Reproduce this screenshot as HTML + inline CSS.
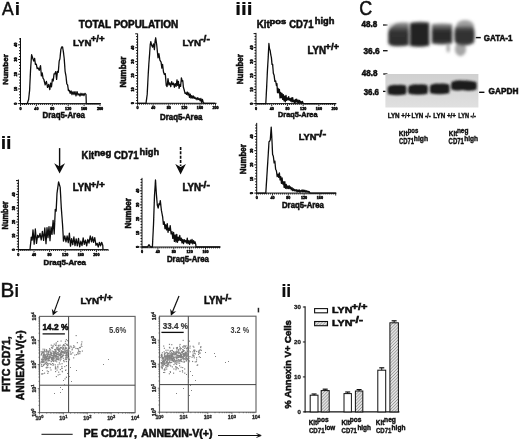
<!DOCTYPE html>
<html><head><meta charset="utf-8"><title>Figure</title>
<style>
html,body{margin:0;padding:0;background:#fff;}
body{width:520px;height:442px;overflow:hidden;}
svg{display:block;font-family:"Liberation Sans", Arial, sans-serif;}
</style></head><body>
<svg width="520" height="442" viewBox="0 0 520 442">
<defs>
<filter id="b1" x="-30%" y="-60%" width="160%" height="220%"><feGaussianBlur stdDeviation="1.6"/></filter>
<filter id="b2" x="-30%" y="-60%" width="160%" height="220%"><feGaussianBlur stdDeviation="0.9"/></filter>
<filter id="b3" x="-50%" y="-50%" width="200%" height="200%"><feGaussianBlur stdDeviation="2.5"/></filter>
<filter id="soft" x="0" y="0" width="100%" height="100%"><feGaussianBlur stdDeviation="0.42"/></filter>
<pattern id="hatch" width="2.2" height="2.2" patternUnits="userSpaceOnUse" patternTransform="rotate(45)"><rect width="2.2" height="2.2" fill="#e2e2e2"/><line x1="0" y1="0" x2="0" y2="2.2" stroke="#777" stroke-width="1"/></pattern>
</defs>
<rect width="520" height="442" fill="#fff"/>
<g filter="url(#soft)">
<text x="2.10" y="14.80" font-size="19.13" font-weight="normal" fill="#111" stroke="#111" stroke-width="0.55" textLength="11.61" lengthAdjust="spacingAndGlyphs">A</text>
<text x="14.70" y="14.80" font-size="18.31" font-weight="bold" fill="#111" stroke="#111" stroke-width="0.2" textLength="5.33" lengthAdjust="spacingAndGlyphs">i</text>
<text x="0.49" y="297.00" font-size="19.41" font-weight="normal" fill="#111" stroke="#111" stroke-width="0.55" textLength="13.78" lengthAdjust="spacingAndGlyphs">B</text>
<text x="14.50" y="297.00" font-size="17.91" font-weight="bold" fill="#111" stroke="#111" stroke-width="0.2" textLength="4.45" lengthAdjust="spacingAndGlyphs">i</text>
<text x="359.16" y="15.00" font-size="20.27" font-weight="normal" fill="#111" stroke="#111" stroke-width="0.55" textLength="12.96" lengthAdjust="spacingAndGlyphs">C</text>
<text x="0.68" y="148.80" font-size="18.31" font-weight="bold" fill="#111" stroke="#111" stroke-width="0.2" textLength="10.88" lengthAdjust="spacingAndGlyphs">ii</text>
<text x="235.31" y="14.60" font-size="17.50" font-weight="bold" fill="#111" stroke="#111" stroke-width="0.2" textLength="17.21" lengthAdjust="spacingAndGlyphs">iii</text>
<text x="281.51" y="297.00" font-size="18.18" font-weight="bold" fill="#111" stroke="#111" stroke-width="0.2" textLength="9.73" lengthAdjust="spacingAndGlyphs">ii</text>
<text x="78.80" y="27.80" font-size="10.03" font-weight="bold" fill="#111" stroke="#111" stroke-width="0.55" textLength="99.35" lengthAdjust="spacingAndGlyphs">TOTAL POPULATION</text>
<text x="81.61" y="159.40" font-size="10.31" font-weight="bold" fill="#111" stroke="#111" stroke-width="0.55" textLength="12.53" lengthAdjust="spacingAndGlyphs">Kit</text>
<text x="94.31" y="156.00" font-size="8.50" font-weight="bold" fill="#111" stroke="#111" stroke-width="0.55" textLength="16.90" lengthAdjust="spacingAndGlyphs">neg</text>
<text x="114.10" y="159.00" font-size="10.31" font-weight="bold" fill="#111" stroke="#111" stroke-width="0.55" textLength="24.44" lengthAdjust="spacingAndGlyphs">CD71</text>
<text x="139.62" y="154.70" font-size="9.19" font-weight="bold" fill="#111" stroke="#111" stroke-width="0.55" textLength="19.42" lengthAdjust="spacingAndGlyphs">high</text>
<text x="256.79" y="28.00" font-size="10.31" font-weight="bold" fill="#111" stroke="#111" stroke-width="0.55" textLength="12.95" lengthAdjust="spacingAndGlyphs">Kit</text>
<text x="269.52" y="23.50" font-size="7.41" font-weight="bold" fill="#111" stroke="#111" stroke-width="0.55" textLength="16.56" lengthAdjust="spacingAndGlyphs">pos</text>
<text x="289.20" y="28.00" font-size="10.31" font-weight="bold" fill="#111" stroke="#111" stroke-width="0.55" textLength="24.23" lengthAdjust="spacingAndGlyphs">CD71</text>
<text x="314.72" y="23.50" font-size="8.92" font-weight="bold" fill="#111" stroke="#111" stroke-width="0.55" textLength="19.63" lengthAdjust="spacingAndGlyphs">high</text>
<text x="72.89" y="45.50" font-size="9.88" font-weight="bold" fill="#111" stroke="#111" stroke-width="0.55" textLength="18.55" lengthAdjust="spacingAndGlyphs">LYN</text>
<text x="90.70" y="42.40" font-size="9.06" font-weight="bold" fill="#111" stroke="#111" stroke-width="0.55" textLength="13.86" lengthAdjust="spacingAndGlyphs">+/+</text>
<text x="182.39" y="45.50" font-size="9.88" font-weight="bold" fill="#111" stroke="#111" stroke-width="0.55" textLength="18.55" lengthAdjust="spacingAndGlyphs">LYN</text>
<text x="200.18" y="42.40" font-size="9.06" font-weight="bold" fill="#111" stroke="#111" stroke-width="0.55" textLength="9.69" lengthAdjust="spacingAndGlyphs">-/-</text>
<text x="72.69" y="190.80" font-size="10.03" font-weight="bold" fill="#111" stroke="#111" stroke-width="0.55" textLength="18.55" lengthAdjust="spacingAndGlyphs">LYN</text>
<text x="90.49" y="187.70" font-size="9.06" font-weight="bold" fill="#111" stroke="#111" stroke-width="0.55" textLength="14.38" lengthAdjust="spacingAndGlyphs">+/+</text>
<text x="182.39" y="190.80" font-size="10.03" font-weight="bold" fill="#111" stroke="#111" stroke-width="0.55" textLength="18.55" lengthAdjust="spacingAndGlyphs">LYN</text>
<text x="200.18" y="187.70" font-size="9.06" font-weight="bold" fill="#111" stroke="#111" stroke-width="0.55" textLength="9.69" lengthAdjust="spacingAndGlyphs">-/-</text>
<text x="307.49" y="53.50" font-size="10.03" font-weight="bold" fill="#111" stroke="#111" stroke-width="0.55" textLength="18.55" lengthAdjust="spacingAndGlyphs">LYN</text>
<text x="325.30" y="50.00" font-size="9.06" font-weight="bold" fill="#111" stroke="#111" stroke-width="0.55" textLength="13.86" lengthAdjust="spacingAndGlyphs">+/+</text>
<text x="298.72" y="140.30" font-size="9.32" font-weight="bold" fill="#111" stroke="#111" stroke-width="0.55" textLength="17.69" lengthAdjust="spacingAndGlyphs">LYN</text>
<text x="315.65" y="137.00" font-size="8.78" font-weight="bold" fill="#111" stroke="#111" stroke-width="0.55" textLength="10.55" lengthAdjust="spacingAndGlyphs">-/-</text>
<text x="80.39" y="303.50" font-size="9.88" font-weight="bold" fill="#111" stroke="#111" stroke-width="0.55" textLength="18.55" lengthAdjust="spacingAndGlyphs">LYN</text>
<text x="98.19" y="300.50" font-size="9.19" font-weight="bold" fill="#111" stroke="#111" stroke-width="0.55" textLength="14.38" lengthAdjust="spacingAndGlyphs">+/+</text>
<text x="203.99" y="303.90" font-size="10.45" font-weight="bold" fill="#111" stroke="#111" stroke-width="0.55" textLength="18.55" lengthAdjust="spacingAndGlyphs">LYN</text>
<text x="221.78" y="300.50" font-size="9.19" font-weight="bold" fill="#111" stroke="#111" stroke-width="0.55" textLength="9.80" lengthAdjust="spacingAndGlyphs">-/-</text>
<text x="332.03" y="313.40" font-size="9.17" font-weight="bold" fill="#111" stroke="#111" stroke-width="0.55" textLength="20.37" lengthAdjust="spacingAndGlyphs">LYN</text>
<text x="351.55" y="309.50" font-size="9.33" font-weight="bold" fill="#111" stroke="#111" stroke-width="0.55" textLength="16.06" lengthAdjust="spacingAndGlyphs">+/+</text>
<text x="332.03" y="326.20" font-size="9.03" font-weight="bold" fill="#111" stroke="#111" stroke-width="0.55" textLength="20.37" lengthAdjust="spacingAndGlyphs">LYN</text>
<text x="351.52" y="323.00" font-size="8.24" font-weight="bold" fill="#111" stroke="#111" stroke-width="0.55" textLength="11.41" lengthAdjust="spacingAndGlyphs">-/-</text>
<text transform="translate(7.80,84.70) rotate(-90)" x="0" y="0" font-size="8.10" font-weight="bold" fill="#111" stroke="#111" stroke-width="0.55" textLength="30.52" lengthAdjust="spacingAndGlyphs">Number</text>
<text transform="translate(125.50,87.61) rotate(-90)" x="0" y="0" font-size="8.37" font-weight="bold" fill="#111" stroke="#111" stroke-width="0.55" textLength="31.03" lengthAdjust="spacingAndGlyphs">Number</text>
<text transform="translate(7.60,229.47) rotate(-90)" x="0" y="0" font-size="8.37" font-weight="bold" fill="#111" stroke="#111" stroke-width="0.55" textLength="28.17" lengthAdjust="spacingAndGlyphs">Number</text>
<text transform="translate(131.40,228.61) rotate(-90)" x="0" y="0" font-size="8.37" font-weight="bold" fill="#111" stroke="#111" stroke-width="0.55" textLength="30.62" lengthAdjust="spacingAndGlyphs">Number</text>
<text transform="translate(243.30,84.20) rotate(-90)" x="0" y="0" font-size="8.78" font-weight="bold" fill="#111" stroke="#111" stroke-width="0.55" textLength="30.11" lengthAdjust="spacingAndGlyphs">Number</text>
<text transform="translate(246.30,174.20) rotate(-90)" x="0" y="0" font-size="8.78" font-weight="bold" fill="#111" stroke="#111" stroke-width="0.55" textLength="30.11" lengthAdjust="spacingAndGlyphs">Number</text>
<text x="42.51" y="118.00" font-size="8.46" font-weight="bold" fill="#111" stroke="#111" stroke-width="0.55" textLength="42.44" lengthAdjust="spacingAndGlyphs">Draq5-Area</text>
<text x="160.01" y="120.00" font-size="8.46" font-weight="bold" fill="#111" stroke="#111" stroke-width="0.55" textLength="42.44" lengthAdjust="spacingAndGlyphs">Draq5-Area</text>
<text x="43.51" y="264.50" font-size="7.75" font-weight="bold" fill="#111" stroke="#111" stroke-width="0.55" textLength="42.44" lengthAdjust="spacingAndGlyphs">Draq5-Area</text>
<text x="167.01" y="262.00" font-size="8.46" font-weight="bold" fill="#111" stroke="#111" stroke-width="0.55" textLength="41.94" lengthAdjust="spacingAndGlyphs">Draq5-Area</text>
<text x="278.04" y="117.00" font-size="7.75" font-weight="bold" fill="#111" stroke="#111" stroke-width="0.55" textLength="39.41" lengthAdjust="spacingAndGlyphs">Draq5-Area</text>
<text x="282.01" y="207.50" font-size="8.46" font-weight="bold" fill="#111" stroke="#111" stroke-width="0.55" textLength="41.94" lengthAdjust="spacingAndGlyphs">Draq5-Area</text>
<line x1="20.50" y1="38.00" x2="20.50" y2="104.10" stroke="#111" stroke-width="1"/>
<line x1="20.00" y1="103.60" x2="101.00" y2="103.60" stroke="#111" stroke-width="1"/>
<line x1="18.10" y1="103.60" x2="20.50" y2="103.60" stroke="#111" stroke-width="1.0"/>
<line x1="19.00" y1="100.66" x2="20.50" y2="100.66" stroke="#111" stroke-width="1.0"/>
<line x1="19.00" y1="97.72" x2="20.50" y2="97.72" stroke="#111" stroke-width="1.0"/>
<line x1="19.00" y1="94.78" x2="20.50" y2="94.78" stroke="#111" stroke-width="1.0"/>
<line x1="19.00" y1="91.84" x2="20.50" y2="91.84" stroke="#111" stroke-width="1.0"/>
<line x1="18.10" y1="88.90" x2="20.50" y2="88.90" stroke="#111" stroke-width="1.0"/>
<line x1="19.00" y1="85.96" x2="20.50" y2="85.96" stroke="#111" stroke-width="1.0"/>
<line x1="19.00" y1="83.02" x2="20.50" y2="83.02" stroke="#111" stroke-width="1.0"/>
<line x1="19.00" y1="80.08" x2="20.50" y2="80.08" stroke="#111" stroke-width="1.0"/>
<line x1="19.00" y1="77.14" x2="20.50" y2="77.14" stroke="#111" stroke-width="1.0"/>
<line x1="18.10" y1="74.20" x2="20.50" y2="74.20" stroke="#111" stroke-width="1.0"/>
<line x1="19.00" y1="71.26" x2="20.50" y2="71.26" stroke="#111" stroke-width="1.0"/>
<line x1="19.00" y1="68.32" x2="20.50" y2="68.32" stroke="#111" stroke-width="1.0"/>
<line x1="19.00" y1="65.38" x2="20.50" y2="65.38" stroke="#111" stroke-width="1.0"/>
<line x1="19.00" y1="62.44" x2="20.50" y2="62.44" stroke="#111" stroke-width="1.0"/>
<line x1="18.10" y1="59.50" x2="20.50" y2="59.50" stroke="#111" stroke-width="1.0"/>
<line x1="19.00" y1="56.56" x2="20.50" y2="56.56" stroke="#111" stroke-width="1.0"/>
<line x1="19.00" y1="53.62" x2="20.50" y2="53.62" stroke="#111" stroke-width="1.0"/>
<line x1="19.00" y1="50.68" x2="20.50" y2="50.68" stroke="#111" stroke-width="1.0"/>
<line x1="19.00" y1="47.74" x2="20.50" y2="47.74" stroke="#111" stroke-width="1.0"/>
<line x1="18.10" y1="44.80" x2="20.50" y2="44.80" stroke="#111" stroke-width="1.0"/>
<line x1="19.00" y1="41.86" x2="20.50" y2="41.86" stroke="#111" stroke-width="1.0"/>
<line x1="19.00" y1="38.92" x2="20.50" y2="38.92" stroke="#111" stroke-width="1.0"/>
<line x1="20.50" y1="103.60" x2="20.50" y2="106.00" stroke="#111" stroke-width="0.9"/>
<line x1="22.49" y1="103.60" x2="22.49" y2="105.00" stroke="#111" stroke-width="0.9"/>
<line x1="24.48" y1="103.60" x2="24.48" y2="105.00" stroke="#111" stroke-width="0.9"/>
<line x1="26.46" y1="103.60" x2="26.46" y2="105.00" stroke="#111" stroke-width="0.9"/>
<line x1="28.45" y1="103.60" x2="28.45" y2="105.00" stroke="#111" stroke-width="0.9"/>
<line x1="30.44" y1="103.60" x2="30.44" y2="105.00" stroke="#111" stroke-width="0.9"/>
<line x1="32.42" y1="103.60" x2="32.42" y2="105.00" stroke="#111" stroke-width="0.9"/>
<line x1="34.41" y1="103.60" x2="34.41" y2="105.00" stroke="#111" stroke-width="0.9"/>
<line x1="36.40" y1="103.60" x2="36.40" y2="106.00" stroke="#111" stroke-width="0.9"/>
<line x1="38.39" y1="103.60" x2="38.39" y2="105.00" stroke="#111" stroke-width="0.9"/>
<line x1="40.38" y1="103.60" x2="40.38" y2="105.00" stroke="#111" stroke-width="0.9"/>
<line x1="42.36" y1="103.60" x2="42.36" y2="105.00" stroke="#111" stroke-width="0.9"/>
<line x1="44.35" y1="103.60" x2="44.35" y2="105.00" stroke="#111" stroke-width="0.9"/>
<line x1="46.34" y1="103.60" x2="46.34" y2="105.00" stroke="#111" stroke-width="0.9"/>
<line x1="48.33" y1="103.60" x2="48.33" y2="105.00" stroke="#111" stroke-width="0.9"/>
<line x1="50.31" y1="103.60" x2="50.31" y2="105.00" stroke="#111" stroke-width="0.9"/>
<line x1="52.30" y1="103.60" x2="52.30" y2="106.00" stroke="#111" stroke-width="0.9"/>
<line x1="54.29" y1="103.60" x2="54.29" y2="105.00" stroke="#111" stroke-width="0.9"/>
<line x1="56.27" y1="103.60" x2="56.27" y2="105.00" stroke="#111" stroke-width="0.9"/>
<line x1="58.26" y1="103.60" x2="58.26" y2="105.00" stroke="#111" stroke-width="0.9"/>
<line x1="60.25" y1="103.60" x2="60.25" y2="105.00" stroke="#111" stroke-width="0.9"/>
<line x1="62.24" y1="103.60" x2="62.24" y2="105.00" stroke="#111" stroke-width="0.9"/>
<line x1="64.22" y1="103.60" x2="64.22" y2="105.00" stroke="#111" stroke-width="0.9"/>
<line x1="66.21" y1="103.60" x2="66.21" y2="105.00" stroke="#111" stroke-width="0.9"/>
<line x1="68.20" y1="103.60" x2="68.20" y2="106.00" stroke="#111" stroke-width="0.9"/>
<line x1="70.19" y1="103.60" x2="70.19" y2="105.00" stroke="#111" stroke-width="0.9"/>
<line x1="72.18" y1="103.60" x2="72.18" y2="105.00" stroke="#111" stroke-width="0.9"/>
<line x1="74.16" y1="103.60" x2="74.16" y2="105.00" stroke="#111" stroke-width="0.9"/>
<line x1="76.15" y1="103.60" x2="76.15" y2="105.00" stroke="#111" stroke-width="0.9"/>
<line x1="78.14" y1="103.60" x2="78.14" y2="105.00" stroke="#111" stroke-width="0.9"/>
<line x1="80.12" y1="103.60" x2="80.12" y2="105.00" stroke="#111" stroke-width="0.9"/>
<line x1="82.11" y1="103.60" x2="82.11" y2="105.00" stroke="#111" stroke-width="0.9"/>
<line x1="84.10" y1="103.60" x2="84.10" y2="106.00" stroke="#111" stroke-width="0.9"/>
<line x1="86.09" y1="103.60" x2="86.09" y2="105.00" stroke="#111" stroke-width="0.9"/>
<line x1="88.08" y1="103.60" x2="88.08" y2="105.00" stroke="#111" stroke-width="0.9"/>
<line x1="90.06" y1="103.60" x2="90.06" y2="105.00" stroke="#111" stroke-width="0.9"/>
<line x1="92.05" y1="103.60" x2="92.05" y2="105.00" stroke="#111" stroke-width="0.9"/>
<line x1="94.04" y1="103.60" x2="94.04" y2="105.00" stroke="#111" stroke-width="0.9"/>
<line x1="96.03" y1="103.60" x2="96.03" y2="105.00" stroke="#111" stroke-width="0.9"/>
<line x1="98.01" y1="103.60" x2="98.01" y2="105.00" stroke="#111" stroke-width="0.9"/>
<line x1="100.00" y1="103.60" x2="100.00" y2="106.00" stroke="#111" stroke-width="0.9"/>
<text transform="translate(17.10,103.60) rotate(-90)" text-anchor="middle" font-size="3.7" font-weight="bold" fill="#111" stroke="#111" stroke-width="0.5">0</text>
<text transform="translate(17.10,88.90) rotate(-90)" text-anchor="middle" font-size="3.7" font-weight="bold" fill="#111" stroke="#111" stroke-width="0.5">10</text>
<text transform="translate(17.10,74.20) rotate(-90)" text-anchor="middle" font-size="3.7" font-weight="bold" fill="#111" stroke="#111" stroke-width="0.5">20</text>
<text transform="translate(17.10,59.50) rotate(-90)" text-anchor="middle" font-size="3.7" font-weight="bold" fill="#111" stroke="#111" stroke-width="0.5">30</text>
<text transform="translate(17.10,44.80) rotate(-90)" text-anchor="middle" font-size="3.7" font-weight="bold" fill="#111" stroke="#111" stroke-width="0.5">40</text>
<text x="20.50" y="109.60" text-anchor="middle" font-size="3.7" font-weight="bold" fill="#111" stroke="#111" stroke-width="0.5">0</text>
<text x="36.40" y="109.60" text-anchor="middle" font-size="3.7" font-weight="bold" fill="#111" stroke="#111" stroke-width="0.5">40</text>
<text x="52.30" y="109.60" text-anchor="middle" font-size="3.7" font-weight="bold" fill="#111" stroke="#111" stroke-width="0.5">80</text>
<text x="68.20" y="109.60" text-anchor="middle" font-size="3.7" font-weight="bold" fill="#111" stroke="#111" stroke-width="0.5">120</text>
<text x="84.10" y="109.60" text-anchor="middle" font-size="3.7" font-weight="bold" fill="#111" stroke="#111" stroke-width="0.5">160</text>
<text x="100.00" y="109.60" text-anchor="middle" font-size="3.7" font-weight="bold" fill="#111" stroke="#111" stroke-width="0.5">200</text>
<path d="M20.50,103.60 L21.46,103.60 L22.41,103.60 L23.37,103.60 L24.33,103.60 L25.29,103.60 L26.24,103.60 L27.20,103.60 L28.60,99.46 L29.60,90.31 L30.60,68.91 L31.60,54.72 L32.90,58.77 L33.75,61.03 L34.60,58.30 L35.45,64.39 L36.30,64.13 L37.15,68.54 L38.00,67.91 L39.25,70.21 L40.50,65.57 L41.40,75.93 L42.20,72.90 L43.00,78.05 L43.90,79.49 L45.15,84.84 L46.40,81.48 L47.53,87.46 L48.67,84.43 L49.80,89.66 L50.65,83.18 L51.50,86.76 L52.35,79.08 L53.20,81.01 L54.05,73.88 L54.90,73.75 L55.75,71.61 L56.60,79.37 L57.45,71.43 L58.30,72.25 L59.15,61.35 L60.00,58.31 L60.85,49.47 L61.70,47.01 L62.55,46.97 L63.40,51.93 L64.20,58.47 L65.10,71.27 L66.00,76.11 L66.80,83.88 L67.60,84.82 L68.45,90.63 L69.30,90.31 L70.20,93.29 L71.10,90.85 L72.00,94.55 L73.00,91.72 L74.00,94.66 L75.00,91.56 L76.00,95.94 L77.00,91.55 L78.00,95.00 L79.00,93.80 L80.00,96.00 L81.00,93.29 L82.00,95.41 L83.00,93.49 L84.00,95.61 L85.00,93.34 L86.00,94.38 L86.30,103.60 L87.28,103.60 L88.26,103.60 L89.24,103.60 L90.21,103.60 L91.19,103.60 L92.17,103.60 L93.15,103.60 L94.13,103.60 L95.11,103.60 L96.09,103.60 L97.06,103.60 L98.04,103.60 L99.02,103.60 L100.00,103.60" fill="none" stroke="#111" stroke-width="1.3" stroke-linejoin="round"/>
<line x1="137.60" y1="33.60" x2="137.60" y2="103.80" stroke="#111" stroke-width="1"/>
<line x1="137.10" y1="103.30" x2="216.50" y2="103.30" stroke="#111" stroke-width="1"/>
<line x1="135.20" y1="103.30" x2="137.60" y2="103.30" stroke="#111" stroke-width="1.0"/>
<line x1="136.10" y1="100.52" x2="137.60" y2="100.52" stroke="#111" stroke-width="1.0"/>
<line x1="136.10" y1="97.74" x2="137.60" y2="97.74" stroke="#111" stroke-width="1.0"/>
<line x1="136.10" y1="94.96" x2="137.60" y2="94.96" stroke="#111" stroke-width="1.0"/>
<line x1="136.10" y1="92.18" x2="137.60" y2="92.18" stroke="#111" stroke-width="1.0"/>
<line x1="135.20" y1="89.40" x2="137.60" y2="89.40" stroke="#111" stroke-width="1.0"/>
<line x1="136.10" y1="86.62" x2="137.60" y2="86.62" stroke="#111" stroke-width="1.0"/>
<line x1="136.10" y1="83.84" x2="137.60" y2="83.84" stroke="#111" stroke-width="1.0"/>
<line x1="136.10" y1="81.06" x2="137.60" y2="81.06" stroke="#111" stroke-width="1.0"/>
<line x1="136.10" y1="78.28" x2="137.60" y2="78.28" stroke="#111" stroke-width="1.0"/>
<line x1="135.20" y1="75.50" x2="137.60" y2="75.50" stroke="#111" stroke-width="1.0"/>
<line x1="136.10" y1="72.72" x2="137.60" y2="72.72" stroke="#111" stroke-width="1.0"/>
<line x1="136.10" y1="69.94" x2="137.60" y2="69.94" stroke="#111" stroke-width="1.0"/>
<line x1="136.10" y1="67.16" x2="137.60" y2="67.16" stroke="#111" stroke-width="1.0"/>
<line x1="136.10" y1="64.38" x2="137.60" y2="64.38" stroke="#111" stroke-width="1.0"/>
<line x1="135.20" y1="61.60" x2="137.60" y2="61.60" stroke="#111" stroke-width="1.0"/>
<line x1="136.10" y1="58.82" x2="137.60" y2="58.82" stroke="#111" stroke-width="1.0"/>
<line x1="136.10" y1="56.04" x2="137.60" y2="56.04" stroke="#111" stroke-width="1.0"/>
<line x1="136.10" y1="53.26" x2="137.60" y2="53.26" stroke="#111" stroke-width="1.0"/>
<line x1="136.10" y1="50.48" x2="137.60" y2="50.48" stroke="#111" stroke-width="1.0"/>
<line x1="135.20" y1="47.70" x2="137.60" y2="47.70" stroke="#111" stroke-width="1.0"/>
<line x1="136.10" y1="44.92" x2="137.60" y2="44.92" stroke="#111" stroke-width="1.0"/>
<line x1="136.10" y1="42.14" x2="137.60" y2="42.14" stroke="#111" stroke-width="1.0"/>
<line x1="136.10" y1="39.36" x2="137.60" y2="39.36" stroke="#111" stroke-width="1.0"/>
<line x1="136.10" y1="36.58" x2="137.60" y2="36.58" stroke="#111" stroke-width="1.0"/>
<line x1="135.20" y1="33.80" x2="137.60" y2="33.80" stroke="#111" stroke-width="1.0"/>
<line x1="137.60" y1="103.30" x2="137.60" y2="105.70" stroke="#111" stroke-width="0.9"/>
<line x1="139.55" y1="103.30" x2="139.55" y2="104.70" stroke="#111" stroke-width="0.9"/>
<line x1="141.50" y1="103.30" x2="141.50" y2="104.70" stroke="#111" stroke-width="0.9"/>
<line x1="143.44" y1="103.30" x2="143.44" y2="104.70" stroke="#111" stroke-width="0.9"/>
<line x1="145.39" y1="103.30" x2="145.39" y2="104.70" stroke="#111" stroke-width="0.9"/>
<line x1="147.34" y1="103.30" x2="147.34" y2="104.70" stroke="#111" stroke-width="0.9"/>
<line x1="149.28" y1="103.30" x2="149.28" y2="104.70" stroke="#111" stroke-width="0.9"/>
<line x1="151.23" y1="103.30" x2="151.23" y2="104.70" stroke="#111" stroke-width="0.9"/>
<line x1="153.18" y1="103.30" x2="153.18" y2="105.70" stroke="#111" stroke-width="0.9"/>
<line x1="155.13" y1="103.30" x2="155.13" y2="104.70" stroke="#111" stroke-width="0.9"/>
<line x1="157.07" y1="103.30" x2="157.07" y2="104.70" stroke="#111" stroke-width="0.9"/>
<line x1="159.02" y1="103.30" x2="159.02" y2="104.70" stroke="#111" stroke-width="0.9"/>
<line x1="160.97" y1="103.30" x2="160.97" y2="104.70" stroke="#111" stroke-width="0.9"/>
<line x1="162.92" y1="103.30" x2="162.92" y2="104.70" stroke="#111" stroke-width="0.9"/>
<line x1="164.87" y1="103.30" x2="164.87" y2="104.70" stroke="#111" stroke-width="0.9"/>
<line x1="166.81" y1="103.30" x2="166.81" y2="104.70" stroke="#111" stroke-width="0.9"/>
<line x1="168.76" y1="103.30" x2="168.76" y2="105.70" stroke="#111" stroke-width="0.9"/>
<line x1="170.71" y1="103.30" x2="170.71" y2="104.70" stroke="#111" stroke-width="0.9"/>
<line x1="172.66" y1="103.30" x2="172.66" y2="104.70" stroke="#111" stroke-width="0.9"/>
<line x1="174.60" y1="103.30" x2="174.60" y2="104.70" stroke="#111" stroke-width="0.9"/>
<line x1="176.55" y1="103.30" x2="176.55" y2="104.70" stroke="#111" stroke-width="0.9"/>
<line x1="178.50" y1="103.30" x2="178.50" y2="104.70" stroke="#111" stroke-width="0.9"/>
<line x1="180.44" y1="103.30" x2="180.44" y2="104.70" stroke="#111" stroke-width="0.9"/>
<line x1="182.39" y1="103.30" x2="182.39" y2="104.70" stroke="#111" stroke-width="0.9"/>
<line x1="184.34" y1="103.30" x2="184.34" y2="105.70" stroke="#111" stroke-width="0.9"/>
<line x1="186.29" y1="103.30" x2="186.29" y2="104.70" stroke="#111" stroke-width="0.9"/>
<line x1="188.24" y1="103.30" x2="188.24" y2="104.70" stroke="#111" stroke-width="0.9"/>
<line x1="190.18" y1="103.30" x2="190.18" y2="104.70" stroke="#111" stroke-width="0.9"/>
<line x1="192.13" y1="103.30" x2="192.13" y2="104.70" stroke="#111" stroke-width="0.9"/>
<line x1="194.08" y1="103.30" x2="194.08" y2="104.70" stroke="#111" stroke-width="0.9"/>
<line x1="196.03" y1="103.30" x2="196.03" y2="104.70" stroke="#111" stroke-width="0.9"/>
<line x1="197.97" y1="103.30" x2="197.97" y2="104.70" stroke="#111" stroke-width="0.9"/>
<line x1="199.92" y1="103.30" x2="199.92" y2="105.70" stroke="#111" stroke-width="0.9"/>
<line x1="201.87" y1="103.30" x2="201.87" y2="104.70" stroke="#111" stroke-width="0.9"/>
<line x1="203.81" y1="103.30" x2="203.81" y2="104.70" stroke="#111" stroke-width="0.9"/>
<line x1="205.76" y1="103.30" x2="205.76" y2="104.70" stroke="#111" stroke-width="0.9"/>
<line x1="207.71" y1="103.30" x2="207.71" y2="104.70" stroke="#111" stroke-width="0.9"/>
<line x1="209.66" y1="103.30" x2="209.66" y2="104.70" stroke="#111" stroke-width="0.9"/>
<line x1="211.60" y1="103.30" x2="211.60" y2="104.70" stroke="#111" stroke-width="0.9"/>
<line x1="213.55" y1="103.30" x2="213.55" y2="104.70" stroke="#111" stroke-width="0.9"/>
<line x1="215.50" y1="103.30" x2="215.50" y2="105.70" stroke="#111" stroke-width="0.9"/>
<text transform="translate(134.20,103.30) rotate(-90)" text-anchor="middle" font-size="3.7" font-weight="bold" fill="#111" stroke="#111" stroke-width="0.5">0</text>
<text transform="translate(134.20,89.40) rotate(-90)" text-anchor="middle" font-size="3.7" font-weight="bold" fill="#111" stroke="#111" stroke-width="0.5">10</text>
<text transform="translate(134.20,75.50) rotate(-90)" text-anchor="middle" font-size="3.7" font-weight="bold" fill="#111" stroke="#111" stroke-width="0.5">20</text>
<text transform="translate(134.20,61.60) rotate(-90)" text-anchor="middle" font-size="3.7" font-weight="bold" fill="#111" stroke="#111" stroke-width="0.5">30</text>
<text transform="translate(134.20,47.70) rotate(-90)" text-anchor="middle" font-size="3.7" font-weight="bold" fill="#111" stroke="#111" stroke-width="0.5">40</text>
<text x="137.60" y="109.30" text-anchor="middle" font-size="3.7" font-weight="bold" fill="#111" stroke="#111" stroke-width="0.5">0</text>
<text x="153.18" y="109.30" text-anchor="middle" font-size="3.7" font-weight="bold" fill="#111" stroke="#111" stroke-width="0.5">40</text>
<text x="168.76" y="109.30" text-anchor="middle" font-size="3.7" font-weight="bold" fill="#111" stroke="#111" stroke-width="0.5">80</text>
<text x="184.34" y="109.30" text-anchor="middle" font-size="3.7" font-weight="bold" fill="#111" stroke="#111" stroke-width="0.5">120</text>
<text x="199.92" y="109.30" text-anchor="middle" font-size="3.7" font-weight="bold" fill="#111" stroke="#111" stroke-width="0.5">160</text>
<text x="215.50" y="109.30" text-anchor="middle" font-size="3.7" font-weight="bold" fill="#111" stroke="#111" stroke-width="0.5">200</text>
<path d="M137.60,103.30 L138.36,103.30 L139.13,103.30 L139.89,103.30 L140.65,103.30 L141.42,103.30 L142.18,103.30 L142.95,103.30 L143.71,103.30 L144.47,103.30 L145.24,103.30 L146.00,103.30 L147.20,94.39 L148.10,76.42 L148.85,63.74 L149.60,54.13 L150.20,45.08 L150.80,41.59 L151.70,45.42 L152.60,47.07 L153.50,43.97 L154.40,49.58 L155.05,41.40 L155.70,37.77 L156.80,45.57 L158.00,57.79 L158.95,53.73 L159.90,60.11 L161.10,62.05 L161.85,68.11 L162.60,64.46 L163.50,71.98 L164.40,74.41 L165.30,73.60 L166.20,85.07 L167.10,86.55 L168.00,78.62 L168.90,84.96 L169.80,82.83 L170.73,86.64 L171.67,81.76 L172.60,84.64 L173.50,83.14 L174.40,87.23 L175.27,83.66 L176.13,86.43 L177.00,79.93 L177.70,85.40 L178.40,81.33 L179.10,88.41 L179.80,84.77 L180.60,86.42 L181.40,77.82 L182.20,80.99 L182.80,80.79 L183.40,87.21 L184.30,90.29 L185.04,93.36 L185.78,92.84 L186.52,94.37 L187.26,92.02 L188.00,95.15 L188.75,92.96 L189.50,97.31 L190.25,94.13 L191.00,98.07 L191.75,95.72 L192.50,98.04 L193.25,95.91 L194.00,98.44 L194.75,96.99 L195.50,98.78 L196.25,98.07 L197.00,99.77 L197.77,97.67 L198.54,99.52 L199.31,98.73 L200.09,100.79 L200.86,98.41 L201.63,102.30 L202.40,99.49 L203.30,102.45 L204.20,103.30 L204.97,103.30 L205.74,103.30 L206.51,103.30 L207.29,103.30 L208.06,103.30 L208.83,103.30 L209.60,103.30 L210.37,103.30 L211.14,103.30 L211.91,103.30 L212.69,103.30 L213.46,103.30 L214.23,103.30 L215.00,103.30" fill="none" stroke="#111" stroke-width="1.3" stroke-linejoin="round"/>
<line x1="18.40" y1="179.50" x2="18.40" y2="250.10" stroke="#111" stroke-width="1"/>
<line x1="17.90" y1="249.60" x2="108.40" y2="249.60" stroke="#111" stroke-width="1"/>
<line x1="16.00" y1="249.60" x2="18.40" y2="249.60" stroke="#111" stroke-width="1.0"/>
<line x1="16.90" y1="246.84" x2="18.40" y2="246.84" stroke="#111" stroke-width="1.0"/>
<line x1="16.90" y1="244.08" x2="18.40" y2="244.08" stroke="#111" stroke-width="1.0"/>
<line x1="16.90" y1="241.32" x2="18.40" y2="241.32" stroke="#111" stroke-width="1.0"/>
<line x1="16.90" y1="238.56" x2="18.40" y2="238.56" stroke="#111" stroke-width="1.0"/>
<line x1="16.00" y1="235.80" x2="18.40" y2="235.80" stroke="#111" stroke-width="1.0"/>
<line x1="16.90" y1="233.04" x2="18.40" y2="233.04" stroke="#111" stroke-width="1.0"/>
<line x1="16.90" y1="230.28" x2="18.40" y2="230.28" stroke="#111" stroke-width="1.0"/>
<line x1="16.90" y1="227.52" x2="18.40" y2="227.52" stroke="#111" stroke-width="1.0"/>
<line x1="16.90" y1="224.76" x2="18.40" y2="224.76" stroke="#111" stroke-width="1.0"/>
<line x1="16.00" y1="222.00" x2="18.40" y2="222.00" stroke="#111" stroke-width="1.0"/>
<line x1="16.90" y1="219.24" x2="18.40" y2="219.24" stroke="#111" stroke-width="1.0"/>
<line x1="16.90" y1="216.48" x2="18.40" y2="216.48" stroke="#111" stroke-width="1.0"/>
<line x1="16.90" y1="213.72" x2="18.40" y2="213.72" stroke="#111" stroke-width="1.0"/>
<line x1="16.90" y1="210.96" x2="18.40" y2="210.96" stroke="#111" stroke-width="1.0"/>
<line x1="16.00" y1="208.20" x2="18.40" y2="208.20" stroke="#111" stroke-width="1.0"/>
<line x1="16.90" y1="205.44" x2="18.40" y2="205.44" stroke="#111" stroke-width="1.0"/>
<line x1="16.90" y1="202.68" x2="18.40" y2="202.68" stroke="#111" stroke-width="1.0"/>
<line x1="16.90" y1="199.92" x2="18.40" y2="199.92" stroke="#111" stroke-width="1.0"/>
<line x1="16.90" y1="197.16" x2="18.40" y2="197.16" stroke="#111" stroke-width="1.0"/>
<line x1="16.00" y1="194.40" x2="18.40" y2="194.40" stroke="#111" stroke-width="1.0"/>
<line x1="16.90" y1="191.64" x2="18.40" y2="191.64" stroke="#111" stroke-width="1.0"/>
<line x1="16.90" y1="188.88" x2="18.40" y2="188.88" stroke="#111" stroke-width="1.0"/>
<line x1="16.90" y1="186.12" x2="18.40" y2="186.12" stroke="#111" stroke-width="1.0"/>
<line x1="16.90" y1="183.36" x2="18.40" y2="183.36" stroke="#111" stroke-width="1.0"/>
<line x1="16.00" y1="180.60" x2="18.40" y2="180.60" stroke="#111" stroke-width="1.0"/>
<line x1="18.40" y1="249.60" x2="18.40" y2="252.00" stroke="#111" stroke-width="0.9"/>
<line x1="20.35" y1="249.60" x2="20.35" y2="251.00" stroke="#111" stroke-width="0.9"/>
<line x1="22.30" y1="249.60" x2="22.30" y2="251.00" stroke="#111" stroke-width="0.9"/>
<line x1="24.25" y1="249.60" x2="24.25" y2="251.00" stroke="#111" stroke-width="0.9"/>
<line x1="26.20" y1="249.60" x2="26.20" y2="251.00" stroke="#111" stroke-width="0.9"/>
<line x1="28.15" y1="249.60" x2="28.15" y2="251.00" stroke="#111" stroke-width="0.9"/>
<line x1="30.10" y1="249.60" x2="30.10" y2="251.00" stroke="#111" stroke-width="0.9"/>
<line x1="32.05" y1="249.60" x2="32.05" y2="251.00" stroke="#111" stroke-width="0.9"/>
<line x1="34.00" y1="249.60" x2="34.00" y2="252.00" stroke="#111" stroke-width="0.9"/>
<line x1="35.95" y1="249.60" x2="35.95" y2="251.00" stroke="#111" stroke-width="0.9"/>
<line x1="37.90" y1="249.60" x2="37.90" y2="251.00" stroke="#111" stroke-width="0.9"/>
<line x1="39.85" y1="249.60" x2="39.85" y2="251.00" stroke="#111" stroke-width="0.9"/>
<line x1="41.80" y1="249.60" x2="41.80" y2="251.00" stroke="#111" stroke-width="0.9"/>
<line x1="43.75" y1="249.60" x2="43.75" y2="251.00" stroke="#111" stroke-width="0.9"/>
<line x1="45.70" y1="249.60" x2="45.70" y2="251.00" stroke="#111" stroke-width="0.9"/>
<line x1="47.65" y1="249.60" x2="47.65" y2="251.00" stroke="#111" stroke-width="0.9"/>
<line x1="49.60" y1="249.60" x2="49.60" y2="252.00" stroke="#111" stroke-width="0.9"/>
<line x1="51.55" y1="249.60" x2="51.55" y2="251.00" stroke="#111" stroke-width="0.9"/>
<line x1="53.50" y1="249.60" x2="53.50" y2="251.00" stroke="#111" stroke-width="0.9"/>
<line x1="55.45" y1="249.60" x2="55.45" y2="251.00" stroke="#111" stroke-width="0.9"/>
<line x1="57.40" y1="249.60" x2="57.40" y2="251.00" stroke="#111" stroke-width="0.9"/>
<line x1="59.35" y1="249.60" x2="59.35" y2="251.00" stroke="#111" stroke-width="0.9"/>
<line x1="61.30" y1="249.60" x2="61.30" y2="251.00" stroke="#111" stroke-width="0.9"/>
<line x1="63.25" y1="249.60" x2="63.25" y2="251.00" stroke="#111" stroke-width="0.9"/>
<line x1="65.20" y1="249.60" x2="65.20" y2="252.00" stroke="#111" stroke-width="0.9"/>
<line x1="67.15" y1="249.60" x2="67.15" y2="251.00" stroke="#111" stroke-width="0.9"/>
<line x1="69.10" y1="249.60" x2="69.10" y2="251.00" stroke="#111" stroke-width="0.9"/>
<line x1="71.05" y1="249.60" x2="71.05" y2="251.00" stroke="#111" stroke-width="0.9"/>
<line x1="73.00" y1="249.60" x2="73.00" y2="251.00" stroke="#111" stroke-width="0.9"/>
<line x1="74.95" y1="249.60" x2="74.95" y2="251.00" stroke="#111" stroke-width="0.9"/>
<line x1="76.90" y1="249.60" x2="76.90" y2="251.00" stroke="#111" stroke-width="0.9"/>
<line x1="78.85" y1="249.60" x2="78.85" y2="251.00" stroke="#111" stroke-width="0.9"/>
<line x1="80.80" y1="249.60" x2="80.80" y2="252.00" stroke="#111" stroke-width="0.9"/>
<line x1="82.75" y1="249.60" x2="82.75" y2="251.00" stroke="#111" stroke-width="0.9"/>
<line x1="84.70" y1="249.60" x2="84.70" y2="251.00" stroke="#111" stroke-width="0.9"/>
<line x1="86.65" y1="249.60" x2="86.65" y2="251.00" stroke="#111" stroke-width="0.9"/>
<line x1="88.60" y1="249.60" x2="88.60" y2="251.00" stroke="#111" stroke-width="0.9"/>
<line x1="90.55" y1="249.60" x2="90.55" y2="251.00" stroke="#111" stroke-width="0.9"/>
<line x1="92.50" y1="249.60" x2="92.50" y2="251.00" stroke="#111" stroke-width="0.9"/>
<line x1="94.45" y1="249.60" x2="94.45" y2="251.00" stroke="#111" stroke-width="0.9"/>
<line x1="96.40" y1="249.60" x2="96.40" y2="252.00" stroke="#111" stroke-width="0.9"/>
<line x1="98.35" y1="249.60" x2="98.35" y2="251.00" stroke="#111" stroke-width="0.9"/>
<line x1="100.30" y1="249.60" x2="100.30" y2="251.00" stroke="#111" stroke-width="0.9"/>
<line x1="102.25" y1="249.60" x2="102.25" y2="251.00" stroke="#111" stroke-width="0.9"/>
<line x1="104.20" y1="249.60" x2="104.20" y2="251.00" stroke="#111" stroke-width="0.9"/>
<line x1="106.15" y1="249.60" x2="106.15" y2="251.00" stroke="#111" stroke-width="0.9"/>
<line x1="108.10" y1="249.60" x2="108.10" y2="251.00" stroke="#111" stroke-width="0.9"/>
<text transform="translate(15.00,249.60) rotate(-90)" text-anchor="middle" font-size="3.7" font-weight="bold" fill="#111" stroke="#111" stroke-width="0.5">0</text>
<text transform="translate(15.00,235.80) rotate(-90)" text-anchor="middle" font-size="3.7" font-weight="bold" fill="#111" stroke="#111" stroke-width="0.5">10</text>
<text transform="translate(15.00,222.00) rotate(-90)" text-anchor="middle" font-size="3.7" font-weight="bold" fill="#111" stroke="#111" stroke-width="0.5">20</text>
<text transform="translate(15.00,208.20) rotate(-90)" text-anchor="middle" font-size="3.7" font-weight="bold" fill="#111" stroke="#111" stroke-width="0.5">30</text>
<text transform="translate(15.00,194.40) rotate(-90)" text-anchor="middle" font-size="3.7" font-weight="bold" fill="#111" stroke="#111" stroke-width="0.5">40</text>
<text x="18.40" y="255.60" text-anchor="middle" font-size="3.7" font-weight="bold" fill="#111" stroke="#111" stroke-width="0.5">0</text>
<text x="34.00" y="255.60" text-anchor="middle" font-size="3.7" font-weight="bold" fill="#111" stroke="#111" stroke-width="0.5">40</text>
<text x="49.60" y="255.60" text-anchor="middle" font-size="3.7" font-weight="bold" fill="#111" stroke="#111" stroke-width="0.5">80</text>
<text x="65.20" y="255.60" text-anchor="middle" font-size="3.7" font-weight="bold" fill="#111" stroke="#111" stroke-width="0.5">120</text>
<text x="80.80" y="255.60" text-anchor="middle" font-size="3.7" font-weight="bold" fill="#111" stroke="#111" stroke-width="0.5">160</text>
<text x="96.40" y="255.60" text-anchor="middle" font-size="3.7" font-weight="bold" fill="#111" stroke="#111" stroke-width="0.5">200</text>
<path d="M18.40,249.60 L19.45,249.60 L20.51,249.60 L21.56,249.60 L22.62,249.60 L23.67,249.60 L24.73,249.60 L25.78,249.60 L26.84,249.60 L27.89,249.60 L28.95,249.60 L30.00,249.60 L31.30,237.19 L32.15,240.21 L33.00,229.90 L34.17,244.13 L35.33,228.95 L36.50,243.37 L37.67,235.28 L38.83,237.57 L40.00,233.37 L41.20,239.99 L42.40,231.40 L43.60,240.34 L44.80,227.87 L46.00,243.60 L47.00,227.59 L48.00,237.60 L49.00,226.54 L50.00,240.68 L51.00,226.98 L52.00,234.44 L53.10,220.33 L54.20,233.97 L55.30,209.29 L56.15,211.12 L57.00,193.30 L58.60,181.81 L60.20,187.43 L61.30,207.94 L62.50,223.93 L63.50,241.13 L64.75,235.95 L66.00,241.76 L67.12,235.79 L68.25,242.68 L69.38,233.19 L70.50,246.09 L71.62,238.68 L72.75,244.57 L73.88,237.01 L75.00,245.64 L76.17,238.87 L77.33,245.93 L78.50,238.45 L79.67,246.75 L80.83,241.26 L82.00,245.68 L83.17,237.81 L84.33,244.28 L85.50,240.14 L86.67,245.76 L87.83,239.40 L89.00,243.05 L90.25,235.92 L91.50,241.82 L92.50,236.88 L93.50,242.45 L94.75,237.71 L96.00,245.30 L97.13,243.31 L98.27,246.99 L99.40,242.33 L100.53,245.90 L101.67,242.30 L102.80,245.47 L103.00,249.60" fill="none" stroke="#111" stroke-width="1.3" stroke-linejoin="round"/>
<line x1="142.00" y1="177.90" x2="142.00" y2="247.50" stroke="#111" stroke-width="1"/>
<line x1="141.50" y1="247.00" x2="220.70" y2="247.00" stroke="#111" stroke-width="1"/>
<line x1="139.60" y1="247.00" x2="142.00" y2="247.00" stroke="#111" stroke-width="1.0"/>
<line x1="140.50" y1="244.19" x2="142.00" y2="244.19" stroke="#111" stroke-width="1.0"/>
<line x1="140.50" y1="241.38" x2="142.00" y2="241.38" stroke="#111" stroke-width="1.0"/>
<line x1="140.50" y1="238.57" x2="142.00" y2="238.57" stroke="#111" stroke-width="1.0"/>
<line x1="140.50" y1="235.76" x2="142.00" y2="235.76" stroke="#111" stroke-width="1.0"/>
<line x1="139.60" y1="232.95" x2="142.00" y2="232.95" stroke="#111" stroke-width="1.0"/>
<line x1="140.50" y1="230.14" x2="142.00" y2="230.14" stroke="#111" stroke-width="1.0"/>
<line x1="140.50" y1="227.33" x2="142.00" y2="227.33" stroke="#111" stroke-width="1.0"/>
<line x1="140.50" y1="224.52" x2="142.00" y2="224.52" stroke="#111" stroke-width="1.0"/>
<line x1="140.50" y1="221.71" x2="142.00" y2="221.71" stroke="#111" stroke-width="1.0"/>
<line x1="139.60" y1="218.90" x2="142.00" y2="218.90" stroke="#111" stroke-width="1.0"/>
<line x1="140.50" y1="216.09" x2="142.00" y2="216.09" stroke="#111" stroke-width="1.0"/>
<line x1="140.50" y1="213.28" x2="142.00" y2="213.28" stroke="#111" stroke-width="1.0"/>
<line x1="140.50" y1="210.47" x2="142.00" y2="210.47" stroke="#111" stroke-width="1.0"/>
<line x1="140.50" y1="207.66" x2="142.00" y2="207.66" stroke="#111" stroke-width="1.0"/>
<line x1="139.60" y1="204.85" x2="142.00" y2="204.85" stroke="#111" stroke-width="1.0"/>
<line x1="140.50" y1="202.04" x2="142.00" y2="202.04" stroke="#111" stroke-width="1.0"/>
<line x1="140.50" y1="199.23" x2="142.00" y2="199.23" stroke="#111" stroke-width="1.0"/>
<line x1="140.50" y1="196.42" x2="142.00" y2="196.42" stroke="#111" stroke-width="1.0"/>
<line x1="140.50" y1="193.61" x2="142.00" y2="193.61" stroke="#111" stroke-width="1.0"/>
<line x1="139.60" y1="190.80" x2="142.00" y2="190.80" stroke="#111" stroke-width="1.0"/>
<line x1="140.50" y1="187.99" x2="142.00" y2="187.99" stroke="#111" stroke-width="1.0"/>
<line x1="140.50" y1="185.18" x2="142.00" y2="185.18" stroke="#111" stroke-width="1.0"/>
<line x1="140.50" y1="182.37" x2="142.00" y2="182.37" stroke="#111" stroke-width="1.0"/>
<line x1="140.50" y1="179.56" x2="142.00" y2="179.56" stroke="#111" stroke-width="1.0"/>
<line x1="142.00" y1="247.00" x2="142.00" y2="249.40" stroke="#111" stroke-width="0.9"/>
<line x1="143.99" y1="247.00" x2="143.99" y2="248.40" stroke="#111" stroke-width="0.9"/>
<line x1="145.97" y1="247.00" x2="145.97" y2="248.40" stroke="#111" stroke-width="0.9"/>
<line x1="147.96" y1="247.00" x2="147.96" y2="248.40" stroke="#111" stroke-width="0.9"/>
<line x1="149.94" y1="247.00" x2="149.94" y2="248.40" stroke="#111" stroke-width="0.9"/>
<line x1="151.93" y1="247.00" x2="151.93" y2="248.40" stroke="#111" stroke-width="0.9"/>
<line x1="153.91" y1="247.00" x2="153.91" y2="248.40" stroke="#111" stroke-width="0.9"/>
<line x1="155.90" y1="247.00" x2="155.90" y2="248.40" stroke="#111" stroke-width="0.9"/>
<line x1="157.88" y1="247.00" x2="157.88" y2="249.40" stroke="#111" stroke-width="0.9"/>
<line x1="159.87" y1="247.00" x2="159.87" y2="248.40" stroke="#111" stroke-width="0.9"/>
<line x1="161.85" y1="247.00" x2="161.85" y2="248.40" stroke="#111" stroke-width="0.9"/>
<line x1="163.84" y1="247.00" x2="163.84" y2="248.40" stroke="#111" stroke-width="0.9"/>
<line x1="165.82" y1="247.00" x2="165.82" y2="248.40" stroke="#111" stroke-width="0.9"/>
<line x1="167.81" y1="247.00" x2="167.81" y2="248.40" stroke="#111" stroke-width="0.9"/>
<line x1="169.79" y1="247.00" x2="169.79" y2="248.40" stroke="#111" stroke-width="0.9"/>
<line x1="171.78" y1="247.00" x2="171.78" y2="248.40" stroke="#111" stroke-width="0.9"/>
<line x1="173.76" y1="247.00" x2="173.76" y2="249.40" stroke="#111" stroke-width="0.9"/>
<line x1="175.75" y1="247.00" x2="175.75" y2="248.40" stroke="#111" stroke-width="0.9"/>
<line x1="177.73" y1="247.00" x2="177.73" y2="248.40" stroke="#111" stroke-width="0.9"/>
<line x1="179.72" y1="247.00" x2="179.72" y2="248.40" stroke="#111" stroke-width="0.9"/>
<line x1="181.70" y1="247.00" x2="181.70" y2="248.40" stroke="#111" stroke-width="0.9"/>
<line x1="183.69" y1="247.00" x2="183.69" y2="248.40" stroke="#111" stroke-width="0.9"/>
<line x1="185.67" y1="247.00" x2="185.67" y2="248.40" stroke="#111" stroke-width="0.9"/>
<line x1="187.66" y1="247.00" x2="187.66" y2="248.40" stroke="#111" stroke-width="0.9"/>
<line x1="189.64" y1="247.00" x2="189.64" y2="249.40" stroke="#111" stroke-width="0.9"/>
<line x1="191.62" y1="247.00" x2="191.62" y2="248.40" stroke="#111" stroke-width="0.9"/>
<line x1="193.61" y1="247.00" x2="193.61" y2="248.40" stroke="#111" stroke-width="0.9"/>
<line x1="195.59" y1="247.00" x2="195.59" y2="248.40" stroke="#111" stroke-width="0.9"/>
<line x1="197.58" y1="247.00" x2="197.58" y2="248.40" stroke="#111" stroke-width="0.9"/>
<line x1="199.56" y1="247.00" x2="199.56" y2="248.40" stroke="#111" stroke-width="0.9"/>
<line x1="201.55" y1="247.00" x2="201.55" y2="248.40" stroke="#111" stroke-width="0.9"/>
<line x1="203.53" y1="247.00" x2="203.53" y2="248.40" stroke="#111" stroke-width="0.9"/>
<line x1="205.52" y1="247.00" x2="205.52" y2="249.40" stroke="#111" stroke-width="0.9"/>
<line x1="207.50" y1="247.00" x2="207.50" y2="248.40" stroke="#111" stroke-width="0.9"/>
<line x1="209.49" y1="247.00" x2="209.49" y2="248.40" stroke="#111" stroke-width="0.9"/>
<line x1="211.48" y1="247.00" x2="211.48" y2="248.40" stroke="#111" stroke-width="0.9"/>
<line x1="213.46" y1="247.00" x2="213.46" y2="248.40" stroke="#111" stroke-width="0.9"/>
<line x1="215.44" y1="247.00" x2="215.44" y2="248.40" stroke="#111" stroke-width="0.9"/>
<line x1="217.43" y1="247.00" x2="217.43" y2="248.40" stroke="#111" stroke-width="0.9"/>
<line x1="219.42" y1="247.00" x2="219.42" y2="248.40" stroke="#111" stroke-width="0.9"/>
<text transform="translate(138.60,247.00) rotate(-90)" text-anchor="middle" font-size="3.7" font-weight="bold" fill="#111" stroke="#111" stroke-width="0.5">0</text>
<text transform="translate(138.60,232.95) rotate(-90)" text-anchor="middle" font-size="3.7" font-weight="bold" fill="#111" stroke="#111" stroke-width="0.5">10</text>
<text transform="translate(138.60,218.90) rotate(-90)" text-anchor="middle" font-size="3.7" font-weight="bold" fill="#111" stroke="#111" stroke-width="0.5">20</text>
<text transform="translate(138.60,204.85) rotate(-90)" text-anchor="middle" font-size="3.7" font-weight="bold" fill="#111" stroke="#111" stroke-width="0.5">30</text>
<text transform="translate(138.60,190.80) rotate(-90)" text-anchor="middle" font-size="3.7" font-weight="bold" fill="#111" stroke="#111" stroke-width="0.5">40</text>
<text x="142.00" y="253.00" text-anchor="middle" font-size="3.7" font-weight="bold" fill="#111" stroke="#111" stroke-width="0.5">0</text>
<text x="157.88" y="253.00" text-anchor="middle" font-size="3.7" font-weight="bold" fill="#111" stroke="#111" stroke-width="0.5">40</text>
<text x="173.76" y="253.00" text-anchor="middle" font-size="3.7" font-weight="bold" fill="#111" stroke="#111" stroke-width="0.5">80</text>
<text x="189.64" y="253.00" text-anchor="middle" font-size="3.7" font-weight="bold" fill="#111" stroke="#111" stroke-width="0.5">120</text>
<text x="205.52" y="253.00" text-anchor="middle" font-size="3.7" font-weight="bold" fill="#111" stroke="#111" stroke-width="0.5">160</text>
<path d="M142.00,247.00 L142.79,247.00 L143.57,247.00 L144.36,247.00 L145.14,247.00 L145.93,247.00 L146.71,247.00 L147.50,247.00 L148.25,245.85 L149.00,244.70 L149.75,245.85 L150.50,247.00 L151.45,247.00 L152.40,247.00 L153.50,224.73 L154.50,195.42 L155.50,179.95 L156.40,194.40 L157.30,204.96 L158.15,208.05 L159.00,203.72 L159.65,204.61 L160.30,200.61 L161.40,210.44 L162.60,216.52 L163.40,224.37 L164.20,221.78 L165.00,228.58 L165.75,224.77 L166.50,229.96 L167.25,223.63 L168.00,232.30 L168.73,228.22 L169.47,230.29 L170.20,225.62 L171.10,233.95 L172.00,231.70 L172.80,238.39 L173.60,232.47 L174.40,241.38 L175.20,234.88 L176.00,241.98 L176.75,234.33 L177.50,242.25 L178.25,237.22 L179.00,240.42 L179.75,235.48 L180.50,240.47 L181.25,238.18 L182.00,242.88 L182.75,239.30 L183.50,243.60 L184.25,239.75 L185.00,241.90 L185.75,240.53 L186.50,243.10 L187.25,238.19 L188.00,243.58 L188.80,240.66 L189.60,244.26 L190.40,240.21 L191.20,243.03 L192.00,239.35 L192.80,243.82 L193.60,240.62 L194.33,243.43 L195.07,241.80 L195.80,244.69 L196.00,247.00 L196.80,247.00 L197.60,247.00 L198.40,247.00 L199.20,247.00 L200.00,247.00 L200.80,247.00 L201.60,247.00 L202.40,247.00 L203.20,247.00 L204.00,247.00 L204.80,247.00 L205.60,247.00 L206.40,247.00 L207.20,247.00 L208.00,247.00 L208.80,247.00 L209.60,247.00 L210.40,247.00 L211.20,247.00 L212.00,247.00 L212.80,247.00 L213.60,247.00 L214.40,247.00 L215.20,247.00 L216.00,247.00 L216.80,247.00 L217.60,247.00 L218.40,247.00 L219.20,247.00 L220.00,247.00" fill="none" stroke="#111" stroke-width="1.3" stroke-linejoin="round"/>
<line x1="256.00" y1="32.90" x2="256.00" y2="104.10" stroke="#111" stroke-width="1"/>
<line x1="255.50" y1="103.60" x2="336.40" y2="103.60" stroke="#111" stroke-width="1"/>
<line x1="253.60" y1="103.60" x2="256.00" y2="103.60" stroke="#111" stroke-width="1.0"/>
<line x1="254.50" y1="100.80" x2="256.00" y2="100.80" stroke="#111" stroke-width="1.0"/>
<line x1="254.50" y1="98.00" x2="256.00" y2="98.00" stroke="#111" stroke-width="1.0"/>
<line x1="254.50" y1="95.20" x2="256.00" y2="95.20" stroke="#111" stroke-width="1.0"/>
<line x1="254.50" y1="92.40" x2="256.00" y2="92.40" stroke="#111" stroke-width="1.0"/>
<line x1="253.60" y1="89.60" x2="256.00" y2="89.60" stroke="#111" stroke-width="1.0"/>
<line x1="254.50" y1="86.80" x2="256.00" y2="86.80" stroke="#111" stroke-width="1.0"/>
<line x1="254.50" y1="84.00" x2="256.00" y2="84.00" stroke="#111" stroke-width="1.0"/>
<line x1="254.50" y1="81.20" x2="256.00" y2="81.20" stroke="#111" stroke-width="1.0"/>
<line x1="254.50" y1="78.40" x2="256.00" y2="78.40" stroke="#111" stroke-width="1.0"/>
<line x1="253.60" y1="75.60" x2="256.00" y2="75.60" stroke="#111" stroke-width="1.0"/>
<line x1="254.50" y1="72.80" x2="256.00" y2="72.80" stroke="#111" stroke-width="1.0"/>
<line x1="254.50" y1="70.00" x2="256.00" y2="70.00" stroke="#111" stroke-width="1.0"/>
<line x1="254.50" y1="67.20" x2="256.00" y2="67.20" stroke="#111" stroke-width="1.0"/>
<line x1="254.50" y1="64.40" x2="256.00" y2="64.40" stroke="#111" stroke-width="1.0"/>
<line x1="253.60" y1="61.60" x2="256.00" y2="61.60" stroke="#111" stroke-width="1.0"/>
<line x1="254.50" y1="58.80" x2="256.00" y2="58.80" stroke="#111" stroke-width="1.0"/>
<line x1="254.50" y1="56.00" x2="256.00" y2="56.00" stroke="#111" stroke-width="1.0"/>
<line x1="254.50" y1="53.20" x2="256.00" y2="53.20" stroke="#111" stroke-width="1.0"/>
<line x1="254.50" y1="50.40" x2="256.00" y2="50.40" stroke="#111" stroke-width="1.0"/>
<line x1="253.60" y1="47.60" x2="256.00" y2="47.60" stroke="#111" stroke-width="1.0"/>
<line x1="254.50" y1="44.80" x2="256.00" y2="44.80" stroke="#111" stroke-width="1.0"/>
<line x1="254.50" y1="42.00" x2="256.00" y2="42.00" stroke="#111" stroke-width="1.0"/>
<line x1="254.50" y1="39.20" x2="256.00" y2="39.20" stroke="#111" stroke-width="1.0"/>
<line x1="254.50" y1="36.40" x2="256.00" y2="36.40" stroke="#111" stroke-width="1.0"/>
<line x1="253.60" y1="33.60" x2="256.00" y2="33.60" stroke="#111" stroke-width="1.0"/>
<line x1="256.00" y1="103.60" x2="256.00" y2="106.00" stroke="#111" stroke-width="0.9"/>
<line x1="257.96" y1="103.60" x2="257.96" y2="105.00" stroke="#111" stroke-width="0.9"/>
<line x1="259.93" y1="103.60" x2="259.93" y2="105.00" stroke="#111" stroke-width="0.9"/>
<line x1="261.89" y1="103.60" x2="261.89" y2="105.00" stroke="#111" stroke-width="0.9"/>
<line x1="263.86" y1="103.60" x2="263.86" y2="105.00" stroke="#111" stroke-width="0.9"/>
<line x1="265.82" y1="103.60" x2="265.82" y2="105.00" stroke="#111" stroke-width="0.9"/>
<line x1="267.79" y1="103.60" x2="267.79" y2="105.00" stroke="#111" stroke-width="0.9"/>
<line x1="269.75" y1="103.60" x2="269.75" y2="105.00" stroke="#111" stroke-width="0.9"/>
<line x1="271.72" y1="103.60" x2="271.72" y2="106.00" stroke="#111" stroke-width="0.9"/>
<line x1="273.69" y1="103.60" x2="273.69" y2="105.00" stroke="#111" stroke-width="0.9"/>
<line x1="275.65" y1="103.60" x2="275.65" y2="105.00" stroke="#111" stroke-width="0.9"/>
<line x1="277.62" y1="103.60" x2="277.62" y2="105.00" stroke="#111" stroke-width="0.9"/>
<line x1="279.58" y1="103.60" x2="279.58" y2="105.00" stroke="#111" stroke-width="0.9"/>
<line x1="281.55" y1="103.60" x2="281.55" y2="105.00" stroke="#111" stroke-width="0.9"/>
<line x1="283.51" y1="103.60" x2="283.51" y2="105.00" stroke="#111" stroke-width="0.9"/>
<line x1="285.48" y1="103.60" x2="285.48" y2="105.00" stroke="#111" stroke-width="0.9"/>
<line x1="287.44" y1="103.60" x2="287.44" y2="106.00" stroke="#111" stroke-width="0.9"/>
<line x1="289.41" y1="103.60" x2="289.41" y2="105.00" stroke="#111" stroke-width="0.9"/>
<line x1="291.37" y1="103.60" x2="291.37" y2="105.00" stroke="#111" stroke-width="0.9"/>
<line x1="293.34" y1="103.60" x2="293.34" y2="105.00" stroke="#111" stroke-width="0.9"/>
<line x1="295.30" y1="103.60" x2="295.30" y2="105.00" stroke="#111" stroke-width="0.9"/>
<line x1="297.26" y1="103.60" x2="297.26" y2="105.00" stroke="#111" stroke-width="0.9"/>
<line x1="299.23" y1="103.60" x2="299.23" y2="105.00" stroke="#111" stroke-width="0.9"/>
<line x1="301.19" y1="103.60" x2="301.19" y2="105.00" stroke="#111" stroke-width="0.9"/>
<line x1="303.16" y1="103.60" x2="303.16" y2="106.00" stroke="#111" stroke-width="0.9"/>
<line x1="305.12" y1="103.60" x2="305.12" y2="105.00" stroke="#111" stroke-width="0.9"/>
<line x1="307.09" y1="103.60" x2="307.09" y2="105.00" stroke="#111" stroke-width="0.9"/>
<line x1="309.06" y1="103.60" x2="309.06" y2="105.00" stroke="#111" stroke-width="0.9"/>
<line x1="311.02" y1="103.60" x2="311.02" y2="105.00" stroke="#111" stroke-width="0.9"/>
<line x1="312.99" y1="103.60" x2="312.99" y2="105.00" stroke="#111" stroke-width="0.9"/>
<line x1="314.95" y1="103.60" x2="314.95" y2="105.00" stroke="#111" stroke-width="0.9"/>
<line x1="316.92" y1="103.60" x2="316.92" y2="105.00" stroke="#111" stroke-width="0.9"/>
<line x1="318.88" y1="103.60" x2="318.88" y2="106.00" stroke="#111" stroke-width="0.9"/>
<line x1="320.85" y1="103.60" x2="320.85" y2="105.00" stroke="#111" stroke-width="0.9"/>
<line x1="322.81" y1="103.60" x2="322.81" y2="105.00" stroke="#111" stroke-width="0.9"/>
<line x1="324.78" y1="103.60" x2="324.78" y2="105.00" stroke="#111" stroke-width="0.9"/>
<line x1="326.74" y1="103.60" x2="326.74" y2="105.00" stroke="#111" stroke-width="0.9"/>
<line x1="328.71" y1="103.60" x2="328.71" y2="105.00" stroke="#111" stroke-width="0.9"/>
<line x1="330.67" y1="103.60" x2="330.67" y2="105.00" stroke="#111" stroke-width="0.9"/>
<line x1="332.63" y1="103.60" x2="332.63" y2="105.00" stroke="#111" stroke-width="0.9"/>
<line x1="334.60" y1="103.60" x2="334.60" y2="106.00" stroke="#111" stroke-width="0.9"/>
<text transform="translate(252.60,103.60) rotate(-90)" text-anchor="middle" font-size="3.7" font-weight="bold" fill="#111" stroke="#111" stroke-width="0.5">0</text>
<text transform="translate(252.60,89.60) rotate(-90)" text-anchor="middle" font-size="3.7" font-weight="bold" fill="#111" stroke="#111" stroke-width="0.5">10</text>
<text transform="translate(252.60,75.60) rotate(-90)" text-anchor="middle" font-size="3.7" font-weight="bold" fill="#111" stroke="#111" stroke-width="0.5">20</text>
<text transform="translate(252.60,61.60) rotate(-90)" text-anchor="middle" font-size="3.7" font-weight="bold" fill="#111" stroke="#111" stroke-width="0.5">30</text>
<text transform="translate(252.60,47.60) rotate(-90)" text-anchor="middle" font-size="3.7" font-weight="bold" fill="#111" stroke="#111" stroke-width="0.5">40</text>
<text x="256.00" y="109.60" text-anchor="middle" font-size="3.7" font-weight="bold" fill="#111" stroke="#111" stroke-width="0.5">0</text>
<text x="271.72" y="109.60" text-anchor="middle" font-size="3.7" font-weight="bold" fill="#111" stroke="#111" stroke-width="0.5">40</text>
<text x="287.44" y="109.60" text-anchor="middle" font-size="3.7" font-weight="bold" fill="#111" stroke="#111" stroke-width="0.5">80</text>
<text x="303.16" y="109.60" text-anchor="middle" font-size="3.7" font-weight="bold" fill="#111" stroke="#111" stroke-width="0.5">120</text>
<text x="318.88" y="109.60" text-anchor="middle" font-size="3.7" font-weight="bold" fill="#111" stroke="#111" stroke-width="0.5">160</text>
<text x="334.60" y="109.60" text-anchor="middle" font-size="3.7" font-weight="bold" fill="#111" stroke="#111" stroke-width="0.5">200</text>
<path d="M256.00,103.60 L256.70,103.60 L257.40,103.60 L258.10,103.60 L258.80,103.60 L259.50,103.60 L260.20,103.60 L260.90,103.60 L261.60,103.60 L262.30,103.60 L263.00,103.60 L263.70,103.60 L264.40,103.60 L265.10,103.60 L265.80,103.60 L266.65,87.16 L267.50,69.29 L268.20,57.61 L268.90,43.48 L269.53,48.78 L270.17,50.52 L270.80,54.98 L271.40,57.68 L272.00,64.37 L272.60,64.15 L273.35,73.28 L274.10,75.20 L274.87,81.33 L275.63,80.91 L276.40,85.47 L276.95,83.74 L277.50,92.69 L278.12,88.35 L278.75,92.76 L279.38,89.36 L280.00,97.85 L280.67,92.30 L281.33,97.67 L282.00,93.41 L282.67,99.45 L283.33,94.66 L284.00,100.80 L284.67,96.08 L285.33,101.77 L286.00,95.33 L286.67,100.42 L287.33,97.80 L288.00,99.87 L288.67,96.66 L289.33,100.14 L290.00,98.64 L290.67,101.17 L291.33,97.94 L292.00,101.82 L292.67,97.67 L293.33,101.76 L294.00,100.35 L294.67,103.39 L295.33,99.29 L296.00,102.09 L296.71,99.23 L297.42,102.40 L298.13,100.19 L298.84,102.97 L299.56,100.40 L300.27,102.56 L300.98,101.44 L301.69,103.46 L302.40,101.47 L303.20,103.22 L304.00,103.60 L304.70,103.60 L305.39,103.60 L306.09,103.60 L306.78,103.60 L307.48,103.60 L308.17,103.60 L308.87,103.60 L309.57,103.60 L310.26,103.60 L310.96,103.60 L311.65,103.60 L312.35,103.60 L313.04,103.60 L313.74,103.60 L314.43,103.60 L315.13,103.60 L315.83,103.60 L316.52,103.60 L317.22,103.60 L317.91,103.60 L318.61,103.60 L319.30,103.60 L320.00,103.60 L320.70,103.60 L321.39,103.60 L322.09,103.60 L322.78,103.60 L323.48,103.60 L324.17,103.60 L324.87,103.60 L325.57,103.60 L326.26,103.60 L326.96,103.60 L327.65,103.60 L328.35,103.60 L329.04,103.60 L329.74,103.60 L330.43,103.60 L331.13,103.60 L331.83,103.60 L332.52,103.60 L333.22,103.60 L333.91,103.60 L334.61,103.60 L335.30,103.60 L336.00,103.60" fill="none" stroke="#111" stroke-width="1.3" stroke-linejoin="round"/>
<line x1="256.70" y1="122.90" x2="256.70" y2="193.60" stroke="#111" stroke-width="1"/>
<line x1="256.20" y1="193.10" x2="336.40" y2="193.10" stroke="#111" stroke-width="1"/>
<line x1="254.30" y1="193.10" x2="256.70" y2="193.10" stroke="#111" stroke-width="1.0"/>
<line x1="255.20" y1="190.27" x2="256.70" y2="190.27" stroke="#111" stroke-width="1.0"/>
<line x1="255.20" y1="187.44" x2="256.70" y2="187.44" stroke="#111" stroke-width="1.0"/>
<line x1="255.20" y1="184.61" x2="256.70" y2="184.61" stroke="#111" stroke-width="1.0"/>
<line x1="255.20" y1="181.78" x2="256.70" y2="181.78" stroke="#111" stroke-width="1.0"/>
<line x1="254.30" y1="178.95" x2="256.70" y2="178.95" stroke="#111" stroke-width="1.0"/>
<line x1="255.20" y1="176.12" x2="256.70" y2="176.12" stroke="#111" stroke-width="1.0"/>
<line x1="255.20" y1="173.29" x2="256.70" y2="173.29" stroke="#111" stroke-width="1.0"/>
<line x1="255.20" y1="170.46" x2="256.70" y2="170.46" stroke="#111" stroke-width="1.0"/>
<line x1="255.20" y1="167.63" x2="256.70" y2="167.63" stroke="#111" stroke-width="1.0"/>
<line x1="254.30" y1="164.80" x2="256.70" y2="164.80" stroke="#111" stroke-width="1.0"/>
<line x1="255.20" y1="161.97" x2="256.70" y2="161.97" stroke="#111" stroke-width="1.0"/>
<line x1="255.20" y1="159.14" x2="256.70" y2="159.14" stroke="#111" stroke-width="1.0"/>
<line x1="255.20" y1="156.31" x2="256.70" y2="156.31" stroke="#111" stroke-width="1.0"/>
<line x1="255.20" y1="153.48" x2="256.70" y2="153.48" stroke="#111" stroke-width="1.0"/>
<line x1="254.30" y1="150.65" x2="256.70" y2="150.65" stroke="#111" stroke-width="1.0"/>
<line x1="255.20" y1="147.82" x2="256.70" y2="147.82" stroke="#111" stroke-width="1.0"/>
<line x1="255.20" y1="144.99" x2="256.70" y2="144.99" stroke="#111" stroke-width="1.0"/>
<line x1="255.20" y1="142.16" x2="256.70" y2="142.16" stroke="#111" stroke-width="1.0"/>
<line x1="255.20" y1="139.33" x2="256.70" y2="139.33" stroke="#111" stroke-width="1.0"/>
<line x1="254.30" y1="136.50" x2="256.70" y2="136.50" stroke="#111" stroke-width="1.0"/>
<line x1="255.20" y1="133.67" x2="256.70" y2="133.67" stroke="#111" stroke-width="1.0"/>
<line x1="255.20" y1="130.84" x2="256.70" y2="130.84" stroke="#111" stroke-width="1.0"/>
<line x1="255.20" y1="128.01" x2="256.70" y2="128.01" stroke="#111" stroke-width="1.0"/>
<line x1="255.20" y1="125.18" x2="256.70" y2="125.18" stroke="#111" stroke-width="1.0"/>
<line x1="256.70" y1="193.10" x2="256.70" y2="195.50" stroke="#111" stroke-width="0.9"/>
<line x1="258.68" y1="193.10" x2="258.68" y2="194.50" stroke="#111" stroke-width="0.9"/>
<line x1="260.65" y1="193.10" x2="260.65" y2="194.50" stroke="#111" stroke-width="0.9"/>
<line x1="262.62" y1="193.10" x2="262.62" y2="194.50" stroke="#111" stroke-width="0.9"/>
<line x1="264.60" y1="193.10" x2="264.60" y2="194.50" stroke="#111" stroke-width="0.9"/>
<line x1="266.57" y1="193.10" x2="266.57" y2="194.50" stroke="#111" stroke-width="0.9"/>
<line x1="268.55" y1="193.10" x2="268.55" y2="194.50" stroke="#111" stroke-width="0.9"/>
<line x1="270.52" y1="193.10" x2="270.52" y2="194.50" stroke="#111" stroke-width="0.9"/>
<line x1="272.50" y1="193.10" x2="272.50" y2="195.50" stroke="#111" stroke-width="0.9"/>
<line x1="274.47" y1="193.10" x2="274.47" y2="194.50" stroke="#111" stroke-width="0.9"/>
<line x1="276.45" y1="193.10" x2="276.45" y2="194.50" stroke="#111" stroke-width="0.9"/>
<line x1="278.43" y1="193.10" x2="278.43" y2="194.50" stroke="#111" stroke-width="0.9"/>
<line x1="280.40" y1="193.10" x2="280.40" y2="194.50" stroke="#111" stroke-width="0.9"/>
<line x1="282.38" y1="193.10" x2="282.38" y2="194.50" stroke="#111" stroke-width="0.9"/>
<line x1="284.35" y1="193.10" x2="284.35" y2="194.50" stroke="#111" stroke-width="0.9"/>
<line x1="286.32" y1="193.10" x2="286.32" y2="194.50" stroke="#111" stroke-width="0.9"/>
<line x1="288.30" y1="193.10" x2="288.30" y2="195.50" stroke="#111" stroke-width="0.9"/>
<line x1="290.27" y1="193.10" x2="290.27" y2="194.50" stroke="#111" stroke-width="0.9"/>
<line x1="292.25" y1="193.10" x2="292.25" y2="194.50" stroke="#111" stroke-width="0.9"/>
<line x1="294.22" y1="193.10" x2="294.22" y2="194.50" stroke="#111" stroke-width="0.9"/>
<line x1="296.20" y1="193.10" x2="296.20" y2="194.50" stroke="#111" stroke-width="0.9"/>
<line x1="298.18" y1="193.10" x2="298.18" y2="194.50" stroke="#111" stroke-width="0.9"/>
<line x1="300.15" y1="193.10" x2="300.15" y2="194.50" stroke="#111" stroke-width="0.9"/>
<line x1="302.12" y1="193.10" x2="302.12" y2="194.50" stroke="#111" stroke-width="0.9"/>
<line x1="304.10" y1="193.10" x2="304.10" y2="195.50" stroke="#111" stroke-width="0.9"/>
<line x1="306.07" y1="193.10" x2="306.07" y2="194.50" stroke="#111" stroke-width="0.9"/>
<line x1="308.05" y1="193.10" x2="308.05" y2="194.50" stroke="#111" stroke-width="0.9"/>
<line x1="310.02" y1="193.10" x2="310.02" y2="194.50" stroke="#111" stroke-width="0.9"/>
<line x1="312.00" y1="193.10" x2="312.00" y2="194.50" stroke="#111" stroke-width="0.9"/>
<line x1="313.98" y1="193.10" x2="313.98" y2="194.50" stroke="#111" stroke-width="0.9"/>
<line x1="315.95" y1="193.10" x2="315.95" y2="194.50" stroke="#111" stroke-width="0.9"/>
<line x1="317.93" y1="193.10" x2="317.93" y2="194.50" stroke="#111" stroke-width="0.9"/>
<line x1="319.90" y1="193.10" x2="319.90" y2="195.50" stroke="#111" stroke-width="0.9"/>
<line x1="321.88" y1="193.10" x2="321.88" y2="194.50" stroke="#111" stroke-width="0.9"/>
<line x1="323.85" y1="193.10" x2="323.85" y2="194.50" stroke="#111" stroke-width="0.9"/>
<line x1="325.82" y1="193.10" x2="325.82" y2="194.50" stroke="#111" stroke-width="0.9"/>
<line x1="327.80" y1="193.10" x2="327.80" y2="194.50" stroke="#111" stroke-width="0.9"/>
<line x1="329.77" y1="193.10" x2="329.77" y2="194.50" stroke="#111" stroke-width="0.9"/>
<line x1="331.75" y1="193.10" x2="331.75" y2="194.50" stroke="#111" stroke-width="0.9"/>
<line x1="333.73" y1="193.10" x2="333.73" y2="194.50" stroke="#111" stroke-width="0.9"/>
<line x1="335.70" y1="193.10" x2="335.70" y2="195.50" stroke="#111" stroke-width="0.9"/>
<text transform="translate(253.30,193.10) rotate(-90)" text-anchor="middle" font-size="3.7" font-weight="bold" fill="#111" stroke="#111" stroke-width="0.5">0</text>
<text transform="translate(253.30,178.95) rotate(-90)" text-anchor="middle" font-size="3.7" font-weight="bold" fill="#111" stroke="#111" stroke-width="0.5">10</text>
<text transform="translate(253.30,164.80) rotate(-90)" text-anchor="middle" font-size="3.7" font-weight="bold" fill="#111" stroke="#111" stroke-width="0.5">20</text>
<text transform="translate(253.30,150.65) rotate(-90)" text-anchor="middle" font-size="3.7" font-weight="bold" fill="#111" stroke="#111" stroke-width="0.5">30</text>
<text transform="translate(253.30,136.50) rotate(-90)" text-anchor="middle" font-size="3.7" font-weight="bold" fill="#111" stroke="#111" stroke-width="0.5">40</text>
<text x="256.70" y="199.10" text-anchor="middle" font-size="3.7" font-weight="bold" fill="#111" stroke="#111" stroke-width="0.5">0</text>
<text x="272.50" y="199.10" text-anchor="middle" font-size="3.7" font-weight="bold" fill="#111" stroke="#111" stroke-width="0.5">40</text>
<text x="288.30" y="199.10" text-anchor="middle" font-size="3.7" font-weight="bold" fill="#111" stroke="#111" stroke-width="0.5">80</text>
<text x="304.10" y="199.10" text-anchor="middle" font-size="3.7" font-weight="bold" fill="#111" stroke="#111" stroke-width="0.5">120</text>
<text x="319.90" y="199.10" text-anchor="middle" font-size="3.7" font-weight="bold" fill="#111" stroke="#111" stroke-width="0.5">160</text>
<path d="M256.70,193.10 L257.40,193.10 L258.10,193.10 L258.80,193.10 L259.50,193.10 L260.20,193.10 L260.90,193.10 L261.60,193.10 L262.30,193.10 L263.00,193.10 L263.70,193.10 L264.40,193.10 L265.10,193.10 L265.80,193.10 L266.44,182.88 L267.08,172.82 L267.72,162.43 L268.36,152.58 L269.00,141.79 L269.60,141.31 L270.30,139.71 L271.20,127.04 L271.90,139.01 L272.60,154.48 L273.35,156.25 L274.10,162.86 L274.87,161.06 L275.63,169.22 L276.40,170.71 L277.17,176.56 L277.93,174.10 L278.70,177.27 L279.38,172.93 L280.06,179.87 L280.74,176.56 L281.42,183.30 L282.10,177.86 L282.78,184.03 L283.46,181.77 L284.14,187.47 L284.82,181.62 L285.50,188.26 L286.22,184.36 L286.94,188.67 L287.67,186.01 L288.39,188.68 L289.11,185.63 L289.83,188.48 L290.56,186.83 L291.28,189.92 L292.00,187.64 L292.73,190.59 L293.45,188.77 L294.18,190.88 L294.91,189.50 L295.64,190.89 L296.36,189.72 L297.09,192.09 L297.82,190.00 L298.55,191.39 L299.27,189.89 L300.00,192.33 L300.71,190.60 L301.42,191.33 L302.12,189.89 L302.83,191.94 L303.54,190.10 L304.25,191.73 L304.95,190.25 L305.66,192.05 L306.37,190.78 L307.08,192.13 L307.78,191.09 L308.49,192.22 L309.20,191.57 L310.00,193.10 L310.70,193.10 L311.41,193.10 L312.11,193.10 L312.81,193.10 L313.51,193.10 L314.22,193.10 L314.92,193.10 L315.62,193.10 L316.32,193.10 L317.03,193.10 L317.73,193.10 L318.43,193.10 L319.14,193.10 L319.84,193.10 L320.54,193.10 L321.24,193.10 L321.95,193.10 L322.65,193.10 L323.35,193.10 L324.05,193.10 L324.76,193.10 L325.46,193.10 L326.16,193.10 L326.86,193.10 L327.57,193.10 L328.27,193.10 L328.97,193.10 L329.68,193.10 L330.38,193.10 L331.08,193.10 L331.78,193.10 L332.49,193.10 L333.19,193.10 L333.89,193.10 L334.59,193.10 L335.30,193.10 L336.00,193.10" fill="none" stroke="#111" stroke-width="1.3" stroke-linejoin="round"/>
<line x1="59.60" y1="148.10" x2="59.60" y2="167.00" stroke="#111" stroke-width="1.4"/>
<polygon points="54.2,163.2 59.6,166.4 65.0,163.2 59.6,173.6" fill="#111"/>
<line x1="180.60" y1="146.90" x2="180.60" y2="166.00" stroke="#111" stroke-width="1.6" stroke-dasharray="3,1.4"/>
<polygon points="175.3,164 180.6,166.9 185.9,164 180.6,174.4" fill="#111"/>
<text x="361.50" y="27.30" font-size="8.32" font-weight="bold" fill="#111" stroke="#111" stroke-width="0.55" textLength="15.60" lengthAdjust="spacingAndGlyphs">48.8</text>
<text x="363.47" y="54.30" font-size="8.75" font-weight="bold" fill="#111" stroke="#111" stroke-width="0.55" textLength="16.14" lengthAdjust="spacingAndGlyphs">36.6</text>
<text x="361.80" y="76.20" font-size="8.32" font-weight="bold" fill="#111" stroke="#111" stroke-width="0.55" textLength="15.60" lengthAdjust="spacingAndGlyphs">48.8</text>
<text x="363.68" y="95.00" font-size="8.89" font-weight="bold" fill="#111" stroke="#111" stroke-width="0.55" textLength="15.32" lengthAdjust="spacingAndGlyphs">36.6</text>
<line x1="383.00" y1="25.00" x2="387.70" y2="25.00" stroke="#111" stroke-width="1.3"/>
<line x1="383.00" y1="50.70" x2="387.60" y2="50.70" stroke="#111" stroke-width="1.3"/>
<line x1="383.20" y1="74.00" x2="387.40" y2="74.00" stroke="#111" stroke-width="1.3"/>
<line x1="383.00" y1="91.40" x2="386.50" y2="91.40" stroke="#111" stroke-width="1.3"/>
<line x1="475.80" y1="37.60" x2="480.80" y2="37.60" stroke="#111" stroke-width="1.4"/>
<text x="483.75" y="40.70" font-size="9.46" font-weight="bold" fill="#111" stroke="#111" stroke-width="0.55" textLength="28.75" lengthAdjust="spacingAndGlyphs">GATA-1</text>
<filter id="bb" x="-30%" y="-60%" width="160%" height="220%"><feGaussianBlur stdDeviation="1.45"/></filter>
<linearGradient id="g1" x1="0" y1="0" x2="0" y2="1"><stop offset="0" stop-color="#a0a0a0"/><stop offset="0.28" stop-color="#4e4e4e"/><stop offset="0.42" stop-color="#303030"/><stop offset="1" stop-color="#2e2e2e"/></linearGradient>
<linearGradient id="g2" x1="0" y1="0" x2="0" y2="1"><stop offset="0" stop-color="#5a5a5a"/><stop offset="0.1" stop-color="#232323"/><stop offset="1" stop-color="#202020"/></linearGradient>
<linearGradient id="g3" x1="0" y1="0" x2="0" y2="1"><stop offset="0" stop-color="#a0a0a0"/><stop offset="0.22" stop-color="#555"/><stop offset="0.36" stop-color="#2c2c2c"/><stop offset="0.8" stop-color="#2c2c2c"/><stop offset="1" stop-color="#4a4a4a"/></linearGradient>
<linearGradient id="g4" x1="0" y1="0" x2="0" y2="1"><stop offset="0" stop-color="#8c8c8c"/><stop offset="0.2" stop-color="#444"/><stop offset="0.35" stop-color="#303030"/><stop offset="0.8" stop-color="#323232"/><stop offset="1" stop-color="#555555"/></linearGradient>
<g filter="url(#bb)">
<path d="M388.2,24 Q398,21.5 408.8,22.5 L408.8,45.2 Q402,46.6 396,46.2 Q390,46 388.2,43.5 Z" fill="url(#g1)"/>
<path d="M387,21 L399,21 Q393,24 387,31 Z" fill="#fff" opacity="0.75"/>
<path d="M410,23 Q419,20.8 429.2,22.5 L429.4,45.5 Q420,47.8 410,46 Z" fill="url(#g2)"/>
<path d="M431.8,24 Q442,22.5 452.2,24 L452.2,43.5 Q442,45.4 431.8,43.5 Z" fill="url(#g3)"/>
<ellipse cx="448.2" cy="48" rx="1.7" ry="4.5" fill="#a8a8a8"/>
<ellipse cx="460.5" cy="49" rx="5.6" ry="7.2" fill="#a6a6a6"/>
<ellipse cx="465" cy="26" rx="9" ry="6" fill="#a2a2a2"/>
<path d="M455,27 Q464,23.5 473.6,26.5 Q475.6,35 473.8,43 Q468,46.5 461,45.5 Q455.5,44.5 454.6,41 Q453.8,34 455,27 Z" fill="url(#g4)"/>
</g>
<linearGradient id="gbg" x1="0" y1="0" x2="0" y2="1"><stop offset="0" stop-color="#d0d0d0"/><stop offset="1" stop-color="#e0e0e0"/></linearGradient>
<rect x="385.4" y="74" width="93" height="33.5" fill="url(#gbg)"/>
<g filter="url(#b2)">
<path d="M388,86.5 Q392,84.3 397,85 Q402,84.3 406,85.5 Q407,90 406,94.2 Q397,96.2 388,94.2 Q387,90 388,86.5 Z" fill="#1e1e1e"/>
<path d="M408.6,86 Q413,83.8 418,84.5 Q423,83.8 427.5,85.3 Q428.5,89.5 427.5,93.7 Q418,95.7 408.6,93.7 Q407.6,89.5 408.6,86 Z" fill="#1e1e1e"/>
<path d="M430.2,85.3 Q434,83 439,83.7 Q444,83 449.2,84.5 Q450,89 449.2,93.2 Q439,95.2 430.2,93.2 Q429.3,89 430.2,85.3 Z" fill="#1e1e1e"/>
<path d="M451.5,82 Q456,79.5 463,80.5 Q470,80 476.2,82 Q477.4,85.8 476.2,89.8 Q468,91.6 463,90 Q456,91.2 451.5,89.4 Q450.6,85.5 451.5,82 Z" fill="#1e1e1e"/>
</g>
<line x1="479.10" y1="92.30" x2="484.40" y2="92.30" stroke="#111" stroke-width="1.4"/>
<text x="488.54" y="94.40" font-size="9.03" font-weight="bold" fill="#111" stroke="#111" stroke-width="0.55" textLength="30.01" lengthAdjust="spacingAndGlyphs">GAPDH</text>
<text x="387.71" y="117.60" font-size="6.74" font-weight="bold" fill="#111" stroke="#111" stroke-width="0.4" textLength="22.72" lengthAdjust="spacingAndGlyphs">LYN +/+</text>
<text x="411.51" y="117.60" font-size="6.74" font-weight="bold" fill="#111" stroke="#111" stroke-width="0.4" textLength="19.41" lengthAdjust="spacingAndGlyphs">LYN -/-</text>
<text x="433.31" y="117.60" font-size="6.74" font-weight="bold" fill="#111" stroke="#111" stroke-width="0.4" textLength="22.72" lengthAdjust="spacingAndGlyphs">LYN +/+</text>
<text x="458.35" y="117.60" font-size="6.74" font-weight="bold" fill="#111" stroke="#111" stroke-width="0.4" textLength="17.55" lengthAdjust="spacingAndGlyphs">LYN -/-</text>
<text x="398.78" y="135.50" font-size="7.75" font-weight="bold" fill="#111" stroke="#111" stroke-width="0.4" textLength="8.95" lengthAdjust="spacingAndGlyphs">Kit</text>
<text x="407.73" y="132.80" font-size="7.04" font-weight="bold" fill="#111" stroke="#111" stroke-width="0.4" textLength="10.62" lengthAdjust="spacingAndGlyphs">pos</text>
<text x="399.02" y="144.40" font-size="8.32" font-weight="bold" fill="#111" stroke="#111" stroke-width="0.4" textLength="14.93" lengthAdjust="spacingAndGlyphs">CD71</text>
<text x="413.78" y="141.30" font-size="7.42" font-weight="bold" fill="#111" stroke="#111" stroke-width="0.4" textLength="14.25" lengthAdjust="spacingAndGlyphs">high</text>
<text x="448.80" y="135.50" font-size="7.75" font-weight="bold" fill="#111" stroke="#111" stroke-width="0.4" textLength="8.53" lengthAdjust="spacingAndGlyphs">Kit</text>
<text x="456.89" y="132.80" font-size="7.04" font-weight="bold" fill="#111" stroke="#111" stroke-width="0.4" textLength="11.63" lengthAdjust="spacingAndGlyphs">neg</text>
<text x="448.61" y="144.40" font-size="8.32" font-weight="bold" fill="#111" stroke="#111" stroke-width="0.4" textLength="15.34" lengthAdjust="spacingAndGlyphs">CD71</text>
<text x="464.19" y="141.30" font-size="7.42" font-weight="bold" fill="#111" stroke="#111" stroke-width="0.4" textLength="13.83" lengthAdjust="spacingAndGlyphs">high</text>
<rect x="39.5" y="316.4" width="95.6" height="96.20000000000005" fill="none" stroke="#666" stroke-width="1.15"/>
<line x1="68.60" y1="316.40" x2="68.60" y2="412.60" stroke="#444" stroke-width="1.0"/>
<line x1="39.50" y1="385.20" x2="135.10" y2="385.20" stroke="#444" stroke-width="1.0"/>
<rect x="53.0" y="345.4" width="1.15" height="1.15" fill="#828282"/>
<rect x="53.3" y="351.1" width="1.15" height="1.15" fill="#828282"/>
<rect x="54.5" y="352.2" width="1.15" height="1.15" fill="#828282"/>
<rect x="54.6" y="353.1" width="1.15" height="1.15" fill="#828282"/>
<rect x="57.9" y="354.3" width="1.15" height="1.15" fill="#828282"/>
<rect x="48.8" y="354.2" width="1.15" height="1.15" fill="#828282"/>
<rect x="42.8" y="360.4" width="1.15" height="1.15" fill="#828282"/>
<rect x="41.5" y="351.6" width="1.15" height="1.15" fill="#828282"/>
<rect x="67.8" y="357.6" width="1.15" height="1.15" fill="#828282"/>
<rect x="57.5" y="352.4" width="1.15" height="1.15" fill="#828282"/>
<rect x="44.7" y="362.9" width="1.15" height="1.15" fill="#828282"/>
<rect x="42.0" y="358.6" width="1.15" height="1.15" fill="#828282"/>
<rect x="45.6" y="357.1" width="1.15" height="1.15" fill="#828282"/>
<rect x="53.3" y="356.1" width="1.15" height="1.15" fill="#828282"/>
<rect x="52.6" y="358.2" width="1.15" height="1.15" fill="#828282"/>
<rect x="58.2" y="349.0" width="1.15" height="1.15" fill="#828282"/>
<rect x="54.3" y="352.1" width="1.15" height="1.15" fill="#828282"/>
<rect x="48.1" y="352.1" width="1.15" height="1.15" fill="#828282"/>
<rect x="68.2" y="359.8" width="1.15" height="1.15" fill="#828282"/>
<rect x="60.1" y="352.9" width="1.15" height="1.15" fill="#828282"/>
<rect x="49.1" y="356.6" width="1.15" height="1.15" fill="#828282"/>
<rect x="42.3" y="361.7" width="1.15" height="1.15" fill="#828282"/>
<rect x="61.8" y="345.5" width="1.15" height="1.15" fill="#828282"/>
<rect x="51.1" y="360.8" width="1.15" height="1.15" fill="#828282"/>
<rect x="67.1" y="351.3" width="1.15" height="1.15" fill="#828282"/>
<rect x="46.2" y="356.8" width="1.15" height="1.15" fill="#828282"/>
<rect x="65.8" y="339.0" width="1.15" height="1.15" fill="#828282"/>
<rect x="51.4" y="357.9" width="1.15" height="1.15" fill="#828282"/>
<rect x="42.3" y="352.5" width="1.15" height="1.15" fill="#828282"/>
<rect x="47.9" y="350.7" width="1.15" height="1.15" fill="#828282"/>
<rect x="42.7" y="352.0" width="1.15" height="1.15" fill="#828282"/>
<rect x="61.5" y="363.1" width="1.15" height="1.15" fill="#828282"/>
<rect x="43.6" y="357.7" width="1.15" height="1.15" fill="#828282"/>
<rect x="42.0" y="360.2" width="1.15" height="1.15" fill="#828282"/>
<rect x="62.6" y="355.1" width="1.15" height="1.15" fill="#828282"/>
<rect x="52.8" y="360.4" width="1.15" height="1.15" fill="#828282"/>
<rect x="45.6" y="356.8" width="1.15" height="1.15" fill="#828282"/>
<rect x="58.3" y="351.2" width="1.15" height="1.15" fill="#828282"/>
<rect x="43.6" y="354.8" width="1.15" height="1.15" fill="#828282"/>
<rect x="47.9" y="358.0" width="1.15" height="1.15" fill="#828282"/>
<rect x="67.5" y="352.4" width="1.15" height="1.15" fill="#828282"/>
<rect x="65.1" y="348.1" width="1.15" height="1.15" fill="#828282"/>
<rect x="46.2" y="349.8" width="1.15" height="1.15" fill="#828282"/>
<rect x="58.3" y="359.2" width="1.15" height="1.15" fill="#828282"/>
<rect x="43.1" y="360.9" width="1.15" height="1.15" fill="#828282"/>
<rect x="47.5" y="356.3" width="1.15" height="1.15" fill="#828282"/>
<rect x="61.9" y="350.8" width="1.15" height="1.15" fill="#828282"/>
<rect x="42.4" y="361.3" width="1.15" height="1.15" fill="#828282"/>
<rect x="42.8" y="354.8" width="1.15" height="1.15" fill="#828282"/>
<rect x="57.1" y="352.2" width="1.15" height="1.15" fill="#828282"/>
<rect x="50.7" y="344.6" width="1.15" height="1.15" fill="#828282"/>
<rect x="53.8" y="358.2" width="1.15" height="1.15" fill="#828282"/>
<rect x="56.4" y="356.1" width="1.15" height="1.15" fill="#828282"/>
<rect x="44.6" y="355.2" width="1.15" height="1.15" fill="#828282"/>
<rect x="65.7" y="353.1" width="1.15" height="1.15" fill="#828282"/>
<rect x="45.6" y="353.9" width="1.15" height="1.15" fill="#828282"/>
<rect x="61.0" y="355.7" width="1.15" height="1.15" fill="#828282"/>
<rect x="66.9" y="350.2" width="1.15" height="1.15" fill="#828282"/>
<rect x="65.0" y="348.0" width="1.15" height="1.15" fill="#828282"/>
<rect x="43.2" y="354.8" width="1.15" height="1.15" fill="#828282"/>
<rect x="41.4" y="361.5" width="1.15" height="1.15" fill="#828282"/>
<rect x="60.0" y="352.4" width="1.15" height="1.15" fill="#828282"/>
<rect x="47.5" y="359.3" width="1.15" height="1.15" fill="#828282"/>
<rect x="48.5" y="350.7" width="1.15" height="1.15" fill="#828282"/>
<rect x="45.2" y="356.9" width="1.15" height="1.15" fill="#828282"/>
<rect x="46.7" y="355.1" width="1.15" height="1.15" fill="#828282"/>
<rect x="56.0" y="358.1" width="1.15" height="1.15" fill="#828282"/>
<rect x="48.1" y="351.3" width="1.15" height="1.15" fill="#828282"/>
<rect x="66.0" y="351.8" width="1.15" height="1.15" fill="#828282"/>
<rect x="47.8" y="357.3" width="1.15" height="1.15" fill="#828282"/>
<rect x="52.8" y="357.8" width="1.15" height="1.15" fill="#828282"/>
<rect x="50.6" y="356.8" width="1.15" height="1.15" fill="#828282"/>
<rect x="56.3" y="357.1" width="1.15" height="1.15" fill="#828282"/>
<rect x="65.2" y="355.0" width="1.15" height="1.15" fill="#828282"/>
<rect x="67.8" y="347.2" width="1.15" height="1.15" fill="#828282"/>
<rect x="56.7" y="348.2" width="1.15" height="1.15" fill="#828282"/>
<rect x="44.2" y="358.3" width="1.15" height="1.15" fill="#828282"/>
<rect x="65.8" y="351.8" width="1.15" height="1.15" fill="#828282"/>
<rect x="59.9" y="354.1" width="1.15" height="1.15" fill="#828282"/>
<rect x="58.1" y="353.5" width="1.15" height="1.15" fill="#828282"/>
<rect x="53.8" y="354.4" width="1.15" height="1.15" fill="#828282"/>
<rect x="68.3" y="346.9" width="1.15" height="1.15" fill="#828282"/>
<rect x="42.4" y="350.7" width="1.15" height="1.15" fill="#828282"/>
<rect x="65.5" y="349.5" width="1.15" height="1.15" fill="#828282"/>
<rect x="60.9" y="350.6" width="1.15" height="1.15" fill="#828282"/>
<rect x="65.9" y="343.8" width="1.15" height="1.15" fill="#828282"/>
<rect x="50.2" y="351.9" width="1.15" height="1.15" fill="#828282"/>
<rect x="64.7" y="342.8" width="1.15" height="1.15" fill="#828282"/>
<rect x="52.0" y="357.7" width="1.15" height="1.15" fill="#828282"/>
<rect x="56.3" y="345.3" width="1.15" height="1.15" fill="#828282"/>
<rect x="57.8" y="349.3" width="1.15" height="1.15" fill="#828282"/>
<rect x="57.3" y="358.0" width="1.15" height="1.15" fill="#828282"/>
<rect x="42.5" y="348.6" width="1.15" height="1.15" fill="#828282"/>
<rect x="64.9" y="340.7" width="1.15" height="1.15" fill="#828282"/>
<rect x="60.7" y="347.3" width="1.15" height="1.15" fill="#828282"/>
<rect x="56.6" y="358.9" width="1.15" height="1.15" fill="#828282"/>
<rect x="52.6" y="356.2" width="1.15" height="1.15" fill="#828282"/>
<rect x="61.3" y="351.2" width="1.15" height="1.15" fill="#828282"/>
<rect x="41.1" y="354.0" width="1.15" height="1.15" fill="#828282"/>
<rect x="46.7" y="353.6" width="1.15" height="1.15" fill="#828282"/>
<rect x="59.9" y="346.9" width="1.15" height="1.15" fill="#828282"/>
<rect x="66.1" y="351.7" width="1.15" height="1.15" fill="#828282"/>
<rect x="47.5" y="360.4" width="1.15" height="1.15" fill="#828282"/>
<rect x="59.3" y="353.6" width="1.15" height="1.15" fill="#828282"/>
<rect x="46.0" y="361.8" width="1.15" height="1.15" fill="#828282"/>
<rect x="58.8" y="362.3" width="1.15" height="1.15" fill="#828282"/>
<rect x="52.7" y="358.3" width="1.15" height="1.15" fill="#828282"/>
<rect x="58.9" y="350.9" width="1.15" height="1.15" fill="#828282"/>
<rect x="45.9" y="349.4" width="1.15" height="1.15" fill="#828282"/>
<rect x="65.9" y="355.1" width="1.15" height="1.15" fill="#828282"/>
<rect x="64.9" y="347.3" width="1.15" height="1.15" fill="#828282"/>
<rect x="49.2" y="360.1" width="1.15" height="1.15" fill="#828282"/>
<rect x="44.1" y="348.7" width="1.15" height="1.15" fill="#828282"/>
<rect x="64.1" y="352.3" width="1.15" height="1.15" fill="#828282"/>
<rect x="60.2" y="356.6" width="1.15" height="1.15" fill="#828282"/>
<rect x="45.0" y="356.1" width="1.15" height="1.15" fill="#828282"/>
<rect x="52.9" y="354.6" width="1.15" height="1.15" fill="#828282"/>
<rect x="51.9" y="358.5" width="1.15" height="1.15" fill="#828282"/>
<rect x="57.8" y="349.8" width="1.15" height="1.15" fill="#828282"/>
<rect x="63.8" y="352.3" width="1.15" height="1.15" fill="#828282"/>
<rect x="67.8" y="349.3" width="1.15" height="1.15" fill="#828282"/>
<rect x="41.2" y="358.8" width="1.15" height="1.15" fill="#828282"/>
<rect x="64.7" y="358.9" width="1.15" height="1.15" fill="#828282"/>
<rect x="56.3" y="356.0" width="1.15" height="1.15" fill="#828282"/>
<rect x="49.0" y="356.4" width="1.15" height="1.15" fill="#828282"/>
<rect x="44.1" y="356.6" width="1.15" height="1.15" fill="#828282"/>
<rect x="53.0" y="363.6" width="1.15" height="1.15" fill="#828282"/>
<rect x="46.9" y="358.0" width="1.15" height="1.15" fill="#828282"/>
<rect x="44.2" y="363.6" width="1.15" height="1.15" fill="#828282"/>
<rect x="52.8" y="357.0" width="1.15" height="1.15" fill="#828282"/>
<rect x="57.9" y="349.0" width="1.15" height="1.15" fill="#828282"/>
<rect x="67.1" y="344.3" width="1.15" height="1.15" fill="#828282"/>
<rect x="59.5" y="355.0" width="1.15" height="1.15" fill="#828282"/>
<rect x="45.3" y="362.1" width="1.15" height="1.15" fill="#828282"/>
<rect x="40.6" y="351.2" width="1.15" height="1.15" fill="#828282"/>
<rect x="45.3" y="358.4" width="1.15" height="1.15" fill="#828282"/>
<rect x="47.9" y="352.4" width="1.15" height="1.15" fill="#828282"/>
<rect x="54.9" y="360.4" width="1.15" height="1.15" fill="#828282"/>
<rect x="57.5" y="354.0" width="1.15" height="1.15" fill="#828282"/>
<rect x="62.5" y="347.9" width="1.15" height="1.15" fill="#828282"/>
<rect x="65.7" y="360.8" width="1.15" height="1.15" fill="#828282"/>
<rect x="60.5" y="358.6" width="1.15" height="1.15" fill="#828282"/>
<rect x="43.9" y="351.3" width="1.15" height="1.15" fill="#828282"/>
<rect x="65.8" y="353.5" width="1.15" height="1.15" fill="#828282"/>
<rect x="50.9" y="347.1" width="1.15" height="1.15" fill="#828282"/>
<rect x="62.6" y="348.5" width="1.15" height="1.15" fill="#828282"/>
<rect x="66.7" y="344.9" width="1.15" height="1.15" fill="#828282"/>
<rect x="46.0" y="358.5" width="1.15" height="1.15" fill="#828282"/>
<rect x="60.5" y="355.8" width="1.15" height="1.15" fill="#828282"/>
<rect x="60.4" y="347.1" width="1.15" height="1.15" fill="#828282"/>
<rect x="46.3" y="367.3" width="1.15" height="1.15" fill="#828282"/>
<rect x="67.7" y="343.5" width="1.15" height="1.15" fill="#828282"/>
<rect x="55.3" y="355.5" width="1.15" height="1.15" fill="#828282"/>
<rect x="65.8" y="347.7" width="1.15" height="1.15" fill="#828282"/>
<rect x="64.3" y="350.9" width="1.15" height="1.15" fill="#828282"/>
<rect x="52.6" y="356.7" width="1.15" height="1.15" fill="#828282"/>
<rect x="55.7" y="354.9" width="1.15" height="1.15" fill="#828282"/>
<rect x="41.1" y="353.0" width="1.15" height="1.15" fill="#828282"/>
<rect x="63.0" y="360.0" width="1.15" height="1.15" fill="#828282"/>
<rect x="45.1" y="360.4" width="1.15" height="1.15" fill="#828282"/>
<rect x="49.7" y="356.6" width="1.15" height="1.15" fill="#828282"/>
<rect x="44.5" y="354.9" width="1.15" height="1.15" fill="#828282"/>
<rect x="54.8" y="353.1" width="1.15" height="1.15" fill="#828282"/>
<rect x="59.6" y="344.6" width="1.15" height="1.15" fill="#828282"/>
<rect x="66.8" y="340.1" width="1.15" height="1.15" fill="#828282"/>
<rect x="42.7" y="358.4" width="1.15" height="1.15" fill="#828282"/>
<rect x="46.5" y="353.1" width="1.15" height="1.15" fill="#828282"/>
<rect x="60.7" y="352.4" width="1.15" height="1.15" fill="#828282"/>
<rect x="58.2" y="344.9" width="1.15" height="1.15" fill="#828282"/>
<rect x="56.0" y="353.0" width="1.15" height="1.15" fill="#828282"/>
<rect x="49.0" y="349.6" width="1.15" height="1.15" fill="#828282"/>
<rect x="65.5" y="357.7" width="1.15" height="1.15" fill="#828282"/>
<rect x="46.1" y="364.1" width="1.15" height="1.15" fill="#828282"/>
<rect x="55.0" y="344.8" width="1.15" height="1.15" fill="#828282"/>
<rect x="56.3" y="355.9" width="1.15" height="1.15" fill="#828282"/>
<rect x="54.4" y="360.1" width="1.15" height="1.15" fill="#828282"/>
<rect x="57.2" y="365.9" width="1.15" height="1.15" fill="#828282"/>
<rect x="54.7" y="356.7" width="1.15" height="1.15" fill="#828282"/>
<rect x="51.5" y="357.3" width="1.15" height="1.15" fill="#828282"/>
<rect x="54.0" y="349.2" width="1.15" height="1.15" fill="#828282"/>
<rect x="59.6" y="358.5" width="1.15" height="1.15" fill="#828282"/>
<rect x="51.9" y="357.7" width="1.15" height="1.15" fill="#828282"/>
<rect x="67.1" y="354.5" width="1.15" height="1.15" fill="#828282"/>
<rect x="53.5" y="353.2" width="1.15" height="1.15" fill="#828282"/>
<rect x="43.9" y="349.8" width="1.15" height="1.15" fill="#828282"/>
<rect x="65.5" y="355.1" width="1.15" height="1.15" fill="#828282"/>
<rect x="53.6" y="353.7" width="1.15" height="1.15" fill="#828282"/>
<rect x="57.6" y="356.6" width="1.15" height="1.15" fill="#828282"/>
<rect x="66.2" y="357.0" width="1.15" height="1.15" fill="#828282"/>
<rect x="40.9" y="364.1" width="1.15" height="1.15" fill="#828282"/>
<rect x="45.7" y="358.0" width="1.15" height="1.15" fill="#828282"/>
<rect x="49.3" y="363.0" width="1.15" height="1.15" fill="#828282"/>
<rect x="50.2" y="354.2" width="1.15" height="1.15" fill="#828282"/>
<rect x="60.8" y="351.5" width="1.15" height="1.15" fill="#828282"/>
<rect x="43.7" y="354.1" width="1.15" height="1.15" fill="#828282"/>
<rect x="45.8" y="356.8" width="1.15" height="1.15" fill="#828282"/>
<rect x="55.1" y="350.4" width="1.15" height="1.15" fill="#828282"/>
<rect x="51.9" y="357.1" width="1.15" height="1.15" fill="#828282"/>
<rect x="55.1" y="356.2" width="1.15" height="1.15" fill="#828282"/>
<rect x="58.0" y="356.3" width="1.15" height="1.15" fill="#828282"/>
<rect x="58.2" y="344.8" width="1.15" height="1.15" fill="#828282"/>
<rect x="57.4" y="352.2" width="1.15" height="1.15" fill="#828282"/>
<rect x="64.3" y="352.8" width="1.15" height="1.15" fill="#828282"/>
<rect x="63.0" y="359.9" width="1.15" height="1.15" fill="#828282"/>
<rect x="65.6" y="350.1" width="1.15" height="1.15" fill="#828282"/>
<rect x="66.1" y="355.2" width="1.15" height="1.15" fill="#828282"/>
<rect x="46.4" y="366.5" width="1.15" height="1.15" fill="#828282"/>
<rect x="44.1" y="357.4" width="1.15" height="1.15" fill="#828282"/>
<rect x="47.0" y="356.2" width="1.15" height="1.15" fill="#828282"/>
<rect x="43.0" y="354.2" width="1.15" height="1.15" fill="#828282"/>
<rect x="63.6" y="345.0" width="1.15" height="1.15" fill="#828282"/>
<rect x="43.8" y="361.4" width="1.15" height="1.15" fill="#828282"/>
<rect x="51.6" y="355.1" width="1.15" height="1.15" fill="#828282"/>
<rect x="45.9" y="356.2" width="1.15" height="1.15" fill="#828282"/>
<rect x="59.4" y="363.6" width="1.15" height="1.15" fill="#828282"/>
<rect x="43.5" y="351.2" width="1.15" height="1.15" fill="#828282"/>
<rect x="54.5" y="355.0" width="1.15" height="1.15" fill="#828282"/>
<rect x="59.5" y="347.9" width="1.15" height="1.15" fill="#828282"/>
<rect x="45.6" y="359.0" width="1.15" height="1.15" fill="#828282"/>
<rect x="41.3" y="359.2" width="1.15" height="1.15" fill="#828282"/>
<rect x="55.7" y="348.4" width="1.15" height="1.15" fill="#828282"/>
<rect x="44.4" y="356.8" width="1.15" height="1.15" fill="#828282"/>
<rect x="45.5" y="359.6" width="1.15" height="1.15" fill="#828282"/>
<rect x="68.0" y="359.5" width="1.15" height="1.15" fill="#828282"/>
<rect x="66.3" y="352.9" width="1.15" height="1.15" fill="#828282"/>
<rect x="66.9" y="352.2" width="1.15" height="1.15" fill="#828282"/>
<rect x="53.2" y="355.4" width="1.15" height="1.15" fill="#828282"/>
<rect x="53.4" y="350.9" width="1.15" height="1.15" fill="#828282"/>
<rect x="54.7" y="349.0" width="1.15" height="1.15" fill="#828282"/>
<rect x="40.7" y="361.1" width="1.15" height="1.15" fill="#828282"/>
<rect x="59.9" y="354.8" width="1.15" height="1.15" fill="#828282"/>
<rect x="53.0" y="352.7" width="1.15" height="1.15" fill="#828282"/>
<rect x="61.0" y="350.4" width="1.15" height="1.15" fill="#828282"/>
<rect x="44.9" y="359.0" width="1.15" height="1.15" fill="#828282"/>
<rect x="54.7" y="364.3" width="1.15" height="1.15" fill="#828282"/>
<rect x="62.7" y="353.4" width="1.15" height="1.15" fill="#828282"/>
<rect x="60.0" y="357.3" width="1.15" height="1.15" fill="#828282"/>
<rect x="51.6" y="350.5" width="1.15" height="1.15" fill="#828282"/>
<rect x="57.1" y="340.9" width="1.15" height="1.15" fill="#828282"/>
<rect x="62.8" y="352.1" width="1.15" height="1.15" fill="#828282"/>
<rect x="47.5" y="363.0" width="1.15" height="1.15" fill="#828282"/>
<rect x="62.1" y="348.6" width="1.15" height="1.15" fill="#828282"/>
<rect x="63.1" y="344.2" width="1.15" height="1.15" fill="#828282"/>
<rect x="64.9" y="357.3" width="1.15" height="1.15" fill="#828282"/>
<rect x="59.8" y="354.1" width="1.15" height="1.15" fill="#828282"/>
<rect x="51.7" y="347.6" width="1.15" height="1.15" fill="#828282"/>
<rect x="60.5" y="356.8" width="1.15" height="1.15" fill="#828282"/>
<rect x="53.4" y="356.8" width="1.15" height="1.15" fill="#828282"/>
<rect x="40.6" y="354.4" width="1.15" height="1.15" fill="#828282"/>
<rect x="57.8" y="359.0" width="1.15" height="1.15" fill="#828282"/>
<rect x="46.8" y="363.2" width="1.15" height="1.15" fill="#828282"/>
<rect x="49.8" y="353.6" width="1.15" height="1.15" fill="#828282"/>
<rect x="58.8" y="348.4" width="1.15" height="1.15" fill="#828282"/>
<rect x="51.2" y="353.2" width="1.15" height="1.15" fill="#828282"/>
<rect x="68.3" y="346.5" width="1.15" height="1.15" fill="#828282"/>
<rect x="61.6" y="347.2" width="1.15" height="1.15" fill="#828282"/>
<rect x="67.7" y="357.4" width="1.15" height="1.15" fill="#828282"/>
<rect x="61.0" y="353.8" width="1.15" height="1.15" fill="#828282"/>
<rect x="47.5" y="355.4" width="1.15" height="1.15" fill="#828282"/>
<rect x="45.8" y="357.9" width="1.15" height="1.15" fill="#828282"/>
<rect x="50.8" y="358.5" width="1.15" height="1.15" fill="#828282"/>
<rect x="65.7" y="353.7" width="1.15" height="1.15" fill="#828282"/>
<rect x="55.7" y="342.3" width="1.15" height="1.15" fill="#828282"/>
<rect x="56.2" y="353.6" width="1.15" height="1.15" fill="#828282"/>
<rect x="68.2" y="345.6" width="1.15" height="1.15" fill="#828282"/>
<rect x="42.4" y="351.5" width="1.15" height="1.15" fill="#828282"/>
<rect x="57.0" y="354.1" width="1.15" height="1.15" fill="#828282"/>
<rect x="66.3" y="350.1" width="1.15" height="1.15" fill="#828282"/>
<rect x="44.8" y="354.5" width="1.15" height="1.15" fill="#828282"/>
<rect x="54.2" y="355.2" width="1.15" height="1.15" fill="#828282"/>
<rect x="57.4" y="364.2" width="1.15" height="1.15" fill="#828282"/>
<rect x="52.1" y="359.3" width="1.15" height="1.15" fill="#828282"/>
<rect x="55.0" y="350.9" width="1.15" height="1.15" fill="#828282"/>
<rect x="48.3" y="353.8" width="1.15" height="1.15" fill="#828282"/>
<rect x="58.6" y="350.1" width="1.15" height="1.15" fill="#828282"/>
<rect x="60.4" y="351.7" width="1.15" height="1.15" fill="#828282"/>
<rect x="48.6" y="359.7" width="1.15" height="1.15" fill="#828282"/>
<rect x="41.5" y="358.5" width="1.15" height="1.15" fill="#828282"/>
<rect x="44.7" y="357.4" width="1.15" height="1.15" fill="#828282"/>
<rect x="65.4" y="347.1" width="1.15" height="1.15" fill="#828282"/>
<rect x="61.3" y="365.9" width="1.15" height="1.15" fill="#828282"/>
<rect x="66.7" y="355.6" width="1.15" height="1.15" fill="#828282"/>
<rect x="42.4" y="362.0" width="1.15" height="1.15" fill="#828282"/>
<rect x="53.7" y="352.2" width="1.15" height="1.15" fill="#828282"/>
<rect x="67.5" y="351.4" width="1.15" height="1.15" fill="#828282"/>
<rect x="66.5" y="357.0" width="1.15" height="1.15" fill="#828282"/>
<rect x="60.5" y="340.5" width="1.15" height="1.15" fill="#828282"/>
<rect x="63.2" y="354.8" width="1.15" height="1.15" fill="#828282"/>
<rect x="57.2" y="358.8" width="1.15" height="1.15" fill="#828282"/>
<rect x="53.1" y="359.3" width="1.15" height="1.15" fill="#828282"/>
<rect x="46.0" y="362.3" width="1.15" height="1.15" fill="#828282"/>
<rect x="43.8" y="359.4" width="1.15" height="1.15" fill="#828282"/>
<rect x="52.7" y="352.6" width="1.15" height="1.15" fill="#828282"/>
<rect x="47.6" y="352.1" width="1.15" height="1.15" fill="#828282"/>
<rect x="56.6" y="347.1" width="1.15" height="1.15" fill="#828282"/>
<rect x="55.2" y="358.4" width="1.15" height="1.15" fill="#828282"/>
<rect x="68.2" y="358.1" width="1.15" height="1.15" fill="#828282"/>
<rect x="47.0" y="354.5" width="1.15" height="1.15" fill="#828282"/>
<rect x="43.5" y="363.9" width="1.15" height="1.15" fill="#828282"/>
<rect x="57.8" y="348.7" width="1.15" height="1.15" fill="#828282"/>
<rect x="50.4" y="354.8" width="1.15" height="1.15" fill="#828282"/>
<rect x="56.1" y="361.2" width="1.15" height="1.15" fill="#828282"/>
<rect x="56.9" y="348.9" width="1.15" height="1.15" fill="#828282"/>
<rect x="45.6" y="351.4" width="1.15" height="1.15" fill="#828282"/>
<rect x="47.3" y="366.8" width="1.15" height="1.15" fill="#828282"/>
<rect x="64.9" y="350.6" width="1.15" height="1.15" fill="#828282"/>
<rect x="41.4" y="361.6" width="1.15" height="1.15" fill="#828282"/>
<rect x="52.2" y="356.6" width="1.15" height="1.15" fill="#828282"/>
<rect x="57.8" y="358.4" width="1.15" height="1.15" fill="#828282"/>
<rect x="42.3" y="361.4" width="1.15" height="1.15" fill="#828282"/>
<rect x="42.7" y="355.2" width="1.15" height="1.15" fill="#828282"/>
<rect x="58.0" y="348.5" width="1.15" height="1.15" fill="#828282"/>
<rect x="50.7" y="352.5" width="1.15" height="1.15" fill="#828282"/>
<rect x="49.9" y="356.3" width="1.15" height="1.15" fill="#828282"/>
<rect x="61.2" y="353.8" width="1.15" height="1.15" fill="#828282"/>
<rect x="43.7" y="356.1" width="1.15" height="1.15" fill="#828282"/>
<rect x="63.0" y="346.8" width="1.15" height="1.15" fill="#828282"/>
<rect x="46.3" y="351.4" width="1.15" height="1.15" fill="#828282"/>
<rect x="52.2" y="354.9" width="1.15" height="1.15" fill="#828282"/>
<rect x="50.6" y="364.1" width="1.15" height="1.15" fill="#828282"/>
<rect x="58.6" y="357.6" width="1.15" height="1.15" fill="#828282"/>
<rect x="55.7" y="354.1" width="1.15" height="1.15" fill="#828282"/>
<rect x="61.2" y="357.1" width="1.15" height="1.15" fill="#828282"/>
<rect x="50.6" y="353.4" width="1.15" height="1.15" fill="#828282"/>
<rect x="43.0" y="359.1" width="1.15" height="1.15" fill="#828282"/>
<rect x="42.6" y="356.6" width="1.15" height="1.15" fill="#828282"/>
<rect x="56.1" y="347.3" width="1.15" height="1.15" fill="#828282"/>
<rect x="48.7" y="356.9" width="1.15" height="1.15" fill="#828282"/>
<rect x="62.0" y="355.5" width="1.15" height="1.15" fill="#828282"/>
<rect x="58.8" y="355.0" width="1.15" height="1.15" fill="#828282"/>
<rect x="42.6" y="355.4" width="1.15" height="1.15" fill="#828282"/>
<rect x="59.7" y="360.2" width="1.15" height="1.15" fill="#828282"/>
<rect x="48.2" y="359.1" width="1.15" height="1.15" fill="#828282"/>
<rect x="60.6" y="356.4" width="1.15" height="1.15" fill="#828282"/>
<rect x="50.6" y="361.1" width="1.15" height="1.15" fill="#828282"/>
<rect x="56.2" y="359.1" width="1.15" height="1.15" fill="#828282"/>
<rect x="66.0" y="361.0" width="1.15" height="1.15" fill="#828282"/>
<rect x="52.6" y="351.4" width="1.15" height="1.15" fill="#828282"/>
<rect x="62.8" y="351.1" width="1.15" height="1.15" fill="#828282"/>
<rect x="51.5" y="359.3" width="1.15" height="1.15" fill="#828282"/>
<rect x="66.5" y="354.2" width="1.15" height="1.15" fill="#828282"/>
<rect x="50.4" y="353.6" width="1.15" height="1.15" fill="#828282"/>
<rect x="50.5" y="352.7" width="1.15" height="1.15" fill="#828282"/>
<rect x="51.2" y="359.1" width="1.15" height="1.15" fill="#828282"/>
<rect x="45.8" y="349.5" width="1.15" height="1.15" fill="#828282"/>
<rect x="55.4" y="351.2" width="1.15" height="1.15" fill="#828282"/>
<rect x="63.7" y="349.5" width="1.15" height="1.15" fill="#828282"/>
<rect x="61.6" y="351.7" width="1.15" height="1.15" fill="#828282"/>
<rect x="65.0" y="351.6" width="1.15" height="1.15" fill="#828282"/>
<rect x="54.7" y="355.6" width="1.15" height="1.15" fill="#828282"/>
<rect x="55.5" y="343.5" width="1.15" height="1.15" fill="#828282"/>
<rect x="58.5" y="348.6" width="1.15" height="1.15" fill="#828282"/>
<rect x="62.8" y="357.7" width="1.15" height="1.15" fill="#828282"/>
<rect x="62.4" y="354.8" width="1.15" height="1.15" fill="#828282"/>
<rect x="42.7" y="364.4" width="1.15" height="1.15" fill="#828282"/>
<rect x="65.5" y="355.4" width="1.15" height="1.15" fill="#828282"/>
<rect x="42.7" y="356.2" width="1.15" height="1.15" fill="#828282"/>
<rect x="61.2" y="350.9" width="1.15" height="1.15" fill="#828282"/>
<rect x="58.5" y="353.7" width="1.15" height="1.15" fill="#828282"/>
<rect x="61.7" y="356.0" width="1.15" height="1.15" fill="#828282"/>
<rect x="54.9" y="355.0" width="1.15" height="1.15" fill="#828282"/>
<rect x="49.8" y="351.4" width="1.15" height="1.15" fill="#828282"/>
<rect x="67.4" y="348.7" width="1.15" height="1.15" fill="#828282"/>
<rect x="55.3" y="349.7" width="1.15" height="1.15" fill="#828282"/>
<rect x="60.5" y="350.4" width="1.15" height="1.15" fill="#828282"/>
<rect x="51.8" y="345.5" width="1.15" height="1.15" fill="#828282"/>
<rect x="63.4" y="347.7" width="1.15" height="1.15" fill="#828282"/>
<rect x="62.9" y="344.6" width="1.15" height="1.15" fill="#828282"/>
<rect x="63.6" y="361.1" width="1.15" height="1.15" fill="#828282"/>
<rect x="58.2" y="346.2" width="1.15" height="1.15" fill="#828282"/>
<rect x="55.0" y="352.5" width="1.15" height="1.15" fill="#828282"/>
<rect x="52.1" y="347.3" width="1.15" height="1.15" fill="#828282"/>
<rect x="52.1" y="359.9" width="1.15" height="1.15" fill="#828282"/>
<rect x="68.0" y="357.0" width="1.15" height="1.15" fill="#828282"/>
<rect x="50.8" y="357.2" width="1.15" height="1.15" fill="#828282"/>
<rect x="52.2" y="358.0" width="1.15" height="1.15" fill="#828282"/>
<rect x="48.5" y="357.9" width="1.15" height="1.15" fill="#828282"/>
<rect x="48.9" y="355.9" width="1.15" height="1.15" fill="#828282"/>
<rect x="43.5" y="352.9" width="1.15" height="1.15" fill="#828282"/>
<rect x="45.3" y="350.8" width="1.15" height="1.15" fill="#828282"/>
<rect x="42.0" y="352.1" width="1.15" height="1.15" fill="#828282"/>
<rect x="65.8" y="353.2" width="1.15" height="1.15" fill="#828282"/>
<rect x="41.3" y="360.5" width="1.15" height="1.15" fill="#828282"/>
<rect x="46.4" y="358.7" width="1.15" height="1.15" fill="#828282"/>
<rect x="46.9" y="355.5" width="1.15" height="1.15" fill="#828282"/>
<rect x="46.6" y="350.8" width="1.15" height="1.15" fill="#828282"/>
<rect x="45.5" y="356.6" width="1.15" height="1.15" fill="#828282"/>
<rect x="61.5" y="355.6" width="1.15" height="1.15" fill="#828282"/>
<rect x="49.0" y="348.1" width="1.15" height="1.15" fill="#828282"/>
<rect x="53.7" y="352.3" width="1.15" height="1.15" fill="#828282"/>
<rect x="47.6" y="364.3" width="1.15" height="1.15" fill="#828282"/>
<rect x="49.9" y="349.3" width="1.15" height="1.15" fill="#828282"/>
<rect x="55.6" y="359.5" width="1.15" height="1.15" fill="#828282"/>
<rect x="46.5" y="355.4" width="1.15" height="1.15" fill="#828282"/>
<rect x="41.7" y="365.9" width="1.15" height="1.15" fill="#828282"/>
<rect x="51.1" y="352.9" width="1.15" height="1.15" fill="#828282"/>
<rect x="55.1" y="350.8" width="1.15" height="1.15" fill="#828282"/>
<rect x="68.0" y="350.6" width="1.15" height="1.15" fill="#828282"/>
<rect x="58.7" y="353.6" width="1.15" height="1.15" fill="#828282"/>
<rect x="53.5" y="355.6" width="1.15" height="1.15" fill="#828282"/>
<rect x="50.7" y="357.8" width="1.15" height="1.15" fill="#828282"/>
<rect x="57.3" y="347.0" width="1.15" height="1.15" fill="#828282"/>
<rect x="44.7" y="359.5" width="1.15" height="1.15" fill="#828282"/>
<rect x="47.6" y="359.9" width="1.15" height="1.15" fill="#828282"/>
<rect x="64.6" y="345.4" width="1.15" height="1.15" fill="#828282"/>
<rect x="68.1" y="350.3" width="1.15" height="1.15" fill="#828282"/>
<rect x="47.8" y="353.9" width="1.15" height="1.15" fill="#828282"/>
<rect x="61.9" y="352.1" width="1.15" height="1.15" fill="#828282"/>
<rect x="40.3" y="362.4" width="1.15" height="1.15" fill="#828282"/>
<rect x="63.3" y="344.3" width="1.15" height="1.15" fill="#828282"/>
<rect x="42.6" y="357.0" width="1.15" height="1.15" fill="#828282"/>
<rect x="43.0" y="365.0" width="1.15" height="1.15" fill="#828282"/>
<rect x="53.7" y="343.6" width="1.15" height="1.15" fill="#828282"/>
<rect x="56.7" y="356.3" width="1.15" height="1.15" fill="#828282"/>
<rect x="64.3" y="349.3" width="1.15" height="1.15" fill="#828282"/>
<rect x="52.0" y="363.0" width="1.15" height="1.15" fill="#828282"/>
<rect x="66.0" y="358.8" width="1.15" height="1.15" fill="#828282"/>
<rect x="46.1" y="361.6" width="1.15" height="1.15" fill="#828282"/>
<rect x="55.5" y="351.7" width="1.15" height="1.15" fill="#828282"/>
<rect x="63.6" y="351.8" width="1.15" height="1.15" fill="#828282"/>
<rect x="49.0" y="355.5" width="1.15" height="1.15" fill="#828282"/>
<rect x="48.9" y="357.9" width="1.15" height="1.15" fill="#828282"/>
<rect x="53.4" y="354.0" width="1.15" height="1.15" fill="#828282"/>
<rect x="59.5" y="349.1" width="1.15" height="1.15" fill="#828282"/>
<rect x="43.3" y="353.7" width="1.15" height="1.15" fill="#828282"/>
<rect x="67.4" y="354.3" width="1.15" height="1.15" fill="#828282"/>
<rect x="63.5" y="351.8" width="1.15" height="1.15" fill="#828282"/>
<rect x="50.9" y="355.1" width="1.15" height="1.15" fill="#828282"/>
<rect x="60.2" y="353.6" width="1.15" height="1.15" fill="#828282"/>
<rect x="53.1" y="360.9" width="1.15" height="1.15" fill="#828282"/>
<rect x="68.9" y="358.9" width="1.15" height="1.15" fill="#828282"/>
<rect x="71.5" y="349.3" width="1.15" height="1.15" fill="#828282"/>
<rect x="76.9" y="348.0" width="1.15" height="1.15" fill="#828282"/>
<rect x="75.9" y="354.0" width="1.15" height="1.15" fill="#828282"/>
<rect x="72.7" y="347.0" width="1.15" height="1.15" fill="#828282"/>
<rect x="77.6" y="353.4" width="1.15" height="1.15" fill="#828282"/>
<rect x="72.2" y="352.2" width="1.15" height="1.15" fill="#828282"/>
<rect x="73.1" y="357.3" width="1.15" height="1.15" fill="#828282"/>
<rect x="81.3" y="341.3" width="1.15" height="1.15" fill="#828282"/>
<rect x="73.2" y="346.5" width="1.15" height="1.15" fill="#828282"/>
<rect x="79.7" y="351.2" width="1.15" height="1.15" fill="#828282"/>
<rect x="70.0" y="351.4" width="1.15" height="1.15" fill="#828282"/>
<rect x="77.7" y="348.3" width="1.15" height="1.15" fill="#828282"/>
<rect x="74.1" y="346.4" width="1.15" height="1.15" fill="#828282"/>
<rect x="79.8" y="347.1" width="1.15" height="1.15" fill="#828282"/>
<rect x="71.8" y="348.5" width="1.15" height="1.15" fill="#828282"/>
<rect x="70.9" y="353.4" width="1.15" height="1.15" fill="#828282"/>
<rect x="69.8" y="353.5" width="1.15" height="1.15" fill="#828282"/>
<rect x="81.0" y="343.4" width="1.15" height="1.15" fill="#828282"/>
<rect x="77.3" y="351.8" width="1.15" height="1.15" fill="#828282"/>
<rect x="78.9" y="351.1" width="1.15" height="1.15" fill="#828282"/>
<rect x="73.2" y="345.1" width="1.15" height="1.15" fill="#828282"/>
<rect x="74.2" y="354.5" width="1.15" height="1.15" fill="#828282"/>
<rect x="78.0" y="349.6" width="1.15" height="1.15" fill="#828282"/>
<rect x="81.8" y="350.5" width="1.15" height="1.15" fill="#828282"/>
<rect x="76.8" y="342.1" width="1.15" height="1.15" fill="#828282"/>
<rect x="69.0" y="347.7" width="1.15" height="1.15" fill="#828282"/>
<rect x="77.4" y="353.1" width="1.15" height="1.15" fill="#828282"/>
<rect x="70.2" y="345.6" width="1.15" height="1.15" fill="#828282"/>
<rect x="79.2" y="353.1" width="1.15" height="1.15" fill="#828282"/>
<rect x="79.7" y="346.7" width="1.15" height="1.15" fill="#828282"/>
<rect x="78.9" y="347.1" width="1.15" height="1.15" fill="#828282"/>
<rect x="80.7" y="344.4" width="1.15" height="1.15" fill="#828282"/>
<rect x="75.4" y="347.9" width="1.15" height="1.15" fill="#828282"/>
<rect x="70.7" y="346.5" width="1.15" height="1.15" fill="#828282"/>
<rect x="75.6" y="335.0" width="1.15" height="1.15" fill="#828282"/>
<rect x="78.2" y="350.8" width="1.15" height="1.15" fill="#828282"/>
<rect x="81.3" y="345.9" width="1.15" height="1.15" fill="#828282"/>
<rect x="56.5" y="369.5" width="1.15" height="1.15" fill="#828282"/>
<rect x="46.7" y="370.4" width="1.15" height="1.15" fill="#828282"/>
<rect x="55.2" y="368.0" width="1.15" height="1.15" fill="#828282"/>
<rect x="64.2" y="366.0" width="1.15" height="1.15" fill="#828282"/>
<rect x="49.7" y="367.2" width="1.15" height="1.15" fill="#828282"/>
<rect x="65.3" y="369.4" width="1.15" height="1.15" fill="#828282"/>
<rect x="44.0" y="372.6" width="1.15" height="1.15" fill="#828282"/>
<rect x="54.8" y="366.5" width="1.15" height="1.15" fill="#828282"/>
<rect x="54.8" y="368.3" width="1.15" height="1.15" fill="#828282"/>
<rect x="65.8" y="376.6" width="1.15" height="1.15" fill="#828282"/>
<rect x="61.3" y="367.6" width="1.15" height="1.15" fill="#828282"/>
<rect x="61.5" y="367.9" width="1.15" height="1.15" fill="#828282"/>
<rect x="47.9" y="371.1" width="1.15" height="1.15" fill="#828282"/>
<rect x="55.1" y="367.4" width="1.15" height="1.15" fill="#828282"/>
<rect x="61.7" y="370.7" width="1.15" height="1.15" fill="#828282"/>
<rect x="42.4" y="373.1" width="1.15" height="1.15" fill="#828282"/>
<rect x="41.3" y="373.4" width="1.15" height="1.15" fill="#828282"/>
<rect x="64.5" y="378.3" width="1.15" height="1.15" fill="#828282"/>
<rect x="57.3" y="367.2" width="1.15" height="1.15" fill="#828282"/>
<rect x="59.3" y="373.9" width="1.15" height="1.15" fill="#828282"/>
<rect x="50.2" y="363.7" width="1.15" height="1.15" fill="#828282"/>
<rect x="40.9" y="365.6" width="1.15" height="1.15" fill="#828282"/>
<rect x="45.6" y="367.1" width="1.15" height="1.15" fill="#828282"/>
<rect x="50.4" y="369.4" width="1.15" height="1.15" fill="#828282"/>
<rect x="55.0" y="371.0" width="1.15" height="1.15" fill="#828282"/>
<rect x="47.2" y="372.8" width="1.15" height="1.15" fill="#828282"/>
<rect x="55.0" y="366.5" width="1.15" height="1.15" fill="#828282"/>
<rect x="41.5" y="373.4" width="1.15" height="1.15" fill="#828282"/>
<rect x="57.6" y="374.4" width="1.15" height="1.15" fill="#828282"/>
<rect x="55.8" y="376.0" width="1.15" height="1.15" fill="#828282"/>
<rect x="52.5" y="364.8" width="1.15" height="1.15" fill="#828282"/>
<rect x="58.1" y="371.6" width="1.15" height="1.15" fill="#828282"/>
<rect x="59.8" y="369.0" width="1.15" height="1.15" fill="#828282"/>
<rect x="65.9" y="365.0" width="1.15" height="1.15" fill="#828282"/>
<rect x="61.9" y="371.2" width="1.15" height="1.15" fill="#828282"/>
<rect x="103.0" y="364.0" width="1" height="1" fill="#828282"/>
<rect x="108.0" y="359.0" width="1" height="1" fill="#828282"/>
<rect x="62.0" y="385.0" width="1" height="1" fill="#828282"/>
<rect x="62.0" y="389.0" width="1" height="1" fill="#828282"/>
<rect x="54.0" y="393.0" width="1" height="1" fill="#828282"/>
<rect x="60.0" y="392.0" width="1" height="1" fill="#828282"/>
<rect x="64.0" y="384.0" width="1" height="1" fill="#828282"/>
<rect x="63.0" y="380.0" width="1" height="1" fill="#828282"/>
<rect x="66.0" y="377.0" width="1" height="1" fill="#828282"/>
<rect x="76.0" y="370.0" width="1" height="1" fill="#828282"/>
<rect x="70.0" y="367.0" width="1" height="1" fill="#828282"/>
<rect x="47.0" y="365.0" width="1" height="1" fill="#828282"/>
<rect x="42.0" y="370.0" width="1" height="1" fill="#828282"/>
<rect x="67.0" y="373.0" width="1" height="1" fill="#828282"/>
<rect x="69.0" y="376.0" width="1" height="1" fill="#828282"/>
<rect x="65.0" y="370.0" width="1" height="1" fill="#828282"/>
<rect x="71.0" y="381.0" width="1" height="1" fill="#828282"/>
<rect x="60.0" y="387.0" width="1" height="1" fill="#828282"/>
<line x1="37.70" y1="412.60" x2="39.50" y2="412.60" stroke="#444" stroke-width="0.7"/>
<line x1="39.50" y1="412.60" x2="39.50" y2="414.40" stroke="#444" stroke-width="0.7"/>
<line x1="38.50" y1="405.36" x2="39.50" y2="405.36" stroke="#444" stroke-width="0.7"/>
<line x1="46.69" y1="412.60" x2="46.69" y2="413.60" stroke="#444" stroke-width="0.7"/>
<line x1="38.50" y1="401.13" x2="39.50" y2="401.13" stroke="#444" stroke-width="0.7"/>
<line x1="50.90" y1="412.60" x2="50.90" y2="413.60" stroke="#444" stroke-width="0.7"/>
<line x1="38.50" y1="398.12" x2="39.50" y2="398.12" stroke="#444" stroke-width="0.7"/>
<line x1="53.89" y1="412.60" x2="53.89" y2="413.60" stroke="#444" stroke-width="0.7"/>
<line x1="38.50" y1="395.79" x2="39.50" y2="395.79" stroke="#444" stroke-width="0.7"/>
<line x1="56.21" y1="412.60" x2="56.21" y2="413.60" stroke="#444" stroke-width="0.7"/>
<line x1="38.50" y1="393.89" x2="39.50" y2="393.89" stroke="#444" stroke-width="0.7"/>
<line x1="58.10" y1="412.60" x2="58.10" y2="413.60" stroke="#444" stroke-width="0.7"/>
<line x1="38.50" y1="392.28" x2="39.50" y2="392.28" stroke="#444" stroke-width="0.7"/>
<line x1="59.70" y1="412.60" x2="59.70" y2="413.60" stroke="#444" stroke-width="0.7"/>
<line x1="38.50" y1="390.88" x2="39.50" y2="390.88" stroke="#444" stroke-width="0.7"/>
<line x1="61.08" y1="412.60" x2="61.08" y2="413.60" stroke="#444" stroke-width="0.7"/>
<line x1="38.50" y1="389.65" x2="39.50" y2="389.65" stroke="#444" stroke-width="0.7"/>
<line x1="62.31" y1="412.60" x2="62.31" y2="413.60" stroke="#444" stroke-width="0.7"/>
<line x1="37.70" y1="388.55" x2="39.50" y2="388.55" stroke="#444" stroke-width="0.7"/>
<line x1="63.40" y1="412.60" x2="63.40" y2="414.40" stroke="#444" stroke-width="0.7"/>
<line x1="38.50" y1="381.31" x2="39.50" y2="381.31" stroke="#444" stroke-width="0.7"/>
<line x1="70.59" y1="412.60" x2="70.59" y2="413.60" stroke="#444" stroke-width="0.7"/>
<line x1="38.50" y1="377.08" x2="39.50" y2="377.08" stroke="#444" stroke-width="0.7"/>
<line x1="74.80" y1="412.60" x2="74.80" y2="413.60" stroke="#444" stroke-width="0.7"/>
<line x1="38.50" y1="374.07" x2="39.50" y2="374.07" stroke="#444" stroke-width="0.7"/>
<line x1="77.79" y1="412.60" x2="77.79" y2="413.60" stroke="#444" stroke-width="0.7"/>
<line x1="38.50" y1="371.74" x2="39.50" y2="371.74" stroke="#444" stroke-width="0.7"/>
<line x1="80.11" y1="412.60" x2="80.11" y2="413.60" stroke="#444" stroke-width="0.7"/>
<line x1="38.50" y1="369.84" x2="39.50" y2="369.84" stroke="#444" stroke-width="0.7"/>
<line x1="82.00" y1="412.60" x2="82.00" y2="413.60" stroke="#444" stroke-width="0.7"/>
<line x1="38.50" y1="368.23" x2="39.50" y2="368.23" stroke="#444" stroke-width="0.7"/>
<line x1="83.60" y1="412.60" x2="83.60" y2="413.60" stroke="#444" stroke-width="0.7"/>
<line x1="38.50" y1="366.83" x2="39.50" y2="366.83" stroke="#444" stroke-width="0.7"/>
<line x1="84.98" y1="412.60" x2="84.98" y2="413.60" stroke="#444" stroke-width="0.7"/>
<line x1="38.50" y1="365.60" x2="39.50" y2="365.60" stroke="#444" stroke-width="0.7"/>
<line x1="86.21" y1="412.60" x2="86.21" y2="413.60" stroke="#444" stroke-width="0.7"/>
<line x1="37.70" y1="364.50" x2="39.50" y2="364.50" stroke="#444" stroke-width="0.7"/>
<line x1="87.30" y1="412.60" x2="87.30" y2="414.40" stroke="#444" stroke-width="0.7"/>
<line x1="38.50" y1="357.26" x2="39.50" y2="357.26" stroke="#444" stroke-width="0.7"/>
<line x1="94.49" y1="412.60" x2="94.49" y2="413.60" stroke="#444" stroke-width="0.7"/>
<line x1="38.50" y1="353.03" x2="39.50" y2="353.03" stroke="#444" stroke-width="0.7"/>
<line x1="98.70" y1="412.60" x2="98.70" y2="413.60" stroke="#444" stroke-width="0.7"/>
<line x1="38.50" y1="350.02" x2="39.50" y2="350.02" stroke="#444" stroke-width="0.7"/>
<line x1="101.69" y1="412.60" x2="101.69" y2="413.60" stroke="#444" stroke-width="0.7"/>
<line x1="38.50" y1="347.69" x2="39.50" y2="347.69" stroke="#444" stroke-width="0.7"/>
<line x1="104.01" y1="412.60" x2="104.01" y2="413.60" stroke="#444" stroke-width="0.7"/>
<line x1="38.50" y1="345.79" x2="39.50" y2="345.79" stroke="#444" stroke-width="0.7"/>
<line x1="105.90" y1="412.60" x2="105.90" y2="413.60" stroke="#444" stroke-width="0.7"/>
<line x1="38.50" y1="344.18" x2="39.50" y2="344.18" stroke="#444" stroke-width="0.7"/>
<line x1="107.50" y1="412.60" x2="107.50" y2="413.60" stroke="#444" stroke-width="0.7"/>
<line x1="38.50" y1="342.78" x2="39.50" y2="342.78" stroke="#444" stroke-width="0.7"/>
<line x1="108.88" y1="412.60" x2="108.88" y2="413.60" stroke="#444" stroke-width="0.7"/>
<line x1="38.50" y1="341.55" x2="39.50" y2="341.55" stroke="#444" stroke-width="0.7"/>
<line x1="110.11" y1="412.60" x2="110.11" y2="413.60" stroke="#444" stroke-width="0.7"/>
<line x1="37.70" y1="340.45" x2="39.50" y2="340.45" stroke="#444" stroke-width="0.7"/>
<line x1="111.20" y1="412.60" x2="111.20" y2="414.40" stroke="#444" stroke-width="0.7"/>
<line x1="38.50" y1="333.21" x2="39.50" y2="333.21" stroke="#444" stroke-width="0.7"/>
<line x1="118.39" y1="412.60" x2="118.39" y2="413.60" stroke="#444" stroke-width="0.7"/>
<line x1="38.50" y1="328.98" x2="39.50" y2="328.98" stroke="#444" stroke-width="0.7"/>
<line x1="122.60" y1="412.60" x2="122.60" y2="413.60" stroke="#444" stroke-width="0.7"/>
<line x1="38.50" y1="325.97" x2="39.50" y2="325.97" stroke="#444" stroke-width="0.7"/>
<line x1="125.59" y1="412.60" x2="125.59" y2="413.60" stroke="#444" stroke-width="0.7"/>
<line x1="38.50" y1="323.64" x2="39.50" y2="323.64" stroke="#444" stroke-width="0.7"/>
<line x1="127.91" y1="412.60" x2="127.91" y2="413.60" stroke="#444" stroke-width="0.7"/>
<line x1="38.50" y1="321.74" x2="39.50" y2="321.74" stroke="#444" stroke-width="0.7"/>
<line x1="129.80" y1="412.60" x2="129.80" y2="413.60" stroke="#444" stroke-width="0.7"/>
<line x1="38.50" y1="320.13" x2="39.50" y2="320.13" stroke="#444" stroke-width="0.7"/>
<line x1="131.40" y1="412.60" x2="131.40" y2="413.60" stroke="#444" stroke-width="0.7"/>
<line x1="38.50" y1="318.73" x2="39.50" y2="318.73" stroke="#444" stroke-width="0.7"/>
<line x1="132.78" y1="412.60" x2="132.78" y2="413.60" stroke="#444" stroke-width="0.7"/>
<line x1="38.50" y1="317.50" x2="39.50" y2="317.50" stroke="#444" stroke-width="0.7"/>
<line x1="134.01" y1="412.60" x2="134.01" y2="413.60" stroke="#444" stroke-width="0.7"/>
<text transform="translate(36.20,412.60) rotate(-90)" text-anchor="middle" font-size="5.3" font-weight="bold" fill="#222" stroke="#222" stroke-width="0.3"><tspan>10</tspan><tspan dy="-1.8" font-size="4">0</tspan></text>
<text x="39.50" y="419.80" text-anchor="middle" font-size="5.3" font-weight="bold" fill="#222" stroke="#222" stroke-width="0.3"><tspan>10</tspan><tspan dy="-1.8" font-size="4">0</tspan></text>
<text transform="translate(36.20,388.55) rotate(-90)" text-anchor="middle" font-size="5.3" font-weight="bold" fill="#222" stroke="#222" stroke-width="0.3"><tspan>10</tspan><tspan dy="-1.8" font-size="4">1</tspan></text>
<text x="63.40" y="419.80" text-anchor="middle" font-size="5.3" font-weight="bold" fill="#222" stroke="#222" stroke-width="0.3"><tspan>10</tspan><tspan dy="-1.8" font-size="4">1</tspan></text>
<text transform="translate(36.20,364.50) rotate(-90)" text-anchor="middle" font-size="5.3" font-weight="bold" fill="#222" stroke="#222" stroke-width="0.3"><tspan>10</tspan><tspan dy="-1.8" font-size="4">2</tspan></text>
<text x="87.30" y="419.80" text-anchor="middle" font-size="5.3" font-weight="bold" fill="#222" stroke="#222" stroke-width="0.3"><tspan>10</tspan><tspan dy="-1.8" font-size="4">2</tspan></text>
<text transform="translate(36.20,340.45) rotate(-90)" text-anchor="middle" font-size="5.3" font-weight="bold" fill="#222" stroke="#222" stroke-width="0.3"><tspan>10</tspan><tspan dy="-1.8" font-size="4">3</tspan></text>
<text x="111.20" y="419.80" text-anchor="middle" font-size="5.3" font-weight="bold" fill="#222" stroke="#222" stroke-width="0.3"><tspan>10</tspan><tspan dy="-1.8" font-size="4">3</tspan></text>
<text transform="translate(36.20,316.40) rotate(-90)" text-anchor="middle" font-size="5.3" font-weight="bold" fill="#222" stroke="#222" stroke-width="0.3"><tspan>10</tspan><tspan dy="-1.8" font-size="4">4</tspan></text>
<text x="135.10" y="419.80" text-anchor="middle" font-size="5.3" font-weight="bold" fill="#222" stroke="#222" stroke-width="0.3"><tspan>10</tspan><tspan dy="-1.8" font-size="4">4</tspan></text>
<rect x="159.5" y="316.2" width="96.5" height="96.0" fill="none" stroke="#666" stroke-width="1.15"/>
<line x1="188.30" y1="316.20" x2="188.30" y2="412.20" stroke="#444" stroke-width="1.0"/>
<line x1="159.50" y1="384.60" x2="256.00" y2="384.60" stroke="#444" stroke-width="1.0"/>
<rect x="172.5" y="353.0" width="1.15" height="1.15" fill="#828282"/>
<rect x="176.1" y="360.5" width="1.15" height="1.15" fill="#828282"/>
<rect x="175.0" y="353.0" width="1.15" height="1.15" fill="#828282"/>
<rect x="172.4" y="360.1" width="1.15" height="1.15" fill="#828282"/>
<rect x="161.8" y="356.9" width="1.15" height="1.15" fill="#828282"/>
<rect x="180.6" y="360.9" width="1.15" height="1.15" fill="#828282"/>
<rect x="177.0" y="351.3" width="1.15" height="1.15" fill="#828282"/>
<rect x="181.4" y="352.6" width="1.15" height="1.15" fill="#828282"/>
<rect x="162.3" y="364.9" width="1.15" height="1.15" fill="#828282"/>
<rect x="163.8" y="353.6" width="1.15" height="1.15" fill="#828282"/>
<rect x="171.4" y="358.7" width="1.15" height="1.15" fill="#828282"/>
<rect x="161.8" y="357.3" width="1.15" height="1.15" fill="#828282"/>
<rect x="167.0" y="352.7" width="1.15" height="1.15" fill="#828282"/>
<rect x="168.9" y="354.9" width="1.15" height="1.15" fill="#828282"/>
<rect x="162.2" y="361.1" width="1.15" height="1.15" fill="#828282"/>
<rect x="185.8" y="360.3" width="1.15" height="1.15" fill="#828282"/>
<rect x="184.6" y="352.5" width="1.15" height="1.15" fill="#828282"/>
<rect x="172.1" y="357.9" width="1.15" height="1.15" fill="#828282"/>
<rect x="181.2" y="351.6" width="1.15" height="1.15" fill="#828282"/>
<rect x="176.2" y="357.6" width="1.15" height="1.15" fill="#828282"/>
<rect x="182.5" y="353.2" width="1.15" height="1.15" fill="#828282"/>
<rect x="163.8" y="347.7" width="1.15" height="1.15" fill="#828282"/>
<rect x="160.3" y="356.9" width="1.15" height="1.15" fill="#828282"/>
<rect x="167.1" y="356.7" width="1.15" height="1.15" fill="#828282"/>
<rect x="162.1" y="363.0" width="1.15" height="1.15" fill="#828282"/>
<rect x="185.4" y="355.6" width="1.15" height="1.15" fill="#828282"/>
<rect x="170.3" y="353.0" width="1.15" height="1.15" fill="#828282"/>
<rect x="176.7" y="356.8" width="1.15" height="1.15" fill="#828282"/>
<rect x="185.5" y="354.0" width="1.15" height="1.15" fill="#828282"/>
<rect x="168.9" y="346.8" width="1.15" height="1.15" fill="#828282"/>
<rect x="187.7" y="353.3" width="1.15" height="1.15" fill="#828282"/>
<rect x="173.5" y="357.5" width="1.15" height="1.15" fill="#828282"/>
<rect x="186.1" y="357.3" width="1.15" height="1.15" fill="#828282"/>
<rect x="185.4" y="356.7" width="1.15" height="1.15" fill="#828282"/>
<rect x="170.2" y="365.5" width="1.15" height="1.15" fill="#828282"/>
<rect x="173.5" y="360.9" width="1.15" height="1.15" fill="#828282"/>
<rect x="188.2" y="361.4" width="1.15" height="1.15" fill="#828282"/>
<rect x="166.0" y="356.2" width="1.15" height="1.15" fill="#828282"/>
<rect x="184.9" y="351.6" width="1.15" height="1.15" fill="#828282"/>
<rect x="161.7" y="365.0" width="1.15" height="1.15" fill="#828282"/>
<rect x="169.1" y="362.1" width="1.15" height="1.15" fill="#828282"/>
<rect x="185.5" y="358.7" width="1.15" height="1.15" fill="#828282"/>
<rect x="164.1" y="353.3" width="1.15" height="1.15" fill="#828282"/>
<rect x="179.8" y="359.6" width="1.15" height="1.15" fill="#828282"/>
<rect x="162.5" y="357.1" width="1.15" height="1.15" fill="#828282"/>
<rect x="166.6" y="355.5" width="1.15" height="1.15" fill="#828282"/>
<rect x="165.8" y="365.0" width="1.15" height="1.15" fill="#828282"/>
<rect x="165.4" y="359.0" width="1.15" height="1.15" fill="#828282"/>
<rect x="182.4" y="361.2" width="1.15" height="1.15" fill="#828282"/>
<rect x="170.7" y="352.1" width="1.15" height="1.15" fill="#828282"/>
<rect x="176.8" y="347.6" width="1.15" height="1.15" fill="#828282"/>
<rect x="166.7" y="354.7" width="1.15" height="1.15" fill="#828282"/>
<rect x="179.0" y="365.2" width="1.15" height="1.15" fill="#828282"/>
<rect x="168.1" y="356.4" width="1.15" height="1.15" fill="#828282"/>
<rect x="187.8" y="351.6" width="1.15" height="1.15" fill="#828282"/>
<rect x="172.6" y="351.1" width="1.15" height="1.15" fill="#828282"/>
<rect x="161.6" y="358.2" width="1.15" height="1.15" fill="#828282"/>
<rect x="177.1" y="354.9" width="1.15" height="1.15" fill="#828282"/>
<rect x="182.8" y="357.7" width="1.15" height="1.15" fill="#828282"/>
<rect x="162.7" y="357.2" width="1.15" height="1.15" fill="#828282"/>
<rect x="167.2" y="365.5" width="1.15" height="1.15" fill="#828282"/>
<rect x="168.1" y="354.9" width="1.15" height="1.15" fill="#828282"/>
<rect x="185.4" y="352.8" width="1.15" height="1.15" fill="#828282"/>
<rect x="188.0" y="358.1" width="1.15" height="1.15" fill="#828282"/>
<rect x="181.3" y="355.7" width="1.15" height="1.15" fill="#828282"/>
<rect x="171.1" y="361.9" width="1.15" height="1.15" fill="#828282"/>
<rect x="165.3" y="356.0" width="1.15" height="1.15" fill="#828282"/>
<rect x="175.9" y="353.3" width="1.15" height="1.15" fill="#828282"/>
<rect x="178.7" y="351.8" width="1.15" height="1.15" fill="#828282"/>
<rect x="182.2" y="349.0" width="1.15" height="1.15" fill="#828282"/>
<rect x="184.0" y="353.5" width="1.15" height="1.15" fill="#828282"/>
<rect x="179.5" y="343.9" width="1.15" height="1.15" fill="#828282"/>
<rect x="165.2" y="356.9" width="1.15" height="1.15" fill="#828282"/>
<rect x="182.1" y="357.7" width="1.15" height="1.15" fill="#828282"/>
<rect x="166.9" y="363.4" width="1.15" height="1.15" fill="#828282"/>
<rect x="172.6" y="357.8" width="1.15" height="1.15" fill="#828282"/>
<rect x="182.5" y="346.4" width="1.15" height="1.15" fill="#828282"/>
<rect x="166.9" y="354.7" width="1.15" height="1.15" fill="#828282"/>
<rect x="176.5" y="356.0" width="1.15" height="1.15" fill="#828282"/>
<rect x="174.3" y="362.3" width="1.15" height="1.15" fill="#828282"/>
<rect x="180.3" y="356.3" width="1.15" height="1.15" fill="#828282"/>
<rect x="176.3" y="357.8" width="1.15" height="1.15" fill="#828282"/>
<rect x="164.6" y="356.4" width="1.15" height="1.15" fill="#828282"/>
<rect x="160.8" y="354.5" width="1.15" height="1.15" fill="#828282"/>
<rect x="172.7" y="356.8" width="1.15" height="1.15" fill="#828282"/>
<rect x="167.7" y="358.3" width="1.15" height="1.15" fill="#828282"/>
<rect x="185.7" y="352.0" width="1.15" height="1.15" fill="#828282"/>
<rect x="176.2" y="348.0" width="1.15" height="1.15" fill="#828282"/>
<rect x="167.0" y="355.8" width="1.15" height="1.15" fill="#828282"/>
<rect x="164.4" y="358.1" width="1.15" height="1.15" fill="#828282"/>
<rect x="169.1" y="358.7" width="1.15" height="1.15" fill="#828282"/>
<rect x="177.7" y="351.9" width="1.15" height="1.15" fill="#828282"/>
<rect x="176.8" y="355.1" width="1.15" height="1.15" fill="#828282"/>
<rect x="162.8" y="360.1" width="1.15" height="1.15" fill="#828282"/>
<rect x="167.4" y="355.3" width="1.15" height="1.15" fill="#828282"/>
<rect x="164.8" y="355.3" width="1.15" height="1.15" fill="#828282"/>
<rect x="182.3" y="346.4" width="1.15" height="1.15" fill="#828282"/>
<rect x="162.0" y="355.4" width="1.15" height="1.15" fill="#828282"/>
<rect x="166.4" y="360.4" width="1.15" height="1.15" fill="#828282"/>
<rect x="187.5" y="358.4" width="1.15" height="1.15" fill="#828282"/>
<rect x="181.6" y="356.0" width="1.15" height="1.15" fill="#828282"/>
<rect x="187.9" y="356.3" width="1.15" height="1.15" fill="#828282"/>
<rect x="181.2" y="358.7" width="1.15" height="1.15" fill="#828282"/>
<rect x="161.4" y="359.8" width="1.15" height="1.15" fill="#828282"/>
<rect x="164.3" y="368.2" width="1.15" height="1.15" fill="#828282"/>
<rect x="171.3" y="355.5" width="1.15" height="1.15" fill="#828282"/>
<rect x="162.4" y="363.6" width="1.15" height="1.15" fill="#828282"/>
<rect x="161.3" y="367.1" width="1.15" height="1.15" fill="#828282"/>
<rect x="180.9" y="354.6" width="1.15" height="1.15" fill="#828282"/>
<rect x="166.7" y="357.9" width="1.15" height="1.15" fill="#828282"/>
<rect x="167.1" y="363.8" width="1.15" height="1.15" fill="#828282"/>
<rect x="173.2" y="360.5" width="1.15" height="1.15" fill="#828282"/>
<rect x="169.7" y="355.5" width="1.15" height="1.15" fill="#828282"/>
<rect x="187.8" y="352.2" width="1.15" height="1.15" fill="#828282"/>
<rect x="171.6" y="356.1" width="1.15" height="1.15" fill="#828282"/>
<rect x="178.5" y="359.3" width="1.15" height="1.15" fill="#828282"/>
<rect x="179.8" y="356.5" width="1.15" height="1.15" fill="#828282"/>
<rect x="184.5" y="345.9" width="1.15" height="1.15" fill="#828282"/>
<rect x="173.3" y="351.3" width="1.15" height="1.15" fill="#828282"/>
<rect x="171.3" y="359.5" width="1.15" height="1.15" fill="#828282"/>
<rect x="182.2" y="350.7" width="1.15" height="1.15" fill="#828282"/>
<rect x="166.3" y="356.4" width="1.15" height="1.15" fill="#828282"/>
<rect x="175.7" y="358.4" width="1.15" height="1.15" fill="#828282"/>
<rect x="164.9" y="359.4" width="1.15" height="1.15" fill="#828282"/>
<rect x="173.4" y="359.5" width="1.15" height="1.15" fill="#828282"/>
<rect x="168.9" y="343.8" width="1.15" height="1.15" fill="#828282"/>
<rect x="179.3" y="359.9" width="1.15" height="1.15" fill="#828282"/>
<rect x="184.5" y="355.2" width="1.15" height="1.15" fill="#828282"/>
<rect x="162.3" y="363.4" width="1.15" height="1.15" fill="#828282"/>
<rect x="179.7" y="352.6" width="1.15" height="1.15" fill="#828282"/>
<rect x="160.8" y="362.2" width="1.15" height="1.15" fill="#828282"/>
<rect x="165.4" y="358.0" width="1.15" height="1.15" fill="#828282"/>
<rect x="186.2" y="358.1" width="1.15" height="1.15" fill="#828282"/>
<rect x="180.3" y="354.4" width="1.15" height="1.15" fill="#828282"/>
<rect x="164.6" y="362.8" width="1.15" height="1.15" fill="#828282"/>
<rect x="186.5" y="348.5" width="1.15" height="1.15" fill="#828282"/>
<rect x="180.6" y="360.9" width="1.15" height="1.15" fill="#828282"/>
<rect x="185.7" y="357.7" width="1.15" height="1.15" fill="#828282"/>
<rect x="171.1" y="357.5" width="1.15" height="1.15" fill="#828282"/>
<rect x="162.6" y="362.0" width="1.15" height="1.15" fill="#828282"/>
<rect x="181.9" y="351.8" width="1.15" height="1.15" fill="#828282"/>
<rect x="174.8" y="360.5" width="1.15" height="1.15" fill="#828282"/>
<rect x="167.0" y="359.5" width="1.15" height="1.15" fill="#828282"/>
<rect x="161.4" y="362.8" width="1.15" height="1.15" fill="#828282"/>
<rect x="161.2" y="364.3" width="1.15" height="1.15" fill="#828282"/>
<rect x="169.0" y="352.4" width="1.15" height="1.15" fill="#828282"/>
<rect x="164.1" y="361.3" width="1.15" height="1.15" fill="#828282"/>
<rect x="180.1" y="354.5" width="1.15" height="1.15" fill="#828282"/>
<rect x="179.0" y="362.6" width="1.15" height="1.15" fill="#828282"/>
<rect x="164.4" y="359.6" width="1.15" height="1.15" fill="#828282"/>
<rect x="180.3" y="358.5" width="1.15" height="1.15" fill="#828282"/>
<rect x="171.6" y="349.9" width="1.15" height="1.15" fill="#828282"/>
<rect x="166.6" y="364.1" width="1.15" height="1.15" fill="#828282"/>
<rect x="168.5" y="355.8" width="1.15" height="1.15" fill="#828282"/>
<rect x="161.4" y="361.9" width="1.15" height="1.15" fill="#828282"/>
<rect x="161.0" y="355.3" width="1.15" height="1.15" fill="#828282"/>
<rect x="182.9" y="349.9" width="1.15" height="1.15" fill="#828282"/>
<rect x="187.6" y="351.2" width="1.15" height="1.15" fill="#828282"/>
<rect x="186.0" y="360.1" width="1.15" height="1.15" fill="#828282"/>
<rect x="166.4" y="355.6" width="1.15" height="1.15" fill="#828282"/>
<rect x="187.0" y="347.0" width="1.15" height="1.15" fill="#828282"/>
<rect x="184.6" y="354.5" width="1.15" height="1.15" fill="#828282"/>
<rect x="162.8" y="365.4" width="1.15" height="1.15" fill="#828282"/>
<rect x="172.3" y="355.5" width="1.15" height="1.15" fill="#828282"/>
<rect x="171.0" y="358.0" width="1.15" height="1.15" fill="#828282"/>
<rect x="169.5" y="353.7" width="1.15" height="1.15" fill="#828282"/>
<rect x="164.7" y="358.5" width="1.15" height="1.15" fill="#828282"/>
<rect x="171.6" y="354.2" width="1.15" height="1.15" fill="#828282"/>
<rect x="178.9" y="355.6" width="1.15" height="1.15" fill="#828282"/>
<rect x="167.0" y="361.5" width="1.15" height="1.15" fill="#828282"/>
<rect x="172.1" y="359.1" width="1.15" height="1.15" fill="#828282"/>
<rect x="164.5" y="352.3" width="1.15" height="1.15" fill="#828282"/>
<rect x="175.8" y="352.4" width="1.15" height="1.15" fill="#828282"/>
<rect x="179.9" y="359.5" width="1.15" height="1.15" fill="#828282"/>
<rect x="170.5" y="357.8" width="1.15" height="1.15" fill="#828282"/>
<rect x="162.1" y="357.8" width="1.15" height="1.15" fill="#828282"/>
<rect x="174.2" y="357.2" width="1.15" height="1.15" fill="#828282"/>
<rect x="176.7" y="351.7" width="1.15" height="1.15" fill="#828282"/>
<rect x="167.4" y="358.7" width="1.15" height="1.15" fill="#828282"/>
<rect x="161.0" y="353.8" width="1.15" height="1.15" fill="#828282"/>
<rect x="176.1" y="363.8" width="1.15" height="1.15" fill="#828282"/>
<rect x="167.6" y="356.4" width="1.15" height="1.15" fill="#828282"/>
<rect x="173.4" y="353.9" width="1.15" height="1.15" fill="#828282"/>
<rect x="177.5" y="359.7" width="1.15" height="1.15" fill="#828282"/>
<rect x="176.4" y="354.6" width="1.15" height="1.15" fill="#828282"/>
<rect x="186.7" y="354.3" width="1.15" height="1.15" fill="#828282"/>
<rect x="177.7" y="349.1" width="1.15" height="1.15" fill="#828282"/>
<rect x="171.8" y="353.7" width="1.15" height="1.15" fill="#828282"/>
<rect x="183.5" y="356.0" width="1.15" height="1.15" fill="#828282"/>
<rect x="184.9" y="346.4" width="1.15" height="1.15" fill="#828282"/>
<rect x="161.4" y="366.1" width="1.15" height="1.15" fill="#828282"/>
<rect x="164.1" y="354.7" width="1.15" height="1.15" fill="#828282"/>
<rect x="170.4" y="357.0" width="1.15" height="1.15" fill="#828282"/>
<rect x="187.7" y="355.0" width="1.15" height="1.15" fill="#828282"/>
<rect x="166.7" y="360.5" width="1.15" height="1.15" fill="#828282"/>
<rect x="179.3" y="355.1" width="1.15" height="1.15" fill="#828282"/>
<rect x="175.5" y="356.2" width="1.15" height="1.15" fill="#828282"/>
<rect x="171.3" y="357.3" width="1.15" height="1.15" fill="#828282"/>
<rect x="178.5" y="360.7" width="1.15" height="1.15" fill="#828282"/>
<rect x="175.6" y="351.8" width="1.15" height="1.15" fill="#828282"/>
<rect x="183.6" y="350.0" width="1.15" height="1.15" fill="#828282"/>
<rect x="187.4" y="351.1" width="1.15" height="1.15" fill="#828282"/>
<rect x="185.1" y="357.5" width="1.15" height="1.15" fill="#828282"/>
<rect x="169.1" y="356.0" width="1.15" height="1.15" fill="#828282"/>
<rect x="179.5" y="348.1" width="1.15" height="1.15" fill="#828282"/>
<rect x="187.3" y="354.5" width="1.15" height="1.15" fill="#828282"/>
<rect x="177.7" y="353.1" width="1.15" height="1.15" fill="#828282"/>
<rect x="174.0" y="352.3" width="1.15" height="1.15" fill="#828282"/>
<rect x="168.3" y="355.9" width="1.15" height="1.15" fill="#828282"/>
<rect x="181.3" y="351.4" width="1.15" height="1.15" fill="#828282"/>
<rect x="167.3" y="357.2" width="1.15" height="1.15" fill="#828282"/>
<rect x="169.4" y="359.8" width="1.15" height="1.15" fill="#828282"/>
<rect x="163.8" y="363.7" width="1.15" height="1.15" fill="#828282"/>
<rect x="162.1" y="361.0" width="1.15" height="1.15" fill="#828282"/>
<rect x="180.0" y="355.9" width="1.15" height="1.15" fill="#828282"/>
<rect x="163.5" y="351.2" width="1.15" height="1.15" fill="#828282"/>
<rect x="173.8" y="358.8" width="1.15" height="1.15" fill="#828282"/>
<rect x="164.9" y="364.7" width="1.15" height="1.15" fill="#828282"/>
<rect x="161.8" y="352.2" width="1.15" height="1.15" fill="#828282"/>
<rect x="167.4" y="349.7" width="1.15" height="1.15" fill="#828282"/>
<rect x="171.3" y="356.6" width="1.15" height="1.15" fill="#828282"/>
<rect x="180.3" y="354.8" width="1.15" height="1.15" fill="#828282"/>
<rect x="169.5" y="364.7" width="1.15" height="1.15" fill="#828282"/>
<rect x="169.6" y="357.9" width="1.15" height="1.15" fill="#828282"/>
<rect x="183.5" y="345.3" width="1.15" height="1.15" fill="#828282"/>
<rect x="176.2" y="349.5" width="1.15" height="1.15" fill="#828282"/>
<rect x="177.7" y="358.9" width="1.15" height="1.15" fill="#828282"/>
<rect x="183.6" y="354.9" width="1.15" height="1.15" fill="#828282"/>
<rect x="170.9" y="354.8" width="1.15" height="1.15" fill="#828282"/>
<rect x="179.0" y="355.5" width="1.15" height="1.15" fill="#828282"/>
<rect x="160.7" y="362.3" width="1.15" height="1.15" fill="#828282"/>
<rect x="176.7" y="367.1" width="1.15" height="1.15" fill="#828282"/>
<rect x="164.0" y="354.2" width="1.15" height="1.15" fill="#828282"/>
<rect x="179.6" y="349.4" width="1.15" height="1.15" fill="#828282"/>
<rect x="171.4" y="360.1" width="1.15" height="1.15" fill="#828282"/>
<rect x="186.4" y="354.9" width="1.15" height="1.15" fill="#828282"/>
<rect x="180.3" y="354.8" width="1.15" height="1.15" fill="#828282"/>
<rect x="163.6" y="362.4" width="1.15" height="1.15" fill="#828282"/>
<rect x="180.8" y="355.8" width="1.15" height="1.15" fill="#828282"/>
<rect x="188.1" y="356.1" width="1.15" height="1.15" fill="#828282"/>
<rect x="161.0" y="362.2" width="1.15" height="1.15" fill="#828282"/>
<rect x="175.5" y="351.6" width="1.15" height="1.15" fill="#828282"/>
<rect x="169.0" y="358.0" width="1.15" height="1.15" fill="#828282"/>
<rect x="182.7" y="356.3" width="1.15" height="1.15" fill="#828282"/>
<rect x="171.3" y="353.8" width="1.15" height="1.15" fill="#828282"/>
<rect x="177.6" y="356.8" width="1.15" height="1.15" fill="#828282"/>
<rect x="171.2" y="344.1" width="1.15" height="1.15" fill="#828282"/>
<rect x="179.7" y="347.1" width="1.15" height="1.15" fill="#828282"/>
<rect x="164.4" y="356.2" width="1.15" height="1.15" fill="#828282"/>
<rect x="165.2" y="366.7" width="1.15" height="1.15" fill="#828282"/>
<rect x="167.3" y="364.6" width="1.15" height="1.15" fill="#828282"/>
<rect x="174.0" y="359.3" width="1.15" height="1.15" fill="#828282"/>
<rect x="160.8" y="362.2" width="1.15" height="1.15" fill="#828282"/>
<rect x="176.1" y="359.8" width="1.15" height="1.15" fill="#828282"/>
<rect x="168.0" y="362.8" width="1.15" height="1.15" fill="#828282"/>
<rect x="166.7" y="353.7" width="1.15" height="1.15" fill="#828282"/>
<rect x="167.6" y="358.3" width="1.15" height="1.15" fill="#828282"/>
<rect x="161.7" y="368.1" width="1.15" height="1.15" fill="#828282"/>
<rect x="169.0" y="361.3" width="1.15" height="1.15" fill="#828282"/>
<rect x="162.5" y="361.2" width="1.15" height="1.15" fill="#828282"/>
<rect x="188.2" y="357.9" width="1.15" height="1.15" fill="#828282"/>
<rect x="166.0" y="361.8" width="1.15" height="1.15" fill="#828282"/>
<rect x="171.9" y="352.9" width="1.15" height="1.15" fill="#828282"/>
<rect x="182.9" y="353.0" width="1.15" height="1.15" fill="#828282"/>
<rect x="175.7" y="356.9" width="1.15" height="1.15" fill="#828282"/>
<rect x="178.7" y="352.6" width="1.15" height="1.15" fill="#828282"/>
<rect x="186.6" y="350.9" width="1.15" height="1.15" fill="#828282"/>
<rect x="184.5" y="358.9" width="1.15" height="1.15" fill="#828282"/>
<rect x="183.6" y="354.0" width="1.15" height="1.15" fill="#828282"/>
<rect x="180.6" y="355.3" width="1.15" height="1.15" fill="#828282"/>
<rect x="165.0" y="359.4" width="1.15" height="1.15" fill="#828282"/>
<rect x="163.6" y="362.6" width="1.15" height="1.15" fill="#828282"/>
<rect x="181.4" y="356.6" width="1.15" height="1.15" fill="#828282"/>
<rect x="169.0" y="356.8" width="1.15" height="1.15" fill="#828282"/>
<rect x="166.2" y="358.1" width="1.15" height="1.15" fill="#828282"/>
<rect x="187.2" y="358.9" width="1.15" height="1.15" fill="#828282"/>
<rect x="183.0" y="354.7" width="1.15" height="1.15" fill="#828282"/>
<rect x="182.5" y="354.0" width="1.15" height="1.15" fill="#828282"/>
<rect x="182.8" y="349.7" width="1.15" height="1.15" fill="#828282"/>
<rect x="183.5" y="355.7" width="1.15" height="1.15" fill="#828282"/>
<rect x="163.1" y="345.5" width="1.15" height="1.15" fill="#828282"/>
<rect x="186.9" y="347.5" width="1.15" height="1.15" fill="#828282"/>
<rect x="167.3" y="362.0" width="1.15" height="1.15" fill="#828282"/>
<rect x="185.8" y="359.6" width="1.15" height="1.15" fill="#828282"/>
<rect x="166.7" y="358.9" width="1.15" height="1.15" fill="#828282"/>
<rect x="171.2" y="352.4" width="1.15" height="1.15" fill="#828282"/>
<rect x="183.0" y="359.2" width="1.15" height="1.15" fill="#828282"/>
<rect x="170.5" y="354.4" width="1.15" height="1.15" fill="#828282"/>
<rect x="168.1" y="354.4" width="1.15" height="1.15" fill="#828282"/>
<rect x="185.6" y="352.8" width="1.15" height="1.15" fill="#828282"/>
<rect x="169.7" y="359.2" width="1.15" height="1.15" fill="#828282"/>
<rect x="181.1" y="356.5" width="1.15" height="1.15" fill="#828282"/>
<rect x="175.6" y="363.3" width="1.15" height="1.15" fill="#828282"/>
<rect x="179.3" y="356.1" width="1.15" height="1.15" fill="#828282"/>
<rect x="164.3" y="360.5" width="1.15" height="1.15" fill="#828282"/>
<rect x="170.1" y="356.7" width="1.15" height="1.15" fill="#828282"/>
<rect x="174.4" y="356.5" width="1.15" height="1.15" fill="#828282"/>
<rect x="171.6" y="354.4" width="1.15" height="1.15" fill="#828282"/>
<rect x="187.0" y="358.5" width="1.15" height="1.15" fill="#828282"/>
<rect x="166.0" y="361.1" width="1.15" height="1.15" fill="#828282"/>
<rect x="181.4" y="351.9" width="1.15" height="1.15" fill="#828282"/>
<rect x="163.3" y="363.7" width="1.15" height="1.15" fill="#828282"/>
<rect x="187.3" y="352.9" width="1.15" height="1.15" fill="#828282"/>
<rect x="166.4" y="352.1" width="1.15" height="1.15" fill="#828282"/>
<rect x="165.3" y="362.3" width="1.15" height="1.15" fill="#828282"/>
<rect x="168.0" y="352.8" width="1.15" height="1.15" fill="#828282"/>
<rect x="169.3" y="347.4" width="1.15" height="1.15" fill="#828282"/>
<rect x="165.4" y="349.7" width="1.15" height="1.15" fill="#828282"/>
<rect x="164.4" y="369.4" width="1.15" height="1.15" fill="#828282"/>
<rect x="178.1" y="350.6" width="1.15" height="1.15" fill="#828282"/>
<rect x="166.2" y="362.7" width="1.15" height="1.15" fill="#828282"/>
<rect x="177.6" y="362.4" width="1.15" height="1.15" fill="#828282"/>
<rect x="177.9" y="349.6" width="1.15" height="1.15" fill="#828282"/>
<rect x="174.4" y="354.2" width="1.15" height="1.15" fill="#828282"/>
<rect x="183.7" y="353.2" width="1.15" height="1.15" fill="#828282"/>
<rect x="179.6" y="348.5" width="1.15" height="1.15" fill="#828282"/>
<rect x="172.0" y="358.8" width="1.15" height="1.15" fill="#828282"/>
<rect x="171.1" y="357.8" width="1.15" height="1.15" fill="#828282"/>
<rect x="176.3" y="362.0" width="1.15" height="1.15" fill="#828282"/>
<rect x="174.7" y="362.5" width="1.15" height="1.15" fill="#828282"/>
<rect x="172.8" y="357.9" width="1.15" height="1.15" fill="#828282"/>
<rect x="176.9" y="346.9" width="1.15" height="1.15" fill="#828282"/>
<rect x="164.6" y="352.6" width="1.15" height="1.15" fill="#828282"/>
<rect x="173.4" y="364.0" width="1.15" height="1.15" fill="#828282"/>
<rect x="169.1" y="357.1" width="1.15" height="1.15" fill="#828282"/>
<rect x="180.9" y="359.4" width="1.15" height="1.15" fill="#828282"/>
<rect x="184.6" y="353.6" width="1.15" height="1.15" fill="#828282"/>
<rect x="163.8" y="364.0" width="1.15" height="1.15" fill="#828282"/>
<rect x="166.9" y="357.7" width="1.15" height="1.15" fill="#828282"/>
<rect x="183.8" y="347.7" width="1.15" height="1.15" fill="#828282"/>
<rect x="183.5" y="345.4" width="1.15" height="1.15" fill="#828282"/>
<rect x="182.6" y="339.8" width="1.15" height="1.15" fill="#828282"/>
<rect x="162.1" y="358.0" width="1.15" height="1.15" fill="#828282"/>
<rect x="184.7" y="353.1" width="1.15" height="1.15" fill="#828282"/>
<rect x="182.9" y="350.9" width="1.15" height="1.15" fill="#828282"/>
<rect x="173.0" y="347.6" width="1.15" height="1.15" fill="#828282"/>
<rect x="165.8" y="356.2" width="1.15" height="1.15" fill="#828282"/>
<rect x="168.1" y="356.6" width="1.15" height="1.15" fill="#828282"/>
<rect x="175.8" y="354.5" width="1.15" height="1.15" fill="#828282"/>
<rect x="182.3" y="351.0" width="1.15" height="1.15" fill="#828282"/>
<rect x="182.7" y="354.5" width="1.15" height="1.15" fill="#828282"/>
<rect x="184.2" y="354.8" width="1.15" height="1.15" fill="#828282"/>
<rect x="185.7" y="347.9" width="1.15" height="1.15" fill="#828282"/>
<rect x="182.6" y="356.9" width="1.15" height="1.15" fill="#828282"/>
<rect x="163.1" y="362.4" width="1.15" height="1.15" fill="#828282"/>
<rect x="161.3" y="354.1" width="1.15" height="1.15" fill="#828282"/>
<rect x="183.6" y="361.7" width="1.15" height="1.15" fill="#828282"/>
<rect x="163.6" y="360.6" width="1.15" height="1.15" fill="#828282"/>
<rect x="184.1" y="358.2" width="1.15" height="1.15" fill="#828282"/>
<rect x="177.6" y="357.0" width="1.15" height="1.15" fill="#828282"/>
<rect x="188.0" y="352.1" width="1.15" height="1.15" fill="#828282"/>
<rect x="166.1" y="351.7" width="1.15" height="1.15" fill="#828282"/>
<rect x="180.7" y="348.0" width="1.15" height="1.15" fill="#828282"/>
<rect x="165.8" y="355.8" width="1.15" height="1.15" fill="#828282"/>
<rect x="160.7" y="355.1" width="1.15" height="1.15" fill="#828282"/>
<rect x="169.8" y="354.7" width="1.15" height="1.15" fill="#828282"/>
<rect x="168.1" y="363.7" width="1.15" height="1.15" fill="#828282"/>
<rect x="177.2" y="354.6" width="1.15" height="1.15" fill="#828282"/>
<rect x="163.9" y="355.9" width="1.15" height="1.15" fill="#828282"/>
<rect x="179.7" y="352.7" width="1.15" height="1.15" fill="#828282"/>
<rect x="163.5" y="359.3" width="1.15" height="1.15" fill="#828282"/>
<rect x="186.6" y="350.1" width="1.15" height="1.15" fill="#828282"/>
<rect x="165.8" y="355.5" width="1.15" height="1.15" fill="#828282"/>
<rect x="188.2" y="350.4" width="1.15" height="1.15" fill="#828282"/>
<rect x="170.4" y="350.2" width="1.15" height="1.15" fill="#828282"/>
<rect x="169.0" y="355.3" width="1.15" height="1.15" fill="#828282"/>
<rect x="178.0" y="356.8" width="1.15" height="1.15" fill="#828282"/>
<rect x="172.2" y="358.8" width="1.15" height="1.15" fill="#828282"/>
<rect x="173.1" y="352.3" width="1.15" height="1.15" fill="#828282"/>
<rect x="174.5" y="360.2" width="1.15" height="1.15" fill="#828282"/>
<rect x="180.0" y="353.4" width="1.15" height="1.15" fill="#828282"/>
<rect x="166.9" y="354.7" width="1.15" height="1.15" fill="#828282"/>
<rect x="184.7" y="352.1" width="1.15" height="1.15" fill="#828282"/>
<rect x="168.3" y="361.9" width="1.15" height="1.15" fill="#828282"/>
<rect x="173.0" y="351.1" width="1.15" height="1.15" fill="#828282"/>
<rect x="186.4" y="347.7" width="1.15" height="1.15" fill="#828282"/>
<rect x="177.1" y="360.5" width="1.15" height="1.15" fill="#828282"/>
<rect x="172.9" y="361.0" width="1.15" height="1.15" fill="#828282"/>
<rect x="168.2" y="359.6" width="1.15" height="1.15" fill="#828282"/>
<rect x="172.6" y="360.3" width="1.15" height="1.15" fill="#828282"/>
<rect x="179.8" y="353.9" width="1.15" height="1.15" fill="#828282"/>
<rect x="179.1" y="355.3" width="1.15" height="1.15" fill="#828282"/>
<rect x="164.0" y="363.4" width="1.15" height="1.15" fill="#828282"/>
<rect x="185.4" y="353.7" width="1.15" height="1.15" fill="#828282"/>
<rect x="169.9" y="362.1" width="1.15" height="1.15" fill="#828282"/>
<rect x="183.3" y="357.8" width="1.15" height="1.15" fill="#828282"/>
<rect x="175.6" y="351.0" width="1.15" height="1.15" fill="#828282"/>
<rect x="163.1" y="360.4" width="1.15" height="1.15" fill="#828282"/>
<rect x="170.5" y="356.0" width="1.15" height="1.15" fill="#828282"/>
<rect x="170.8" y="355.9" width="1.15" height="1.15" fill="#828282"/>
<rect x="169.9" y="350.5" width="1.15" height="1.15" fill="#828282"/>
<rect x="185.4" y="354.7" width="1.15" height="1.15" fill="#828282"/>
<rect x="178.0" y="355.1" width="1.15" height="1.15" fill="#828282"/>
<rect x="173.4" y="353.2" width="1.15" height="1.15" fill="#828282"/>
<rect x="169.1" y="361.4" width="1.15" height="1.15" fill="#828282"/>
<rect x="179.1" y="345.6" width="1.15" height="1.15" fill="#828282"/>
<rect x="187.6" y="345.7" width="1.15" height="1.15" fill="#828282"/>
<rect x="188.1" y="346.3" width="1.15" height="1.15" fill="#828282"/>
<rect x="178.5" y="360.6" width="1.15" height="1.15" fill="#828282"/>
<rect x="179.9" y="356.7" width="1.15" height="1.15" fill="#828282"/>
<rect x="173.2" y="356.5" width="1.15" height="1.15" fill="#828282"/>
<rect x="171.5" y="355.1" width="1.15" height="1.15" fill="#828282"/>
<rect x="188.0" y="350.4" width="1.15" height="1.15" fill="#828282"/>
<rect x="166.2" y="356.4" width="1.15" height="1.15" fill="#828282"/>
<rect x="171.4" y="358.8" width="1.15" height="1.15" fill="#828282"/>
<rect x="181.1" y="357.1" width="1.15" height="1.15" fill="#828282"/>
<rect x="178.5" y="356.7" width="1.15" height="1.15" fill="#828282"/>
<rect x="177.7" y="355.3" width="1.15" height="1.15" fill="#828282"/>
<rect x="183.0" y="350.8" width="1.15" height="1.15" fill="#828282"/>
<rect x="180.8" y="355.2" width="1.15" height="1.15" fill="#828282"/>
<rect x="173.4" y="354.2" width="1.15" height="1.15" fill="#828282"/>
<rect x="160.7" y="366.4" width="1.15" height="1.15" fill="#828282"/>
<rect x="185.4" y="345.2" width="1.15" height="1.15" fill="#828282"/>
<rect x="161.0" y="356.0" width="1.15" height="1.15" fill="#828282"/>
<rect x="175.2" y="360.7" width="1.15" height="1.15" fill="#828282"/>
<rect x="163.4" y="359.7" width="1.15" height="1.15" fill="#828282"/>
<rect x="174.5" y="352.5" width="1.15" height="1.15" fill="#828282"/>
<rect x="163.8" y="356.5" width="1.15" height="1.15" fill="#828282"/>
<rect x="162.8" y="357.9" width="1.15" height="1.15" fill="#828282"/>
<rect x="174.6" y="354.0" width="1.15" height="1.15" fill="#828282"/>
<rect x="167.2" y="365.6" width="1.15" height="1.15" fill="#828282"/>
<rect x="171.9" y="359.9" width="1.15" height="1.15" fill="#828282"/>
<rect x="172.9" y="357.7" width="1.15" height="1.15" fill="#828282"/>
<rect x="175.9" y="347.2" width="1.15" height="1.15" fill="#828282"/>
<rect x="163.2" y="361.1" width="1.15" height="1.15" fill="#828282"/>
<rect x="184.1" y="360.9" width="1.15" height="1.15" fill="#828282"/>
<rect x="175.0" y="366.2" width="1.15" height="1.15" fill="#828282"/>
<rect x="171.7" y="349.9" width="1.15" height="1.15" fill="#828282"/>
<rect x="187.3" y="347.3" width="1.15" height="1.15" fill="#828282"/>
<rect x="171.9" y="359.5" width="1.15" height="1.15" fill="#828282"/>
<rect x="183.2" y="354.4" width="1.15" height="1.15" fill="#828282"/>
<rect x="180.9" y="354.1" width="1.15" height="1.15" fill="#828282"/>
<rect x="175.2" y="353.5" width="1.15" height="1.15" fill="#828282"/>
<rect x="161.1" y="362.3" width="1.15" height="1.15" fill="#828282"/>
<rect x="187.4" y="355.8" width="1.15" height="1.15" fill="#828282"/>
<rect x="178.3" y="356.2" width="1.15" height="1.15" fill="#828282"/>
<rect x="172.0" y="355.7" width="1.15" height="1.15" fill="#828282"/>
<rect x="162.5" y="358.8" width="1.15" height="1.15" fill="#828282"/>
<rect x="186.0" y="355.8" width="1.15" height="1.15" fill="#828282"/>
<rect x="169.5" y="350.7" width="1.15" height="1.15" fill="#828282"/>
<rect x="199.6" y="352.5" width="1.15" height="1.15" fill="#828282"/>
<rect x="200.3" y="346.0" width="1.15" height="1.15" fill="#828282"/>
<rect x="199.8" y="349.3" width="1.15" height="1.15" fill="#828282"/>
<rect x="193.6" y="349.5" width="1.15" height="1.15" fill="#828282"/>
<rect x="192.0" y="360.9" width="1.15" height="1.15" fill="#828282"/>
<rect x="193.3" y="346.6" width="1.15" height="1.15" fill="#828282"/>
<rect x="193.2" y="355.0" width="1.15" height="1.15" fill="#828282"/>
<rect x="194.1" y="350.6" width="1.15" height="1.15" fill="#828282"/>
<rect x="199.0" y="352.5" width="1.15" height="1.15" fill="#828282"/>
<rect x="189.6" y="345.6" width="1.15" height="1.15" fill="#828282"/>
<rect x="193.7" y="351.0" width="1.15" height="1.15" fill="#828282"/>
<rect x="191.5" y="356.7" width="1.15" height="1.15" fill="#828282"/>
<rect x="192.6" y="355.4" width="1.15" height="1.15" fill="#828282"/>
<rect x="194.7" y="353.3" width="1.15" height="1.15" fill="#828282"/>
<rect x="194.7" y="361.3" width="1.15" height="1.15" fill="#828282"/>
<rect x="188.9" y="340.6" width="1.15" height="1.15" fill="#828282"/>
<rect x="188.9" y="360.4" width="1.15" height="1.15" fill="#828282"/>
<rect x="196.0" y="357.2" width="1.15" height="1.15" fill="#828282"/>
<rect x="196.1" y="350.9" width="1.15" height="1.15" fill="#828282"/>
<rect x="193.3" y="349.9" width="1.15" height="1.15" fill="#828282"/>
<rect x="196.0" y="359.3" width="1.15" height="1.15" fill="#828282"/>
<rect x="192.6" y="345.7" width="1.15" height="1.15" fill="#828282"/>
<rect x="198.0" y="352.1" width="1.15" height="1.15" fill="#828282"/>
<rect x="189.4" y="356.0" width="1.15" height="1.15" fill="#828282"/>
<rect x="192.1" y="354.6" width="1.15" height="1.15" fill="#828282"/>
<rect x="198.5" y="342.3" width="1.15" height="1.15" fill="#828282"/>
<rect x="193.7" y="357.2" width="1.15" height="1.15" fill="#828282"/>
<rect x="192.3" y="351.3" width="1.15" height="1.15" fill="#828282"/>
<rect x="200.8" y="349.8" width="1.15" height="1.15" fill="#828282"/>
<rect x="198.9" y="349.7" width="1.15" height="1.15" fill="#828282"/>
<rect x="198.8" y="356.2" width="1.15" height="1.15" fill="#828282"/>
<rect x="198.4" y="350.8" width="1.15" height="1.15" fill="#828282"/>
<rect x="198.1" y="350.6" width="1.15" height="1.15" fill="#828282"/>
<rect x="189.4" y="347.5" width="1.15" height="1.15" fill="#828282"/>
<rect x="200.1" y="347.0" width="1.15" height="1.15" fill="#828282"/>
<rect x="196.6" y="364.8" width="1.15" height="1.15" fill="#828282"/>
<rect x="198.0" y="353.8" width="1.15" height="1.15" fill="#828282"/>
<rect x="195.9" y="361.1" width="1.15" height="1.15" fill="#828282"/>
<rect x="193.9" y="352.6" width="1.15" height="1.15" fill="#828282"/>
<rect x="197.1" y="364.3" width="1.15" height="1.15" fill="#828282"/>
<rect x="189.7" y="351.2" width="1.15" height="1.15" fill="#828282"/>
<rect x="198.3" y="343.5" width="1.15" height="1.15" fill="#828282"/>
<rect x="193.4" y="355.6" width="1.15" height="1.15" fill="#828282"/>
<rect x="194.3" y="349.7" width="1.15" height="1.15" fill="#828282"/>
<rect x="192.7" y="353.4" width="1.15" height="1.15" fill="#828282"/>
<rect x="179.4" y="370.8" width="1.15" height="1.15" fill="#828282"/>
<rect x="181.9" y="370.1" width="1.15" height="1.15" fill="#828282"/>
<rect x="177.7" y="368.1" width="1.15" height="1.15" fill="#828282"/>
<rect x="164.0" y="369.1" width="1.15" height="1.15" fill="#828282"/>
<rect x="168.8" y="373.2" width="1.15" height="1.15" fill="#828282"/>
<rect x="184.1" y="368.4" width="1.15" height="1.15" fill="#828282"/>
<rect x="166.3" y="366.3" width="1.15" height="1.15" fill="#828282"/>
<rect x="182.0" y="371.4" width="1.15" height="1.15" fill="#828282"/>
<rect x="164.1" y="371.9" width="1.15" height="1.15" fill="#828282"/>
<rect x="161.8" y="367.1" width="1.15" height="1.15" fill="#828282"/>
<rect x="171.8" y="366.3" width="1.15" height="1.15" fill="#828282"/>
<rect x="184.2" y="372.6" width="1.15" height="1.15" fill="#828282"/>
<rect x="173.3" y="368.4" width="1.15" height="1.15" fill="#828282"/>
<rect x="180.5" y="366.7" width="1.15" height="1.15" fill="#828282"/>
<rect x="163.6" y="369.4" width="1.15" height="1.15" fill="#828282"/>
<rect x="175.6" y="367.7" width="1.15" height="1.15" fill="#828282"/>
<rect x="166.1" y="368.5" width="1.15" height="1.15" fill="#828282"/>
<rect x="169.7" y="371.0" width="1.15" height="1.15" fill="#828282"/>
<rect x="175.8" y="366.5" width="1.15" height="1.15" fill="#828282"/>
<rect x="175.4" y="369.1" width="1.15" height="1.15" fill="#828282"/>
<rect x="182.1" y="367.0" width="1.15" height="1.15" fill="#828282"/>
<rect x="173.0" y="372.6" width="1.15" height="1.15" fill="#828282"/>
<rect x="214.0" y="353.0" width="1" height="1" fill="#828282"/>
<rect x="215.0" y="356.0" width="1" height="1" fill="#828282"/>
<rect x="225.0" y="362.0" width="1" height="1" fill="#828282"/>
<rect x="228.0" y="361.0" width="1" height="1" fill="#828282"/>
<rect x="163.0" y="372.0" width="1" height="1" fill="#828282"/>
<rect x="170.0" y="372.0" width="1" height="1" fill="#828282"/>
<rect x="188.0" y="378.0" width="1" height="1" fill="#828282"/>
<rect x="188.0" y="383.0" width="1" height="1" fill="#828282"/>
<rect x="183.0" y="388.0" width="1" height="1" fill="#828282"/>
<rect x="176.0" y="393.0" width="1" height="1" fill="#828282"/>
<rect x="190.0" y="385.0" width="1" height="1" fill="#828282"/>
<rect x="195.0" y="380.0" width="1" height="1" fill="#828282"/>
<rect x="205.0" y="352.0" width="1" height="1" fill="#828282"/>
<rect x="200.0" y="357.0" width="1" height="1" fill="#828282"/>
<rect x="190.0" y="371.0" width="1" height="1" fill="#828282"/>
<rect x="192.0" y="375.0" width="1" height="1" fill="#828282"/>
<rect x="186.0" y="374.0" width="1" height="1" fill="#828282"/>
<rect x="191.0" y="390.0" width="1" height="1" fill="#828282"/>
<rect x="189.0" y="395.0" width="1" height="1" fill="#828282"/>
<line x1="157.70" y1="412.20" x2="159.50" y2="412.20" stroke="#444" stroke-width="0.7"/>
<line x1="159.50" y1="412.20" x2="159.50" y2="414.00" stroke="#444" stroke-width="0.7"/>
<line x1="158.50" y1="404.98" x2="159.50" y2="404.98" stroke="#444" stroke-width="0.7"/>
<line x1="166.76" y1="412.20" x2="166.76" y2="413.20" stroke="#444" stroke-width="0.7"/>
<line x1="158.50" y1="400.75" x2="159.50" y2="400.75" stroke="#444" stroke-width="0.7"/>
<line x1="171.01" y1="412.20" x2="171.01" y2="413.20" stroke="#444" stroke-width="0.7"/>
<line x1="158.50" y1="397.75" x2="159.50" y2="397.75" stroke="#444" stroke-width="0.7"/>
<line x1="174.02" y1="412.20" x2="174.02" y2="413.20" stroke="#444" stroke-width="0.7"/>
<line x1="158.50" y1="395.42" x2="159.50" y2="395.42" stroke="#444" stroke-width="0.7"/>
<line x1="176.36" y1="412.20" x2="176.36" y2="413.20" stroke="#444" stroke-width="0.7"/>
<line x1="158.50" y1="393.52" x2="159.50" y2="393.52" stroke="#444" stroke-width="0.7"/>
<line x1="178.27" y1="412.20" x2="178.27" y2="413.20" stroke="#444" stroke-width="0.7"/>
<line x1="158.50" y1="391.92" x2="159.50" y2="391.92" stroke="#444" stroke-width="0.7"/>
<line x1="179.89" y1="412.20" x2="179.89" y2="413.20" stroke="#444" stroke-width="0.7"/>
<line x1="158.50" y1="390.53" x2="159.50" y2="390.53" stroke="#444" stroke-width="0.7"/>
<line x1="181.29" y1="412.20" x2="181.29" y2="413.20" stroke="#444" stroke-width="0.7"/>
<line x1="158.50" y1="389.30" x2="159.50" y2="389.30" stroke="#444" stroke-width="0.7"/>
<line x1="182.52" y1="412.20" x2="182.52" y2="413.20" stroke="#444" stroke-width="0.7"/>
<line x1="157.70" y1="388.20" x2="159.50" y2="388.20" stroke="#444" stroke-width="0.7"/>
<line x1="183.62" y1="412.20" x2="183.62" y2="414.00" stroke="#444" stroke-width="0.7"/>
<line x1="158.50" y1="380.98" x2="159.50" y2="380.98" stroke="#444" stroke-width="0.7"/>
<line x1="190.89" y1="412.20" x2="190.89" y2="413.20" stroke="#444" stroke-width="0.7"/>
<line x1="158.50" y1="376.75" x2="159.50" y2="376.75" stroke="#444" stroke-width="0.7"/>
<line x1="195.14" y1="412.20" x2="195.14" y2="413.20" stroke="#444" stroke-width="0.7"/>
<line x1="158.50" y1="373.75" x2="159.50" y2="373.75" stroke="#444" stroke-width="0.7"/>
<line x1="198.15" y1="412.20" x2="198.15" y2="413.20" stroke="#444" stroke-width="0.7"/>
<line x1="158.50" y1="371.42" x2="159.50" y2="371.42" stroke="#444" stroke-width="0.7"/>
<line x1="200.49" y1="412.20" x2="200.49" y2="413.20" stroke="#444" stroke-width="0.7"/>
<line x1="158.50" y1="369.52" x2="159.50" y2="369.52" stroke="#444" stroke-width="0.7"/>
<line x1="202.40" y1="412.20" x2="202.40" y2="413.20" stroke="#444" stroke-width="0.7"/>
<line x1="158.50" y1="367.92" x2="159.50" y2="367.92" stroke="#444" stroke-width="0.7"/>
<line x1="204.01" y1="412.20" x2="204.01" y2="413.20" stroke="#444" stroke-width="0.7"/>
<line x1="158.50" y1="366.53" x2="159.50" y2="366.53" stroke="#444" stroke-width="0.7"/>
<line x1="205.41" y1="412.20" x2="205.41" y2="413.20" stroke="#444" stroke-width="0.7"/>
<line x1="158.50" y1="365.30" x2="159.50" y2="365.30" stroke="#444" stroke-width="0.7"/>
<line x1="206.65" y1="412.20" x2="206.65" y2="413.20" stroke="#444" stroke-width="0.7"/>
<line x1="157.70" y1="364.20" x2="159.50" y2="364.20" stroke="#444" stroke-width="0.7"/>
<line x1="207.75" y1="412.20" x2="207.75" y2="414.00" stroke="#444" stroke-width="0.7"/>
<line x1="158.50" y1="356.98" x2="159.50" y2="356.98" stroke="#444" stroke-width="0.7"/>
<line x1="215.01" y1="412.20" x2="215.01" y2="413.20" stroke="#444" stroke-width="0.7"/>
<line x1="158.50" y1="352.75" x2="159.50" y2="352.75" stroke="#444" stroke-width="0.7"/>
<line x1="219.26" y1="412.20" x2="219.26" y2="413.20" stroke="#444" stroke-width="0.7"/>
<line x1="158.50" y1="349.75" x2="159.50" y2="349.75" stroke="#444" stroke-width="0.7"/>
<line x1="222.27" y1="412.20" x2="222.27" y2="413.20" stroke="#444" stroke-width="0.7"/>
<line x1="158.50" y1="347.42" x2="159.50" y2="347.42" stroke="#444" stroke-width="0.7"/>
<line x1="224.61" y1="412.20" x2="224.61" y2="413.20" stroke="#444" stroke-width="0.7"/>
<line x1="158.50" y1="345.52" x2="159.50" y2="345.52" stroke="#444" stroke-width="0.7"/>
<line x1="226.52" y1="412.20" x2="226.52" y2="413.20" stroke="#444" stroke-width="0.7"/>
<line x1="158.50" y1="343.92" x2="159.50" y2="343.92" stroke="#444" stroke-width="0.7"/>
<line x1="228.14" y1="412.20" x2="228.14" y2="413.20" stroke="#444" stroke-width="0.7"/>
<line x1="158.50" y1="342.53" x2="159.50" y2="342.53" stroke="#444" stroke-width="0.7"/>
<line x1="229.54" y1="412.20" x2="229.54" y2="413.20" stroke="#444" stroke-width="0.7"/>
<line x1="158.50" y1="341.30" x2="159.50" y2="341.30" stroke="#444" stroke-width="0.7"/>
<line x1="230.77" y1="412.20" x2="230.77" y2="413.20" stroke="#444" stroke-width="0.7"/>
<line x1="157.70" y1="340.20" x2="159.50" y2="340.20" stroke="#444" stroke-width="0.7"/>
<line x1="231.88" y1="412.20" x2="231.88" y2="414.00" stroke="#444" stroke-width="0.7"/>
<line x1="158.50" y1="332.98" x2="159.50" y2="332.98" stroke="#444" stroke-width="0.7"/>
<line x1="239.14" y1="412.20" x2="239.14" y2="413.20" stroke="#444" stroke-width="0.7"/>
<line x1="158.50" y1="328.75" x2="159.50" y2="328.75" stroke="#444" stroke-width="0.7"/>
<line x1="243.39" y1="412.20" x2="243.39" y2="413.20" stroke="#444" stroke-width="0.7"/>
<line x1="158.50" y1="325.75" x2="159.50" y2="325.75" stroke="#444" stroke-width="0.7"/>
<line x1="246.40" y1="412.20" x2="246.40" y2="413.20" stroke="#444" stroke-width="0.7"/>
<line x1="158.50" y1="323.42" x2="159.50" y2="323.42" stroke="#444" stroke-width="0.7"/>
<line x1="248.74" y1="412.20" x2="248.74" y2="413.20" stroke="#444" stroke-width="0.7"/>
<line x1="158.50" y1="321.52" x2="159.50" y2="321.52" stroke="#444" stroke-width="0.7"/>
<line x1="250.65" y1="412.20" x2="250.65" y2="413.20" stroke="#444" stroke-width="0.7"/>
<line x1="158.50" y1="319.92" x2="159.50" y2="319.92" stroke="#444" stroke-width="0.7"/>
<line x1="252.26" y1="412.20" x2="252.26" y2="413.20" stroke="#444" stroke-width="0.7"/>
<line x1="158.50" y1="318.53" x2="159.50" y2="318.53" stroke="#444" stroke-width="0.7"/>
<line x1="253.66" y1="412.20" x2="253.66" y2="413.20" stroke="#444" stroke-width="0.7"/>
<line x1="158.50" y1="317.30" x2="159.50" y2="317.30" stroke="#444" stroke-width="0.7"/>
<line x1="254.90" y1="412.20" x2="254.90" y2="413.20" stroke="#444" stroke-width="0.7"/>
<text transform="translate(156.20,412.20) rotate(-90)" text-anchor="middle" font-size="5.3" font-weight="bold" fill="#222" stroke="#222" stroke-width="0.3"><tspan>10</tspan><tspan dy="-1.8" font-size="4">0</tspan></text>
<text x="159.50" y="419.40" text-anchor="middle" font-size="5.3" font-weight="bold" fill="#222" stroke="#222" stroke-width="0.3"><tspan>10</tspan><tspan dy="-1.8" font-size="4">0</tspan></text>
<text transform="translate(156.20,388.20) rotate(-90)" text-anchor="middle" font-size="5.3" font-weight="bold" fill="#222" stroke="#222" stroke-width="0.3"><tspan>10</tspan><tspan dy="-1.8" font-size="4">1</tspan></text>
<text x="183.62" y="419.40" text-anchor="middle" font-size="5.3" font-weight="bold" fill="#222" stroke="#222" stroke-width="0.3"><tspan>10</tspan><tspan dy="-1.8" font-size="4">1</tspan></text>
<text transform="translate(156.20,364.20) rotate(-90)" text-anchor="middle" font-size="5.3" font-weight="bold" fill="#222" stroke="#222" stroke-width="0.3"><tspan>10</tspan><tspan dy="-1.8" font-size="4">2</tspan></text>
<text x="207.75" y="419.40" text-anchor="middle" font-size="5.3" font-weight="bold" fill="#222" stroke="#222" stroke-width="0.3"><tspan>10</tspan><tspan dy="-1.8" font-size="4">2</tspan></text>
<text transform="translate(156.20,340.20) rotate(-90)" text-anchor="middle" font-size="5.3" font-weight="bold" fill="#222" stroke="#222" stroke-width="0.3"><tspan>10</tspan><tspan dy="-1.8" font-size="4">3</tspan></text>
<text x="231.88" y="419.40" text-anchor="middle" font-size="5.3" font-weight="bold" fill="#222" stroke="#222" stroke-width="0.3"><tspan>10</tspan><tspan dy="-1.8" font-size="4">3</tspan></text>
<text transform="translate(156.20,316.20) rotate(-90)" text-anchor="middle" font-size="5.3" font-weight="bold" fill="#222" stroke="#222" stroke-width="0.3"><tspan>10</tspan><tspan dy="-1.8" font-size="4">4</tspan></text>
<text x="256.00" y="419.40" text-anchor="middle" font-size="5.3" font-weight="bold" fill="#222" stroke="#222" stroke-width="0.3"><tspan>10</tspan><tspan dy="-1.8" font-size="4">4</tspan></text>
<text x="42.48" y="329.50" font-size="8.75" font-weight="bold" fill="#111" stroke="#111" stroke-width="0.55" textLength="26.04" lengthAdjust="spacingAndGlyphs">14.2 %</text>
<line x1="42.60" y1="333.90" x2="64.90" y2="333.90" stroke="#111" stroke-width="1.3"/>
<text x="108.88" y="332.80" font-size="9.46" font-weight="bold" fill="#3a3a3a" textLength="17.53" lengthAdjust="spacingAndGlyphs">5.6%</text>
<text x="162.77" y="328.70" font-size="8.89" font-weight="bold" fill="#333" stroke="#333" stroke-width="0.2" textLength="25.24" lengthAdjust="spacingAndGlyphs">33.4 %</text>
<line x1="161.40" y1="332.40" x2="183.70" y2="332.40" stroke="#111" stroke-width="1.3"/>
<text x="230.59" y="332.50" font-size="8.60" font-weight="bold" fill="#3a3a3a" textLength="18.52" lengthAdjust="spacingAndGlyphs">3.2 %</text>
<rect x="257.7" y="307.8" width="1.5" height="4.6" fill="#222"/>
<line x1="59.90" y1="296.10" x2="54.17" y2="311.84" stroke="#111" stroke-width="1.2"/>
<polygon points="51.82,308.65 52.80,315.60 58.02,310.90 54.17,311.84" fill="#111"/>
<line x1="179.00" y1="296.10" x2="172.42" y2="312.10" stroke="#111" stroke-width="1.2"/>
<polygon points="170.21,308.81 170.90,315.80 176.31,311.32 172.42,312.10" fill="#111"/>
<text transform="translate(9.90,392.05) rotate(-90)" x="0" y="0" font-size="10.60" font-weight="bold" fill="#111" stroke="#111" stroke-width="0.55" textLength="55.77" lengthAdjust="spacingAndGlyphs">FITC CD71,</text>
<text transform="translate(23.70,400.16) rotate(-90)" x="0" y="0" font-size="10.60" font-weight="bold" fill="#111" stroke="#111" stroke-width="0.55" textLength="69.94" lengthAdjust="spacingAndGlyphs">ANNEXIN-V(+)</text>
<line x1="41.50" y1="434.30" x2="72.70" y2="434.30" stroke="#111" stroke-width="1.0"/>
<text x="83.42" y="437.00" font-size="10.88" font-weight="bold" fill="#111" stroke="#111" stroke-width="0.55" textLength="53.72" lengthAdjust="spacingAndGlyphs">PE CD117,</text>
<text x="141.23" y="437.00" font-size="10.88" font-weight="bold" fill="#111" stroke="#111" stroke-width="0.55" textLength="71.35" lengthAdjust="spacingAndGlyphs">ANNEXIN-V(+)</text>
<line x1="218.00" y1="435.50" x2="260.00" y2="435.50" stroke="#111" stroke-width="1.0"/>
<polyline points="256.5,433.6 261.2,435.5 256.5,437.4" fill="none" stroke="#111" stroke-width="1"/>
<line x1="305.10" y1="306.30" x2="305.10" y2="412.40" stroke="#111" stroke-width="1.1"/>
<line x1="304.60" y1="411.90" x2="399.40" y2="411.90" stroke="#111" stroke-width="1.1"/>
<line x1="302.90" y1="411.90" x2="305.10" y2="411.90" stroke="#111" stroke-width="1"/>
<text x="300.90" y="414.20" text-anchor="end" font-size="6.2" font-weight="bold" fill="#1a1a1a" stroke="#1a1a1a" stroke-width="0.3">0</text>
<line x1="302.90" y1="376.93" x2="305.10" y2="376.93" stroke="#111" stroke-width="1"/>
<text x="300.90" y="379.23" text-anchor="end" font-size="6.2" font-weight="bold" fill="#1a1a1a" stroke="#1a1a1a" stroke-width="0.3">10</text>
<line x1="302.90" y1="341.97" x2="305.10" y2="341.97" stroke="#111" stroke-width="1"/>
<text x="300.90" y="344.27" text-anchor="end" font-size="6.2" font-weight="bold" fill="#1a1a1a" stroke="#1a1a1a" stroke-width="0.3">20</text>
<line x1="302.90" y1="307.00" x2="305.10" y2="307.00" stroke="#111" stroke-width="1"/>
<text x="300.90" y="309.30" text-anchor="end" font-size="6.2" font-weight="bold" fill="#1a1a1a" stroke="#1a1a1a" stroke-width="0.3">30</text>
<text transform="translate(290.50,408.65) rotate(-90)" x="0" y="0" font-size="9.60" font-weight="bold" fill="#111" stroke="#111" stroke-width="0.55" textLength="88.53" lengthAdjust="spacingAndGlyphs">% Annexin V+ Cells</text>
<rect x="310.2" y="395.2" width="7.8" height="16.7" fill="#fff" stroke="#111" stroke-width="1"/>
<line x1="314.10" y1="395.20" x2="314.10" y2="394.00" stroke="#111" stroke-width="1"/>
<line x1="311.60" y1="394.00" x2="316.60" y2="394.00" stroke="#111" stroke-width="1.2"/>
<rect x="321.2" y="390.6" width="8.0" height="21.3" fill="url(#hatch)" stroke="#111" stroke-width="1"/>
<line x1="325.20" y1="390.60" x2="325.20" y2="389.20" stroke="#111" stroke-width="1"/>
<line x1="322.70" y1="389.20" x2="327.70" y2="389.20" stroke="#111" stroke-width="1.2"/>
<rect x="344" y="393.6" width="7.4" height="18.3" fill="#fff" stroke="#111" stroke-width="1"/>
<line x1="347.70" y1="393.60" x2="347.70" y2="392.00" stroke="#111" stroke-width="1"/>
<line x1="345.20" y1="392.00" x2="350.20" y2="392.00" stroke="#111" stroke-width="1.2"/>
<rect x="355.4" y="391" width="7.4" height="20.9" fill="url(#hatch)" stroke="#111" stroke-width="1"/>
<line x1="359.10" y1="391.00" x2="359.10" y2="389.60" stroke="#111" stroke-width="1"/>
<line x1="356.60" y1="389.60" x2="361.60" y2="389.60" stroke="#111" stroke-width="1.2"/>
<rect x="377.8" y="370.2" width="7.9" height="41.7" fill="#fff" stroke="#111" stroke-width="1"/>
<line x1="381.75" y1="370.20" x2="381.75" y2="367.80" stroke="#111" stroke-width="1"/>
<line x1="379.25" y1="367.80" x2="384.25" y2="367.80" stroke="#111" stroke-width="1.2"/>
<rect x="389.9" y="322.8" width="8.5" height="89.1" fill="url(#hatch)" stroke="#111" stroke-width="1"/>
<line x1="394.15" y1="322.80" x2="394.15" y2="320.80" stroke="#111" stroke-width="1"/>
<line x1="391.65" y1="320.80" x2="396.65" y2="320.80" stroke="#111" stroke-width="1.2"/>
<rect x="314.6" y="308.6" width="12.9" height="4.2" fill="#fff" stroke="#111" stroke-width="1.1"/>
<rect x="314.6" y="321.5" width="12.9" height="4.2" fill="url(#hatch)" stroke="#111" stroke-width="1.1"/>
<text x="308.70" y="424.80" font-size="7.75" font-weight="bold" fill="#111" stroke="#111" stroke-width="0.4" textLength="8.53" lengthAdjust="spacingAndGlyphs">Kit</text>
<text x="316.99" y="421.70" font-size="6.49" font-weight="bold" fill="#111" stroke="#111" stroke-width="0.4" textLength="11.57" lengthAdjust="spacingAndGlyphs">pos</text>
<text x="308.91" y="433.20" font-size="7.75" font-weight="bold" fill="#111" stroke="#111" stroke-width="0.4" textLength="15.75" lengthAdjust="spacingAndGlyphs">CD71</text>
<text x="324.71" y="430.20" font-size="6.47" font-weight="bold" fill="#111" stroke="#111" stroke-width="0.4" textLength="10.47" lengthAdjust="spacingAndGlyphs">low</text>
<text x="341.40" y="424.80" font-size="7.75" font-weight="bold" fill="#111" stroke="#111" stroke-width="0.4" textLength="8.53" lengthAdjust="spacingAndGlyphs">Kit</text>
<text x="349.69" y="421.70" font-size="6.49" font-weight="bold" fill="#111" stroke="#111" stroke-width="0.4" textLength="11.68" lengthAdjust="spacingAndGlyphs">pos</text>
<text x="341.61" y="433.20" font-size="7.75" font-weight="bold" fill="#111" stroke="#111" stroke-width="0.4" textLength="15.34" lengthAdjust="spacingAndGlyphs">CD71</text>
<text x="357.40" y="430.20" font-size="6.47" font-weight="bold" fill="#111" stroke="#111" stroke-width="0.4" textLength="13.62" lengthAdjust="spacingAndGlyphs">high</text>
<text x="375.80" y="424.80" font-size="7.75" font-weight="bold" fill="#111" stroke="#111" stroke-width="0.4" textLength="8.53" lengthAdjust="spacingAndGlyphs">Kit</text>
<text x="384.08" y="421.70" font-size="6.49" font-weight="bold" fill="#111" stroke="#111" stroke-width="0.4" textLength="11.84" lengthAdjust="spacingAndGlyphs">neg</text>
<text x="376.01" y="433.20" font-size="7.75" font-weight="bold" fill="#111" stroke="#111" stroke-width="0.4" textLength="15.34" lengthAdjust="spacingAndGlyphs">CD71</text>
<text x="391.59" y="430.20" font-size="6.47" font-weight="bold" fill="#111" stroke="#111" stroke-width="0.4" textLength="13.83" lengthAdjust="spacingAndGlyphs">high</text>
</g>
</svg>
</body></html>
